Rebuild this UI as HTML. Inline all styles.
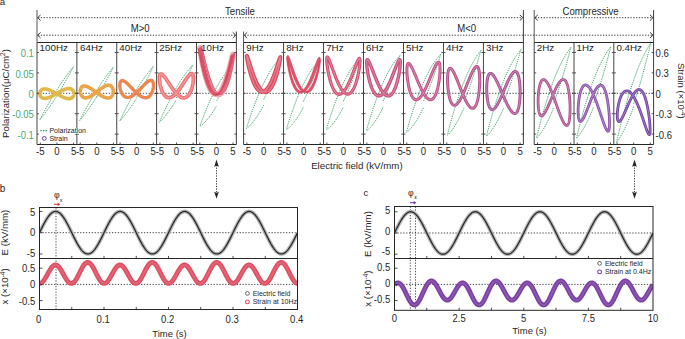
<!DOCTYPE html>
<html><head><meta charset="utf-8"><style>html,body{margin:0;padding:0;background:#fff;width:685px;height:339px;overflow:hidden}</style></head>
<body><div style="width:685px;height:339px">
<svg width="685" height="339" viewBox="0 0 685 339" style="display:block;font-family:'Liberation Sans',sans-serif">
<style>text{stroke-width:0.0px}</style>
<rect width="685" height="339" fill="#fff"/>
<g>
<defs>
<clipPath id="c0"><rect x="37" y="42.5" width="39.87" height="102"/></clipPath>
<clipPath id="c1"><rect x="76.87" y="42.5" width="39.87" height="102"/></clipPath>
<clipPath id="c2"><rect x="116.74" y="42.5" width="39.87" height="102"/></clipPath>
<clipPath id="c3"><rect x="156.61" y="42.5" width="39.87" height="102"/></clipPath>
<clipPath id="c4"><rect x="196.48" y="42.5" width="39.87" height="102"/></clipPath>
<clipPath id="c5"><rect x="243.6" y="42.5" width="39.97" height="102"/></clipPath>
<clipPath id="c6"><rect x="283.57" y="42.5" width="39.97" height="102"/></clipPath>
<clipPath id="c7"><rect x="323.54" y="42.5" width="39.97" height="102"/></clipPath>
<clipPath id="c8"><rect x="363.51" y="42.5" width="39.97" height="102"/></clipPath>
<clipPath id="c9"><rect x="403.49" y="42.5" width="39.97" height="102"/></clipPath>
<clipPath id="c10"><rect x="443.46" y="42.5" width="39.97" height="102"/></clipPath>
<clipPath id="c11"><rect x="483.43" y="42.5" width="39.97" height="102"/></clipPath>
<clipPath id="c12"><rect x="534.2" y="42.5" width="39.8" height="102"/></clipPath>
<clipPath id="c13"><rect x="574" y="42.5" width="39.8" height="102"/></clipPath>
<clipPath id="c14"><rect x="613.8" y="42.5" width="39.8" height="102"/></clipPath>
</defs>
<g clip-path="url(#c0)">
<line x1="37" y1="93.3" x2="76.87" y2="93.3" stroke="#222" stroke-width="0.85" stroke-dasharray="1.3 1.6"/>
<path d="M56.6,96.25 57.19,95.32 57.77,94.38 58.36,93.44 58.94,92.5 59.52,91.55 60.09,90.6 60.66,89.65 61.23,88.7 61.79,87.76 62.35,86.82 62.89,85.88 63.43,84.95 63.96,84.03 64.49,83.12 65,82.23 65.5,81.34 65.99,80.47 66.47,79.61 66.94,78.77 67.4,77.94 67.84,77.14 68.27,76.36 68.68,75.6 69.08,74.86 69.47,74.15 69.84,73.47 70.19,72.81 70.53,72.18 70.85,71.58 71.15,71.01 71.43,70.47 71.7,69.96 71.95,69.49 72.18,69.05 72.39,68.65 72.58,68.29 72.75,67.96 72.9,67.66 73.03,67.41 73.14,67.19 73.24,67.02 73.31,66.88 73.36,66.78 73.39,66.72 73.4,66.7 73.39,66.71 73.36,66.75 73.31,66.81 73.24,66.9 73.14,67.01 73.03,67.15 72.9,67.31 72.75,67.5 72.58,67.71 72.39,67.95 72.18,68.21 71.95,68.5 71.7,68.81 71.43,69.15 71.15,69.51 70.85,69.89 70.53,70.3 70.19,70.73 69.84,71.19 69.47,71.67 69.08,72.18 68.68,72.7 68.27,73.25 67.84,73.83 67.4,74.42 66.94,75.04 66.47,75.68 65.99,76.34 65.5,77.02 65,77.73 64.49,78.45 63.96,79.19 63.43,79.95 62.89,80.73 62.35,81.52 61.79,82.33 61.23,83.16 60.66,84 60.09,84.86 59.52,85.73 58.94,86.61 58.36,87.51 57.77,88.41 57.19,89.33 56.6,90.25 56.01,91.18 55.43,92.12 54.84,93.06 54.26,94 53.68,94.95 53.11,95.9 52.54,96.85 51.97,97.8 51.41,98.74 50.85,99.68 50.31,100.62 49.77,101.55 49.24,102.47 48.71,103.38 48.2,104.28 47.7,105.16 47.21,106.03 46.73,106.89 46.26,107.73 45.8,108.56 45.36,109.36 44.93,110.14 44.52,110.9 44.12,111.64 43.73,112.35 43.36,113.03 43.01,113.69 42.67,114.32 42.35,114.92 42.05,115.49 41.77,116.03 41.5,116.54 41.25,117.01 41.02,117.45 40.81,117.85 40.62,118.21 40.45,118.54 40.3,118.84 40.17,119.09 40.06,119.31 39.96,119.48 39.89,119.62 39.84,119.72 39.81,119.78 39.8,119.8 39.81,119.79 39.84,119.75 39.89,119.69 39.96,119.6 40.06,119.49 40.17,119.35 40.3,119.19 40.45,119 40.62,118.79 40.81,118.55 41.02,118.29 41.25,118 41.5,117.69 41.77,117.35 42.05,116.99 42.35,116.61 42.67,116.2 43.01,115.77 43.36,115.31 43.73,114.83 44.12,114.32 44.52,113.8 44.93,113.25 45.36,112.67 45.8,112.08 46.26,111.46 46.73,110.82 47.21,110.16 47.7,109.48 48.2,108.78 48.71,108.05 49.24,107.31 49.77,106.55 50.31,105.77 50.85,104.98 51.41,104.17 51.97,103.34 52.54,102.5 53.11,101.64 53.68,100.77 54.26,99.89 54.84,98.99 55.43,98.09 56.01,97.17 56.6,96.25" fill="none" stroke="#38a063" stroke-width="1.0" stroke-dasharray="1.2 1.0"/>
<path d="M56.86,93.39 57.35,93.11 57.83,92.83 58.32,92.55 58.8,92.28 59.29,92 59.77,91.74 60.25,91.48 60.72,91.22 61.19,90.97 61.66,90.74 62.13,90.51 62.59,90.28 63.04,90.08 63.5,89.88 63.94,89.69 64.38,89.52 64.81,89.35 65.24,89.21 65.66,89.07 66.08,88.95 66.48,88.85 66.88,88.76 67.27,88.69 67.65,88.63 68.02,88.59 68.39,88.56 68.74,88.55 69.08,88.56 69.42,88.59 69.74,88.62 70.06,88.68 70.36,88.75 70.65,88.84 70.93,88.94 71.2,89.06 71.46,89.19 71.7,89.34 71.94,89.5 72.16,89.67 72.36,89.86 72.56,90.05 72.74,90.26 72.91,90.48 73.07,90.71 73.21,90.95 73.35,91.2 73.46,91.46 73.57,91.72 73.66,91.99 73.73,92.26 73.79,92.54 73.84,92.82 73.88,93.1 73.9,93.39 73.91,93.68 73.9,93.96 73.88,94.25 73.84,94.53 73.79,94.81 73.73,95.08 73.66,95.35 73.57,95.62 73.46,95.88 73.35,96.13 73.21,96.37 73.07,96.61 72.91,96.83 72.74,97.05 72.56,97.25 72.36,97.44 72.16,97.62 71.94,97.79 71.7,97.94 71.46,98.08 71.2,98.21 70.93,98.32 70.65,98.42 70.36,98.5 70.06,98.56 69.74,98.61 69.42,98.65 69.08,98.67 68.74,98.67 68.39,98.65 68.02,98.62 67.65,98.58 67.27,98.52 66.88,98.44 66.48,98.35 66.08,98.25 65.66,98.13 65.24,97.99 64.81,97.84 64.38,97.68 63.94,97.51 63.5,97.32 63.04,97.13 62.59,96.92 62.13,96.7 61.66,96.47 61.19,96.24 60.72,95.99 60.25,95.74 59.77,95.49 59.29,95.22 58.8,94.96 58.32,94.69 57.83,94.41 57.35,94.14 56.86,93.86 56.37,93.59 55.89,93.31 55.4,93.04 54.92,92.76 54.44,92.49 53.95,92.23 53.48,91.97 53,91.72 52.53,91.47 52.06,91.23 51.59,91 51.13,90.78 50.68,90.57 50.23,90.37 49.78,90.18 49.34,90 48.91,89.83 48.48,89.68 48.06,89.53 47.65,89.41 47.24,89.29 46.84,89.2 46.45,89.11 46.07,89.04 45.7,88.99 45.34,88.95 44.98,88.93 44.64,88.92 44.3,88.93 43.98,88.96 43.67,89 43.36,89.05 43.07,89.12 42.79,89.21 42.52,89.31 42.27,89.42 42.02,89.55 41.79,89.69 41.57,89.85 41.36,90.02 41.16,90.2 40.98,90.39 40.81,90.59 40.65,90.8 40.51,91.02 40.38,91.25 40.26,91.49 40.16,91.74 40.07,91.99 39.99,92.25 39.93,92.51 39.88,92.78 39.84,93.05 39.82,93.32 39.82,93.59 39.82,93.86 39.84,94.13 39.88,94.4 39.93,94.67 39.99,94.94 40.07,95.2 40.16,95.45 40.26,95.7 40.38,95.94 40.51,96.18 40.65,96.41 40.81,96.62 40.98,96.83 41.16,97.03 41.36,97.21 41.57,97.39 41.79,97.55 42.02,97.69 42.27,97.83 42.52,97.95 42.79,98.06 43.07,98.15 43.36,98.22 43.67,98.28 43.98,98.33 44.3,98.36 44.64,98.37 44.98,98.37 45.34,98.35 45.7,98.31 46.07,98.26 46.45,98.2 46.84,98.12 47.24,98.02 47.65,97.91 48.06,97.78 48.48,97.64 48.91,97.49 49.34,97.32 49.78,97.14 50.23,96.95 50.68,96.74 51.13,96.53 51.59,96.3 52.06,96.07 52.53,95.83 53,95.58 53.48,95.32 53.95,95.05 54.44,94.79 54.92,94.51 55.4,94.23 55.89,93.96 56.37,93.67 56.86,93.39Z" fill="none" stroke="#dfb94a" stroke-width="3.6" stroke-linejoin="round"/>
</g>
<g clip-path="url(#c1)">
<line x1="76.87" y1="93.3" x2="116.74" y2="93.3" stroke="#222" stroke-width="0.85" stroke-dasharray="1.3 1.6"/>
<path d="M96.6,97.05 97.19,96.12 97.77,95.17 98.36,94.23 98.94,93.28 99.52,92.32 100.09,91.37 100.66,90.41 101.23,89.45 101.79,88.5 102.35,87.55 102.89,86.6 103.43,85.66 103.96,84.73 104.49,83.81 105,82.9 105.5,82 105.99,81.12 106.47,80.25 106.94,79.39 107.4,78.56 107.84,77.74 108.27,76.94 108.68,76.17 109.08,75.42 109.47,74.7 109.84,74 110.19,73.33 110.53,72.69 110.85,72.08 111.15,71.5 111.43,70.95 111.7,70.43 111.95,69.95 112.18,69.5 112.39,69.09 112.58,68.72 112.75,68.38 112.9,68.08 113.03,67.83 113.14,67.6 113.24,67.42 113.31,67.28 113.36,67.18 113.39,67.12 113.4,67.1 113.39,67.11 113.36,67.15 113.31,67.21 113.24,67.3 113.14,67.41 113.03,67.54 112.9,67.7 112.75,67.88 112.58,68.09 112.39,68.32 112.18,68.58 111.95,68.86 111.7,69.16 111.43,69.49 111.15,69.85 110.85,70.22 110.53,70.62 110.19,71.05 109.84,71.5 109.47,71.97 109.08,72.47 108.68,72.99 108.27,73.53 107.84,74.1 107.4,74.68 106.94,75.29 106.47,75.93 105.99,76.58 105.5,77.25 105,77.95 104.49,78.67 103.96,79.4 103.43,80.16 102.89,80.93 102.35,81.72 101.79,82.53 101.23,83.35 100.66,84.2 100.09,85.05 99.52,85.92 98.94,86.8 98.36,87.7 97.77,88.61 97.19,89.52 96.6,90.45 96.01,91.38 95.43,92.33 94.84,93.27 94.26,94.22 93.68,95.18 93.11,96.13 92.54,97.09 91.97,98.05 91.41,99 90.85,99.95 90.31,100.9 89.77,101.84 89.24,102.77 88.71,103.69 88.2,104.6 87.7,105.5 87.21,106.38 86.73,107.25 86.26,108.11 85.8,108.94 85.36,109.76 84.93,110.56 84.52,111.33 84.12,112.08 83.73,112.8 83.36,113.5 83.01,114.17 82.67,114.81 82.35,115.42 82.05,116 81.77,116.55 81.5,117.07 81.25,117.55 81.02,118 80.81,118.41 80.62,118.78 80.45,119.12 80.3,119.42 80.17,119.67 80.06,119.9 79.96,120.08 79.89,120.22 79.84,120.32 79.81,120.38 79.8,120.4 79.81,120.39 79.84,120.35 79.89,120.29 79.96,120.2 80.06,120.09 80.17,119.96 80.3,119.8 80.45,119.62 80.62,119.41 80.81,119.18 81.02,118.92 81.25,118.64 81.5,118.34 81.77,118.01 82.05,117.65 82.35,117.28 82.67,116.88 83.01,116.45 83.36,116 83.73,115.53 84.12,115.03 84.52,114.51 84.93,113.97 85.36,113.4 85.8,112.82 86.26,112.21 86.73,111.57 87.21,110.92 87.7,110.25 88.2,109.55 88.71,108.83 89.24,108.1 89.77,107.34 90.31,106.57 90.85,105.78 91.41,104.97 91.97,104.15 92.54,103.3 93.11,102.45 93.68,101.58 94.26,100.7 94.84,99.8 95.43,98.89 96.01,97.98 96.6,97.05" fill="none" stroke="#38a063" stroke-width="1.0" stroke-dasharray="1.2 1.0"/>
<path d="M96.75,91.93 97.22,91.56 97.69,91.19 98.16,90.82 98.63,90.46 99.1,90.1 99.56,89.74 100.02,89.39 100.48,89.05 100.94,88.71 101.39,88.39 101.84,88.07 102.29,87.77 102.73,87.48 103.16,87.21 103.59,86.95 104.02,86.7 104.44,86.47 104.85,86.26 105.26,86.07 105.66,85.9 106.05,85.74 106.43,85.61 106.81,85.49 107.18,85.4 107.54,85.33 107.89,85.28 108.23,85.25 108.56,85.24 108.88,85.25 109.2,85.28 109.5,85.34 109.79,85.41 110.07,85.51 110.34,85.62 110.6,85.76 110.85,85.91 111.09,86.09 111.32,86.28 111.53,86.49 111.73,86.71 111.92,86.95 112.1,87.21 112.26,87.48 112.41,87.77 112.55,88.06 112.68,88.37 112.79,88.69 112.89,89.02 112.98,89.35 113.05,89.7 113.11,90.05 113.16,90.4 113.19,90.76 113.21,91.12 113.22,91.48 113.21,91.84 113.19,92.2 113.16,92.56 113.11,92.91 113.05,93.26 112.98,93.61 112.89,93.94 112.79,94.28 112.68,94.6 112.55,94.91 112.41,95.21 112.26,95.5 112.1,95.78 111.92,96.05 111.73,96.3 111.53,96.54 111.32,96.76 111.09,96.96 110.85,97.15 110.6,97.33 110.34,97.48 110.07,97.62 109.79,97.74 109.5,97.84 109.2,97.92 108.88,97.98 108.56,98.02 108.23,98.05 107.89,98.05 107.54,98.04 107.18,98.01 106.81,97.95 106.43,97.88 106.05,97.79 105.66,97.69 105.26,97.56 104.85,97.42 104.44,97.26 104.02,97.08 103.59,96.89 103.16,96.69 102.73,96.47 102.29,96.23 101.84,95.99 101.39,95.73 100.94,95.46 100.48,95.18 100.02,94.89 99.56,94.59 99.1,94.28 98.63,93.97 98.16,93.65 97.69,93.32 97.22,92.99 96.75,92.66 96.28,92.33 95.81,91.99 95.35,91.66 94.88,91.33 94.41,90.99 93.95,90.67 93.48,90.34 93.02,90.02 92.57,89.71 92.12,89.41 91.67,89.11 91.22,88.82 90.78,88.54 90.35,88.28 89.91,88.02 89.49,87.78 89.07,87.55 88.66,87.33 88.25,87.13 87.85,86.94 87.46,86.77 87.08,86.61 86.7,86.48 86.33,86.36 85.97,86.25 85.62,86.17 85.28,86.1 84.95,86.06 84.62,86.03 84.31,86.02 84.01,86.03 83.72,86.06 83.43,86.1 83.16,86.17 82.9,86.26 82.66,86.36 82.42,86.48 82.19,86.62 81.98,86.78 81.78,86.95 81.59,87.14 81.41,87.35 81.25,87.57 81.1,87.81 80.96,88.06 80.83,88.32 80.72,88.6 80.62,88.89 80.53,89.18 80.46,89.49 80.4,89.81 80.35,90.13 80.32,90.46 80.3,90.79 80.29,91.13 80.3,91.47 80.32,91.82 80.35,92.16 80.4,92.5 80.46,92.85 80.53,93.19 80.62,93.52 80.72,93.85 80.83,94.18 80.96,94.5 81.1,94.8 81.25,95.1 81.41,95.39 81.59,95.67 81.78,95.93 81.98,96.19 82.19,96.42 82.42,96.64 82.66,96.85 82.9,97.04 83.16,97.21 83.43,97.36 83.72,97.49 84.01,97.61 84.31,97.7 84.62,97.77 84.95,97.83 85.28,97.86 85.62,97.87 85.97,97.86 86.33,97.83 86.7,97.78 87.08,97.71 87.46,97.61 87.85,97.5 88.25,97.37 88.66,97.21 89.07,97.04 89.49,96.85 89.91,96.64 90.35,96.41 90.78,96.17 91.22,95.91 91.67,95.64 92.12,95.35 92.57,95.05 93.02,94.73 93.48,94.41 93.95,94.08 94.41,93.73 94.88,93.38 95.35,93.03 95.81,92.66 96.28,92.3 96.75,91.93Z" fill="none" stroke="#eaa54a" stroke-width="3.6" stroke-linejoin="round"/>
</g>
<g clip-path="url(#c2)">
<line x1="116.74" y1="93.3" x2="156.61" y2="93.3" stroke="#222" stroke-width="0.85" stroke-dasharray="1.3 1.6"/>
<path d="M136.6,97.35 137.19,96.4 137.77,95.45 138.36,94.49 138.94,93.52 139.52,92.55 140.09,91.57 140.66,90.59 141.23,89.61 141.79,88.62 142.35,87.65 142.89,86.67 143.43,85.7 143.96,84.74 144.49,83.78 145,82.83 145.5,81.9 145.99,80.98 146.47,80.07 146.94,79.18 147.4,78.31 147.84,77.45 148.27,76.62 148.68,75.81 149.08,75.02 149.47,74.26 149.84,73.53 150.19,72.83 150.53,72.15 150.85,71.51 151.15,70.9 151.43,70.32 151.7,69.78 151.95,69.27 152.18,68.8 152.39,68.37 152.58,67.98 152.75,67.62 152.9,67.31 153.03,67.04 153.14,66.81 153.24,66.62 153.31,66.48 153.36,66.38 153.39,66.32 153.4,66.3 153.39,66.32 153.36,66.36 153.31,66.42 153.24,66.5 153.14,66.61 153.03,66.74 152.9,66.9 152.75,67.08 152.58,67.28 152.39,67.5 152.18,67.75 151.95,68.01 151.7,68.31 151.43,68.62 151.15,68.96 150.85,69.33 150.53,69.71 150.19,70.12 149.84,70.56 149.47,71.02 149.08,71.5 148.68,72 148.27,72.53 147.84,73.08 147.4,73.65 146.94,74.25 146.47,74.87 145.99,75.51 145.5,76.18 145,76.87 144.49,77.58 143.96,78.31 143.43,79.06 142.89,79.83 142.35,80.62 141.79,81.43 141.23,82.25 140.66,83.1 140.09,83.96 139.52,84.84 138.94,85.74 138.36,86.65 137.77,87.57 137.19,88.5 136.6,89.45 136.01,90.41 135.43,91.37 134.84,92.35 134.26,93.33 133.68,94.31 133.11,95.3 132.54,96.29 131.97,97.28 131.41,98.28 130.85,99.27 130.31,100.25 129.77,101.23 129.24,102.21 128.71,103.18 128.2,104.13 127.7,105.08 127.21,106.01 126.73,106.93 126.26,107.83 125.8,108.72 125.36,109.58 124.93,110.42 124.52,111.25 124.12,112.04 123.73,112.81 123.36,113.56 123.01,114.27 122.67,114.96 122.35,115.61 122.05,116.24 121.77,116.82 121.5,117.38 121.25,117.9 121.02,118.38 120.81,118.82 120.62,119.22 120.45,119.59 120.3,119.91 120.17,120.19 120.06,120.43 119.96,120.63 119.89,120.79 119.84,120.9 119.81,120.97 119.8,121 119.81,120.99 119.84,120.97 119.89,120.91 119.96,120.84 120.06,120.74 120.17,120.62 120.3,120.48 120.45,120.31 120.62,120.12 120.81,119.91 121.02,119.68 121.25,119.42 121.5,119.14 121.77,118.83 122.05,118.5 122.35,118.15 122.67,117.77 123.01,117.38 123.36,116.95 123.73,116.51 124.12,116.04 124.52,115.54 124.93,115.03 125.36,114.49 125.8,113.92 126.26,113.34 126.73,112.73 127.21,112.1 127.7,111.44 128.2,110.77 128.71,110.07 129.24,109.35 129.77,108.61 130.31,107.85 130.85,107.07 131.41,106.27 131.97,105.46 132.54,104.62 133.11,103.77 133.68,102.9 134.26,102.02 134.84,101.12 135.43,100.21 136.01,99.29 136.6,98.35" fill="none" stroke="#38a063" stroke-width="1.0" stroke-dasharray="1.2 1.0"/>
<path d="M136.67,92.5 137.15,92.06 137.63,91.6 138.11,91.13 138.59,90.66 139.07,90.17 139.54,89.69 140.01,89.2 140.48,88.71 140.95,88.22 141.41,87.74 141.87,87.26 142.32,86.78 142.77,86.31 143.22,85.85 143.66,85.39 144.09,84.95 144.52,84.52 144.94,84.11 145.35,83.71 145.76,83.33 146.16,82.97 146.55,82.62 146.94,82.3 147.31,82 147.68,81.72 148.04,81.46 148.39,81.23 148.73,81.02 149.05,80.84 149.37,80.69 149.68,80.56 149.98,80.46 150.27,80.38 150.55,80.34 150.81,80.32 151.06,80.33 151.31,80.37 151.54,80.44 151.75,80.53 151.96,80.65 152.15,80.8 152.33,80.97 152.5,81.18 152.66,81.4 152.8,81.65 152.93,81.93 153.04,82.22 153.14,82.54 153.23,82.88 153.31,83.24 153.37,83.62 153.42,84.02 153.45,84.43 153.47,84.86 153.48,85.3 153.47,85.75 153.45,86.21 153.42,86.68 153.37,87.16 153.31,87.65 153.23,88.14 153.14,88.63 153.04,89.12 152.93,89.62 152.8,90.11 152.66,90.6 152.5,91.08 152.33,91.56 152.15,92.03 151.96,92.48 151.75,92.93 151.54,93.37 151.31,93.79 151.06,94.19 150.81,94.58 150.55,94.95 150.27,95.31 149.98,95.64 149.68,95.95 149.37,96.24 149.05,96.5 148.73,96.75 148.39,96.96 148.04,97.16 147.68,97.32 147.31,97.46 146.94,97.57 146.55,97.66 146.16,97.71 145.76,97.74 145.35,97.75 144.94,97.72 144.52,97.67 144.09,97.58 143.66,97.47 143.22,97.34 142.77,97.18 142.32,96.99 141.87,96.78 141.41,96.54 140.95,96.28 140.48,95.99 140.01,95.68 139.54,95.35 139.07,95.01 138.59,94.64 138.11,94.26 137.63,93.85 137.15,93.44 136.67,93.01 136.19,92.57 135.71,92.11 135.24,91.65 134.76,91.18 134.28,90.7 133.81,90.22 133.34,89.73 132.87,89.25 132.4,88.76 131.94,88.27 131.48,87.79 131.03,87.31 130.58,86.84 130.13,86.38 129.69,85.92 129.26,85.47 128.83,85.04 128.41,84.62 128,84.22 127.59,83.83 127.19,83.46 126.8,83.11 126.41,82.77 126.04,82.46 125.67,82.17 125.31,81.9 124.96,81.66 124.62,81.44 124.29,81.25 123.97,81.08 123.66,80.93 123.37,80.82 123.08,80.73 122.8,80.67 122.54,80.64 122.28,80.63 122.04,80.65 121.81,80.7 121.59,80.78 121.39,80.89 121.19,81.02 121.01,81.18 120.85,81.36 120.69,81.57 120.55,81.8 120.42,82.06 120.31,82.34 120.2,82.64 120.12,82.97 120.04,83.31 119.98,83.67 119.93,84.05 119.9,84.45 119.88,84.86 119.87,85.29 119.88,85.73 119.9,86.17 119.93,86.63 119.98,87.1 120.04,87.57 120.12,88.05 120.2,88.53 120.31,89.01 120.42,89.49 120.55,89.98 120.69,90.45 120.85,90.93 121.01,91.39 121.19,91.85 121.39,92.3 121.59,92.74 121.81,93.16 122.04,93.58 122.28,93.97 122.54,94.35 122.8,94.72 123.08,95.06 123.37,95.39 123.66,95.69 123.97,95.97 124.29,96.23 124.62,96.46 124.96,96.67 125.31,96.85 125.67,97.01 126.04,97.14 126.41,97.25 126.8,97.32 127.19,97.37 127.59,97.4 128,97.39 128.41,97.35 128.83,97.29 129.26,97.2 129.69,97.08 130.13,96.94 130.58,96.77 131.03,96.57 131.48,96.35 131.94,96.11 132.4,95.84 132.87,95.54 133.34,95.23 133.81,94.89 134.28,94.54 134.76,94.16 135.24,93.77 135.71,93.36 136.19,92.94 136.67,92.5Z" fill="none" stroke="#ee874f" stroke-width="3.4" stroke-linejoin="round"/>
</g>
<g clip-path="url(#c3)">
<line x1="156.61" y1="93.3" x2="196.48" y2="93.3" stroke="#222" stroke-width="0.85" stroke-dasharray="1.3 1.6"/>
<path d="M176.15,98.05 176.73,97.07 177.31,96.07 177.89,95.07 178.47,94.06 179.04,93.03 179.61,92.01 180.18,90.97 180.74,89.93 181.3,88.9 181.84,87.86 182.39,86.82 182.92,85.78 183.45,84.75 183.97,83.73 184.47,82.72 184.97,81.71 185.46,80.72 185.94,79.74 186.4,78.78 186.85,77.84 187.29,76.92 187.72,76.02 188.13,75.14 188.52,74.29 188.9,73.46 189.27,72.66 189.62,71.9 189.95,71.16 190.27,70.46 190.57,69.79 190.85,69.16 191.11,68.57 191.36,68.02 191.59,67.51 191.8,67.04 191.99,66.61 192.16,66.22 192.31,65.88 192.44,65.59 192.55,65.34 192.64,65.14 192.71,64.98 192.76,64.87 192.79,64.81 192.8,64.8 192.79,64.82 192.76,64.86 192.71,64.93 192.64,65.01 192.55,65.12 192.44,65.25 192.31,65.4 192.16,65.57 191.99,65.76 191.8,65.97 191.59,66.21 191.36,66.47 191.11,66.75 190.85,67.05 190.57,67.38 190.27,67.73 189.95,68.1 189.62,68.5 189.27,68.92 188.9,69.36 188.52,69.83 188.13,70.32 187.72,70.84 187.29,71.38 186.85,71.94 186.4,72.53 185.94,73.15 185.46,73.78 184.97,74.45 184.47,75.13 183.97,75.84 183.45,76.58 182.92,77.34 182.39,78.12 181.84,78.92 181.3,79.75 180.74,80.59 180.18,81.46 179.61,82.35 179.04,83.25 178.47,84.18 177.89,85.12 177.31,86.08 176.73,87.06 176.15,88.05 175.57,89.05 174.99,90.07 174.41,91.1 173.83,92.13 173.26,93.18 172.69,94.23 172.12,95.28 171.56,96.34 171,97.4 170.46,98.47 169.91,99.53 169.38,100.58 168.85,101.64 168.33,102.68 167.82,103.72 167.33,104.74 166.84,105.76 166.36,106.76 165.9,107.74 165.45,108.7 165.01,109.65 164.58,110.57 164.17,111.47 163.78,112.35 163.4,113.2 163.03,114.02 162.68,114.8 162.35,115.56 162.03,116.29 161.73,116.97 161.45,117.63 161.19,118.24 160.94,118.81 160.71,119.35 160.5,119.84 160.31,120.29 160.14,120.7 159.99,121.06 159.86,121.38 159.75,121.65 159.66,121.87 159.59,122.05 159.54,122.18 159.51,122.26 159.5,122.3 159.51,122.3 159.54,122.28 159.59,122.24 159.66,122.18 159.75,122.09 159.86,121.99 159.99,121.86 160.14,121.71 160.31,121.54 160.5,121.35 160.71,121.14 160.94,120.9 161.19,120.64 161.45,120.36 161.73,120.06 162.03,119.73 162.35,119.38 162.68,119 163.03,118.61 163.4,118.19 163.78,117.74 164.17,117.27 164.58,116.78 165.01,116.26 165.45,115.71 165.9,115.15 166.36,114.55 166.84,113.94 167.33,113.3 167.82,112.63 168.33,111.94 168.85,111.23 169.38,110.5 169.91,109.74 170.46,108.96 171,108.15 171.56,107.33 172.12,106.48 172.69,105.62 173.26,104.73 173.83,103.83 174.41,102.91 174.99,101.97 175.57,101.02 176.15,100.05" fill="none" stroke="#38a063" stroke-width="1.0" stroke-dasharray="1.2 1.0"/>
<path d="M176.43,92.89 176.92,92.33 177.4,91.74 177.88,91.14 178.37,90.52 178.85,89.88 179.33,89.22 179.8,88.56 180.28,87.89 180.75,87.2 181.21,86.52 181.68,85.83 182.14,85.14 182.59,84.46 183.04,83.77 183.48,83.1 183.92,82.43 184.35,81.77 184.78,81.13 185.2,80.5 185.61,79.89 186.01,79.3 186.41,78.73 186.8,78.18 187.18,77.66 187.55,77.16 187.91,76.7 188.26,76.26 188.6,75.85 188.94,75.47 189.26,75.13 189.57,74.82 189.87,74.55 190.16,74.32 190.44,74.12 190.71,73.96 190.97,73.84 191.21,73.75 191.44,73.71 191.66,73.7 191.87,73.73 192.07,73.81 192.25,73.92 192.42,74.06 192.57,74.25 192.72,74.47 192.85,74.73 192.96,75.02 193.07,75.35 193.16,75.71 193.23,76.11 193.29,76.53 193.34,76.98 193.38,77.47 193.4,77.97 193.4,78.51 193.4,79.06 193.38,79.64 193.34,80.23 193.29,80.85 193.23,81.48 193.16,82.12 193.07,82.77 192.96,83.44 192.85,84.11 192.72,84.78 192.57,85.46 192.42,86.14 192.25,86.82 192.07,87.49 191.87,88.16 191.66,88.82 191.44,89.47 191.21,90.11 190.97,90.74 190.71,91.35 190.44,91.94 190.16,92.51 189.87,93.06 189.57,93.59 189.26,94.09 188.94,94.57 188.6,95.02 188.26,95.44 187.91,95.83 187.55,96.19 187.18,96.51 186.8,96.8 186.41,97.06 186.01,97.28 185.61,97.46 185.2,97.61 184.78,97.72 184.35,97.79 183.92,97.83 183.48,97.83 183.04,97.79 182.59,97.71 182.14,97.59 181.68,97.44 181.21,97.25 180.75,97.02 180.28,96.76 179.8,96.46 179.33,96.13 178.85,95.77 178.37,95.37 177.88,94.95 177.4,94.49 176.92,94.01 176.43,93.5 175.95,92.97 175.46,92.42 174.98,91.84 174.5,91.25 174.02,90.64 173.54,90.01 173.06,89.37 172.59,88.72 172.12,88.06 171.65,87.39 171.19,86.72 170.73,86.04 170.27,85.37 169.82,84.69 169.38,84.02 168.94,83.36 168.51,82.7 168.08,82.05 167.67,81.42 167.25,80.8 166.85,80.2 166.45,79.61 166.07,79.05 165.69,78.5 165.32,77.98 164.95,77.49 164.6,77.03 164.26,76.59 163.93,76.18 163.6,75.81 163.29,75.46 162.99,75.15 162.7,74.88 162.42,74.64 162.15,74.44 161.9,74.28 161.65,74.15 161.42,74.07 161.2,74.02 160.99,74.01 160.8,74.04 160.61,74.11 160.44,74.22 160.29,74.36 160.14,74.55 160.01,74.77 159.9,75.03 159.8,75.32 159.71,75.65 159.63,76.02 159.57,76.41 159.52,76.84 159.48,77.3 159.46,77.79 159.46,78.3 159.46,78.84 159.48,79.4 159.52,79.99 159.57,80.59 159.63,81.21 159.71,81.85 159.8,82.5 159.9,83.16 160.01,83.83 160.14,84.51 160.29,85.19 160.44,85.88 160.61,86.56 160.8,87.25 160.99,87.92 161.2,88.6 161.42,89.26 161.65,89.91 161.9,90.54 162.15,91.17 162.42,91.77 162.7,92.35 162.99,92.91 163.29,93.45 163.6,93.96 163.93,94.45 164.26,94.9 164.6,95.33 164.95,95.72 165.32,96.08 165.69,96.4 166.07,96.69 166.45,96.95 166.85,97.16 167.25,97.34 167.67,97.48 168.08,97.58 168.51,97.64 168.94,97.65 169.38,97.63 169.82,97.57 170.27,97.47 170.73,97.33 171.19,97.16 171.65,96.94 172.12,96.69 172.59,96.39 173.06,96.07 173.54,95.71 174.02,95.31 174.5,94.89 174.98,94.43 175.46,93.94 175.95,93.43 176.43,92.89Z" fill="none" stroke="#f07073" stroke-width="3.8" stroke-linejoin="round"/>
<path d="M176.43,92.89 176.92,92.33 177.4,91.74 177.88,91.14 178.37,90.52 178.85,89.88 179.33,89.22 179.8,88.56 180.28,87.89 180.75,87.2 181.21,86.52 181.68,85.83 182.14,85.14 182.59,84.46 183.04,83.77 183.48,83.1 183.92,82.43 184.35,81.77 184.78,81.13 185.2,80.5 185.61,79.89 186.01,79.3 186.41,78.73 186.8,78.18 187.18,77.66 187.55,77.16 187.91,76.7 188.26,76.26 188.6,75.85 188.94,75.47 189.26,75.13 189.57,74.82 189.87,74.55 190.16,74.32 190.44,74.12 190.71,73.96 190.97,73.84 191.21,73.75 191.44,73.71 191.66,73.7 191.87,73.73 192.07,73.81 192.25,73.92 192.42,74.06 192.57,74.25 192.72,74.47 192.85,74.73 192.96,75.02 193.07,75.35 193.16,75.71 193.23,76.11 193.29,76.53 193.34,76.98 193.38,77.47 193.4,77.97 193.4,78.51 193.4,79.06 193.38,79.64 193.34,80.23 193.29,80.85 193.23,81.48 193.16,82.12 193.07,82.77 192.96,83.44 192.85,84.11 192.72,84.78 192.57,85.46 192.42,86.14 192.25,86.82 192.07,87.49 191.87,88.16 191.66,88.82 191.44,89.47 191.21,90.11 190.97,90.74 190.71,91.35 190.44,91.94 190.16,92.51 189.87,93.06 189.57,93.59 189.26,94.09 188.94,94.57 188.6,95.02 188.26,95.44 187.91,95.83 187.55,96.19 187.18,96.51 186.8,96.8 186.41,97.06 186.01,97.28 185.61,97.46 185.2,97.61 184.78,97.72 184.35,97.79 183.92,97.83 183.48,97.83 183.04,97.79 182.59,97.71 182.14,97.59 181.68,97.44 181.21,97.25 180.75,97.02 180.28,96.76 179.8,96.46 179.33,96.13 178.85,95.77 178.37,95.37 177.88,94.95 177.4,94.49 176.92,94.01 176.43,93.5 175.95,92.97 175.46,92.42 174.98,91.84 174.5,91.25 174.02,90.64 173.54,90.01 173.06,89.37 172.59,88.72 172.12,88.06 171.65,87.39 171.19,86.72 170.73,86.04 170.27,85.37 169.82,84.69 169.38,84.02 168.94,83.36 168.51,82.7 168.08,82.05 167.67,81.42 167.25,80.8 166.85,80.2 166.45,79.61 166.07,79.05 165.69,78.5 165.32,77.98 164.95,77.49 164.6,77.03 164.26,76.59 163.93,76.18 163.6,75.81 163.29,75.46 162.99,75.15 162.7,74.88 162.42,74.64 162.15,74.44 161.9,74.28 161.65,74.15 161.42,74.07 161.2,74.02 160.99,74.01 160.8,74.04 160.61,74.11 160.44,74.22 160.29,74.36 160.14,74.55 160.01,74.77 159.9,75.03 159.8,75.32 159.71,75.65 159.63,76.02 159.57,76.41 159.52,76.84 159.48,77.3 159.46,77.79 159.46,78.3 159.46,78.84 159.48,79.4 159.52,79.99 159.57,80.59 159.63,81.21 159.71,81.85 159.8,82.5 159.9,83.16 160.01,83.83 160.14,84.51 160.29,85.19 160.44,85.88 160.61,86.56 160.8,87.25 160.99,87.92 161.2,88.6 161.42,89.26 161.65,89.91 161.9,90.54 162.15,91.17 162.42,91.77 162.7,92.35 162.99,92.91 163.29,93.45 163.6,93.96 163.93,94.45 164.26,94.9 164.6,95.33 164.95,95.72 165.32,96.08 165.69,96.4 166.07,96.69 166.45,96.95 166.85,97.16 167.25,97.34 167.67,97.48 168.08,97.58 168.51,97.64 168.94,97.65 169.38,97.63 169.82,97.57 170.27,97.47 170.73,97.33 171.19,97.16 171.65,96.94 172.12,96.69 172.59,96.39 173.06,96.07 173.54,95.71 174.02,95.31 174.5,94.89 174.98,94.43 175.46,93.94 175.95,93.43 176.43,92.89Z" fill="none" stroke="#f49b9d" stroke-width="1.3679999999999999" stroke-linejoin="round"/>
</g>
<g clip-path="url(#c4)">
<line x1="196.48" y1="93.3" x2="236.35" y2="93.3" stroke="#222" stroke-width="0.85" stroke-dasharray="1.3 1.6"/>
<path d="M216.75,100.65 217.34,99.62 217.93,98.58 218.51,97.52 219.1,96.44 219.68,95.36 220.25,94.25 220.83,93.14 221.39,92.02 221.96,90.9 222.51,89.77 223.06,88.63 223.6,87.5 224.14,86.37 224.66,85.24 225.17,84.12 225.68,83 226.17,81.9 226.65,80.81 227.12,79.74 227.58,78.68 228.02,77.64 228.45,76.63 228.87,75.64 229.27,74.68 229.66,73.75 230.03,72.84 230.38,71.97 230.72,71.14 231.04,70.35 231.34,69.59 231.63,68.87 231.89,68.2 232.14,67.58 232.37,66.99 232.58,66.46 232.78,65.98 232.95,65.54 233.1,65.16 233.23,64.83 233.34,64.56 233.44,64.33 233.51,64.17 233.56,64.06 233.59,64 233.6,64 233.59,64.04 233.56,64.09 233.51,64.16 233.44,64.25 233.34,64.35 233.23,64.47 233.1,64.61 232.95,64.77 232.78,64.95 232.58,65.15 232.37,65.36 232.14,65.59 231.89,65.85 231.63,66.13 231.34,66.42 231.04,66.74 230.72,67.08 230.38,67.45 230.03,67.83 229.66,68.25 229.27,68.68 228.87,69.14 228.45,69.63 228.02,70.14 227.58,70.68 227.12,71.25 226.65,71.84 226.17,72.46 225.68,73.11 225.17,73.78 224.66,74.49 224.14,75.22 223.6,75.98 223.06,76.77 222.51,77.58 221.96,78.42 221.39,79.29 220.83,80.19 220.25,81.11 219.68,82.06 219.1,83.03 218.51,84.03 217.93,85.05 217.34,86.09 216.75,87.15 216.16,88.23 215.57,89.33 214.99,90.45 214.4,91.58 213.82,92.72 213.25,93.88 212.67,95.05 212.11,96.22 211.54,97.4 210.99,98.59 210.44,99.78 209.9,100.97 209.36,102.16 208.84,103.34 208.32,104.52 207.82,105.69 207.33,106.84 206.85,107.99 206.38,109.12 205.92,110.23 205.48,111.32 205.05,112.39 204.63,113.44 204.23,114.45 203.84,115.44 203.47,116.4 203.12,117.33 202.78,118.21 202.46,119.07 202.16,119.88 201.87,120.65 201.61,121.38 201.36,122.06 201.13,122.69 200.92,123.28 200.72,123.82 200.55,124.31 200.4,124.75 200.27,125.13 200.16,125.47 200.06,125.74 199.99,125.97 199.94,126.13 199.91,126.24 199.9,126.3 199.91,126.32 199.94,126.32 199.99,126.31 200.06,126.28 200.16,126.23 200.27,126.16 200.4,126.07 200.55,125.97 200.72,125.85 200.92,125.71 201.13,125.55 201.36,125.37 201.61,125.17 201.87,124.95 202.16,124.71 202.46,124.45 202.78,124.16 203.12,123.85 203.47,123.52 203.84,123.17 204.23,122.79 204.63,122.38 205.05,121.95 205.48,121.49 205.92,121.01 206.38,120.5 206.85,119.96 207.33,119.4 207.82,118.8 208.32,118.18 208.84,117.54 209.36,116.86 209.9,116.15 210.44,115.42 210.99,114.66 211.54,113.88 212.11,113.06 212.67,112.22 213.25,111.35 213.82,110.46 214.4,109.55 214.99,108.6 215.57,107.64 216.16,106.66 216.75,105.65" fill="none" stroke="#38a063" stroke-width="1.0" stroke-dasharray="1.2 1.0"/>
<path d="M216.41,94.3 216.89,94.18 217.36,93.98 217.84,93.72 218.31,93.39 218.78,92.99 219.25,92.53 219.71,92.01 220.17,91.42 220.64,90.77 221.09,90.07 221.54,89.31 221.99,88.5 222.44,87.65 222.88,86.74 223.31,85.8 223.74,84.81 224.16,83.79 224.58,82.74 224.99,81.65 225.39,80.55 225.78,79.42 226.17,78.27 226.55,77.11 226.92,75.94 227.29,74.77 227.64,73.59 227.98,72.42 228.32,71.25 228.64,70.09 228.96,68.95 229.27,67.83 229.56,66.73 229.84,65.65 230.12,64.61 230.38,63.59 230.63,62.62 230.87,61.68 231.1,60.79 231.31,59.94 231.51,59.14 231.71,58.39 231.88,57.7 232.05,57.06 232.2,56.48 232.34,55.97 232.47,55.51 232.58,55.12 232.68,54.79 232.77,54.53 232.85,54.34 232.91,54.22 232.95,54.16 232.99,54.17 233.01,54.25 233.01,54.4 233.01,54.62 232.99,54.9 232.95,55.25 232.91,55.66 232.85,56.14 232.77,56.68 232.68,57.28 232.58,57.94 232.47,58.66 232.34,59.43 232.2,60.24 232.05,61.11 231.88,62.03 231.71,62.98 231.51,63.98 231.31,65.01 231.1,66.07 230.87,67.16 230.63,68.28 230.38,69.41 230.12,70.57 229.84,71.74 229.56,72.92 229.27,74.1 228.96,75.29 228.64,76.47 228.32,77.65 227.98,78.82 227.64,79.97 227.29,81.1 226.92,82.21 226.55,83.3 226.17,84.36 225.78,85.38 225.39,86.37 224.99,87.31 224.58,88.22 224.16,89.07 223.74,89.88 223.31,90.63 222.88,91.33 222.44,91.97 221.99,92.56 221.54,93.08 221.09,93.53 220.64,93.92 220.17,94.24 219.71,94.5 219.25,94.68 218.78,94.8 218.31,94.84 217.84,94.81 217.36,94.71 216.89,94.54 216.41,94.3 215.94,93.99 215.47,93.61 214.99,93.16 214.52,92.64 214.05,92.05 213.58,91.41 213.12,90.7 212.66,89.92 212.19,89.1 211.74,88.21 211.29,87.27 210.84,86.29 210.39,85.25 209.95,84.17 209.52,83.06 209.09,81.9 208.67,80.71 208.25,79.49 207.84,78.25 207.44,76.98 207.05,75.69 206.66,74.39 206.28,73.08 205.91,71.76 205.54,70.45 205.19,69.13 204.85,67.82 204.51,66.52 204.19,65.23 203.87,63.96 203.56,62.72 203.27,61.5 202.99,60.31 202.71,59.16 202.45,58.04 202.2,56.96 201.96,55.93 201.73,54.95 201.52,54.01 201.32,53.13 201.12,52.31 200.95,51.55 200.78,50.84 200.63,50.21 200.49,49.63 200.36,49.13 200.25,48.69 200.15,48.32 200.06,48.03 199.98,47.81 199.92,47.66 199.88,47.58 199.84,47.58 199.82,47.65 199.81,47.8 199.82,48.02 199.84,48.31 199.88,48.67 199.92,49.11 199.98,49.61 200.06,50.18 200.15,50.82 200.25,51.51 200.36,52.27 200.49,53.09 200.63,53.97 200.78,54.9 200.95,55.87 201.12,56.9 201.32,57.97 201.52,59.08 201.73,60.23 201.96,61.41 202.2,62.62 202.45,63.86 202.71,65.12 202.99,66.4 203.27,67.69 203.56,68.99 203.87,70.3 204.19,71.61 204.51,72.92 204.85,74.22 205.19,75.51 205.54,76.78 205.91,78.04 206.28,79.27 206.66,80.48 207.05,81.66 207.44,82.8 207.84,83.91 208.25,84.97 208.67,85.99 209.09,86.97 209.52,87.89 209.95,88.76 210.39,89.58 210.84,90.34 211.29,91.04 211.74,91.67 212.19,92.24 212.66,92.75 213.12,93.19 213.58,93.56 214.05,93.86 214.52,94.09 214.99,94.25 215.47,94.34 215.94,94.35 216.41,94.3Z" fill="none" stroke="#f0aab4" stroke-width="5.2" stroke-linejoin="round"/>
<path d="M214.81,95.1 215.29,95.06 215.76,94.95 216.24,94.78 216.71,94.53 217.18,94.22 217.65,93.84 218.11,93.39 218.57,92.88 219.04,92.31 219.49,91.68 219.94,91 220.39,90.25 220.84,89.46 221.28,88.62 221.71,87.73 222.14,86.8 222.56,85.83 222.98,84.82 223.39,83.78 223.79,82.71 224.18,81.62 224.57,80.5 224.95,79.36 225.32,78.21 225.69,77.05 226.04,75.89 226.38,74.72 226.72,73.55 227.04,72.39 227.36,71.24 227.67,70.1 227.96,68.98 228.24,67.88 228.52,66.8 228.78,65.76 229.03,64.74 229.27,63.76 229.5,62.82 229.71,61.93 229.91,61.07 230.11,60.27 230.28,59.51 230.45,58.81 230.6,58.16 230.74,57.58 230.87,57.05 230.98,56.58 231.08,56.18 231.17,55.84 231.25,55.56 231.31,55.35 231.35,55.21 231.39,55.14 231.41,55.14 231.41,55.2 231.41,55.33 231.39,55.53 231.35,55.79 231.31,56.12 231.25,56.52 231.17,56.98 231.08,57.5 230.98,58.08 230.87,58.72 230.74,59.41 230.6,60.16 230.45,60.96 230.28,61.81 230.11,62.7 229.91,63.64 229.71,64.62 229.5,65.63 229.27,66.68 229.03,67.75 228.78,68.85 228.52,69.97 228.24,71.11 227.96,72.27 227.67,73.43 227.36,74.6 227.04,75.78 226.72,76.95 226.38,78.12 226.04,79.27 225.69,80.42 225.32,81.54 224.95,82.65 224.57,83.73 224.18,84.78 223.79,85.8 223.39,86.79 222.98,87.73 222.56,88.64 222.14,89.49 221.71,90.3 221.28,91.06 220.84,91.76 220.39,92.41 219.94,92.99 219.49,93.52 219.04,93.98 218.57,94.38 218.11,94.71 217.65,94.98 217.18,95.17 216.71,95.3 216.24,95.36 215.76,95.34 215.29,95.26 214.81,95.1 214.34,94.87 213.87,94.58 213.39,94.21 212.92,93.78 212.45,93.28 211.98,92.71 211.52,92.08 211.06,91.39 210.59,90.63 210.14,89.82 209.69,88.96 209.24,88.04 208.79,87.07 208.35,86.05 207.92,84.99 207.49,83.89 207.07,82.75 206.65,81.58 206.24,80.37 205.84,79.14 205.45,77.89 205.06,76.62 204.68,75.33 204.31,74.03 203.94,72.73 203.59,71.42 203.25,70.12 202.91,68.82 202.59,67.53 202.27,66.25 201.96,64.99 201.67,63.75 201.39,62.54 201.11,61.36 200.85,60.2 200.6,59.09 200.36,58.02 200.13,56.99 199.92,56 199.72,55.07 199.52,54.19 199.35,53.36 199.18,52.59 199.03,51.89 198.89,51.24 198.76,50.66 198.65,50.15 198.55,49.71 198.46,49.33 198.38,49.03 198.32,48.8 198.28,48.64 198.24,48.55 198.22,48.54 198.22,48.6 198.22,48.73 198.24,48.94 198.28,49.22 198.32,49.57 198.38,49.99 198.46,50.48 198.55,51.03 198.65,51.65 198.76,52.34 198.89,53.08 199.03,53.89 199.18,54.75 199.35,55.66 199.52,56.63 199.72,57.64 199.92,58.69 200.13,59.79 200.36,60.93 200.6,62.1 200.85,63.3 201.11,64.52 201.39,65.77 201.67,67.04 201.96,68.32 202.27,69.61 202.59,70.91 202.91,72.22 203.25,73.52 203.59,74.81 203.94,76.1 204.31,77.37 204.68,78.62 205.06,79.85 205.45,81.06 205.84,82.24 206.24,83.38 206.65,84.49 207.07,85.56 207.49,86.58 207.92,87.56 208.35,88.49 208.79,89.37 209.24,90.19 209.69,90.95 210.14,91.66 210.59,92.31 211.06,92.89 211.52,93.4 211.98,93.85 212.45,94.23 212.92,94.55 213.39,94.79 213.87,94.96 214.34,95.07 214.81,95.1Z" fill="none" stroke="#d6435a" stroke-width="1.0" stroke-linejoin="round" opacity="0.85"/>
<path d="M215.86,94.6 216.34,94.5 216.81,94.34 217.29,94.11 217.76,93.8 218.23,93.43 218.7,93 219.16,92.5 219.62,91.94 220.09,91.32 220.54,90.64 220.99,89.91 221.44,89.12 221.89,88.29 222.33,87.4 222.76,86.48 223.19,85.51 223.61,84.5 224.03,83.46 224.44,82.4 224.84,81.3 225.23,80.18 225.62,79.05 226,77.89 226.37,76.73 226.74,75.56 227.09,74.39 227.43,73.22 227.77,72.05 228.09,70.89 228.41,69.75 228.72,68.62 229.01,67.51 229.29,66.43 229.57,65.37 229.83,64.35 230.08,63.36 230.32,62.41 230.55,61.5 230.76,60.63 230.96,59.82 231.16,59.05 231.33,58.34 231.5,57.68 231.65,57.08 231.79,56.54 231.92,56.06 232.03,55.64 232.13,55.29 232.22,55 232.3,54.78 232.36,54.63 232.4,54.54 232.44,54.53 232.46,54.58 232.46,54.7 232.46,54.89 232.44,55.14 232.4,55.46 232.36,55.85 232.3,56.3 232.22,56.82 232.13,57.39 232.03,58.02 231.92,58.71 231.79,59.45 231.65,60.25 231.5,61.1 231.33,61.99 231.16,62.92 230.96,63.9 230.76,64.91 230.55,65.96 230.32,67.03 230.08,68.13 229.83,69.26 229.57,70.4 229.29,71.56 229.01,72.73 228.72,73.91 228.41,75.09 228.09,76.27 227.77,77.45 227.43,78.62 227.09,79.77 226.74,80.91 226.37,82.02 226,83.12 225.62,84.18 225.23,85.22 224.84,86.21 224.44,87.17 224.03,88.09 223.61,88.96 223.19,89.78 222.76,90.56 222.33,91.27 221.89,91.94 221.44,92.54 220.99,93.08 220.54,93.56 220.09,93.97 219.62,94.32 219.16,94.6 218.7,94.81 218.23,94.96 217.76,95.03 217.29,95.03 216.81,94.96 216.34,94.81 215.86,94.6 215.39,94.32 214.92,93.96 214.44,93.54 213.97,93.05 213.5,92.49 213.03,91.87 212.57,91.19 212.11,90.45 211.64,89.64 211.19,88.78 210.74,87.87 210.29,86.9 209.84,85.89 209.4,84.83 208.97,83.73 208.54,82.6 208.12,81.42 207.7,80.22 207.29,78.99 206.89,77.73 206.5,76.46 206.11,75.17 205.73,73.86 205.36,72.55 204.99,71.24 204.64,69.93 204.3,68.62 203.96,67.32 203.64,66.03 203.32,64.76 203.01,63.51 202.72,62.28 202.44,61.09 202.16,59.92 201.9,58.79 201.65,57.71 201.41,56.66 201.18,55.66 200.97,54.71 200.77,53.81 200.57,52.97 200.4,52.19 200.23,51.46 200.08,50.8 199.94,50.2 199.81,49.67 199.7,49.21 199.6,48.82 199.51,48.5 199.43,48.25 199.37,48.07 199.33,47.97 199.29,47.94 199.27,47.98 199.26,48.1 199.27,48.29 199.29,48.55 199.33,48.89 199.37,49.29 199.43,49.77 199.51,50.31 199.6,50.92 199.7,51.59 199.81,52.33 199.94,53.12 200.08,53.97 200.23,54.88 200.4,55.84 200.57,56.84 200.77,57.89 200.97,58.99 201.18,60.12 201.41,61.28 201.65,62.48 201.9,63.71 202.16,64.96 202.44,66.22 202.72,67.51 203.01,68.8 203.32,70.1 203.64,71.41 203.96,72.72 204.3,74.02 204.64,75.31 204.99,76.59 205.36,77.85 205.73,79.09 206.11,80.3 206.5,81.49 206.89,82.64 207.29,83.76 207.7,84.84 208.12,85.88 208.54,86.87 208.97,87.81 209.4,88.71 209.84,89.54 210.29,90.32 210.74,91.04 211.19,91.7 211.64,92.3 212.11,92.83 212.57,93.29 213.03,93.69 213.5,94.02 213.97,94.27 214.44,94.46 214.92,94.58 215.39,94.62 215.86,94.6Z" fill="none" stroke="#d6435a" stroke-width="1.0" stroke-linejoin="round" opacity="0.85"/>
<path d="M216.97,94 217.44,93.85 217.91,93.63 218.39,93.34 218.86,92.98 219.33,92.55 219.8,92.06 220.26,91.51 220.72,90.9 221.19,90.23 221.64,89.5 222.09,88.72 222.54,87.89 222.99,87.01 223.43,86.09 223.86,85.12 224.29,84.12 224.71,83.08 225.13,82.01 225.54,80.91 225.94,79.79 226.33,78.65 226.72,77.5 227.1,76.33 227.47,75.15 227.84,73.97 228.19,72.79 228.53,71.62 228.87,70.45 229.19,69.3 229.51,68.16 229.82,67.04 230.11,65.94 230.39,64.88 230.67,63.84 230.93,62.84 231.18,61.87 231.42,60.95 231.65,60.07 231.86,59.24 232.06,58.46 232.26,57.73 232.43,57.06 232.6,56.44 232.75,55.89 232.89,55.39 233.02,54.96 233.13,54.6 233.23,54.3 233.32,54.06 233.4,53.9 233.46,53.8 233.5,53.77 233.54,53.81 233.56,53.92 233.56,54.1 233.56,54.35 233.54,54.66 233.5,55.04 233.46,55.48 233.4,55.98 233.32,56.55 233.23,57.18 233.13,57.86 233.02,58.6 232.89,59.4 232.75,60.24 232.6,61.13 232.43,62.06 232.26,63.04 232.06,64.05 231.86,65.1 231.65,66.18 231.42,67.29 231.18,68.42 230.93,69.57 230.67,70.74 230.39,71.91 230.11,73.1 229.82,74.29 229.51,75.48 229.19,76.67 228.87,77.85 228.53,79.02 228.19,80.17 227.84,81.3 227.47,82.4 227.1,83.48 226.72,84.53 226.33,85.55 225.94,86.52 225.54,87.46 225.13,88.35 224.71,89.19 224.29,89.98 223.86,90.71 223.43,91.39 222.99,92.01 222.54,92.57 222.09,93.07 221.64,93.5 221.19,93.87 220.72,94.16 220.26,94.39 219.8,94.55 219.33,94.64 218.86,94.65 218.39,94.6 217.91,94.47 217.44,94.27 216.97,94 216.49,93.66 216.02,93.25 215.54,92.77 215.07,92.22 214.6,91.61 214.13,90.94 213.67,90.2 213.21,89.4 212.74,88.55 212.29,87.64 211.84,86.68 211.39,85.67 210.94,84.61 210.5,83.52 210.07,82.38 209.64,81.2 209.22,80 208.8,78.76 208.39,77.5 207.99,76.22 207.6,74.93 207.21,73.62 206.83,72.3 206.46,70.97 206.09,69.65 205.74,68.33 205.4,67.02 205.06,65.72 204.74,64.43 204.42,63.17 204.11,61.93 203.82,60.72 203.54,59.54 203.26,58.39 203,57.29 202.75,56.22 202.51,55.2 202.28,54.24 202.07,53.32 201.87,52.46 201.67,51.65 201.5,50.91 201.33,50.23 201.18,49.61 201.04,49.06 200.91,48.58 200.8,48.17 200.7,47.83 200.61,47.56 200.53,47.37 200.47,47.24 200.43,47.2 200.39,47.22 200.37,47.33 200.37,47.5 200.37,47.75 200.39,48.07 200.43,48.46 200.47,48.92 200.53,49.45 200.61,50.05 200.7,50.71 200.8,51.43 200.91,52.22 201.04,53.06 201.18,53.96 201.33,54.91 201.5,55.91 201.67,56.96 201.87,58.05 202.07,59.18 202.28,60.34 202.51,61.54 202.75,62.77 203,64.02 203.26,65.29 203.54,66.57 203.82,67.87 204.11,69.18 204.42,70.49 204.74,71.81 205.06,73.12 205.4,74.42 205.74,75.7 206.09,76.98 206.46,78.23 206.83,79.45 207.21,80.65 207.6,81.82 207.99,82.95 208.39,84.05 208.8,85.1 209.22,86.11 209.64,87.06 210.07,87.97 210.5,88.82 210.94,89.62 211.39,90.35 211.84,91.03 212.29,91.64 212.74,92.19 213.21,92.67 213.67,93.08 214.13,93.42 214.6,93.7 215.07,93.9 215.54,94.03 216.02,94.09 216.49,94.08 216.97,94Z" fill="none" stroke="#d6435a" stroke-width="1.0" stroke-linejoin="round" opacity="0.85"/>
<path d="M218.01,93.5 218.49,93.29 218.96,93.01 219.44,92.66 219.91,92.25 220.38,91.77 220.85,91.23 221.31,90.62 221.77,89.96 222.24,89.24 222.69,88.46 223.14,87.63 223.59,86.76 224.04,85.83 224.48,84.87 224.91,83.86 225.34,82.82 225.76,81.75 226.18,80.65 226.59,79.53 226.99,78.38 227.38,77.22 227.77,76.04 228.15,74.86 228.52,73.67 228.89,72.48 229.24,71.3 229.58,70.12 229.92,68.95 230.24,67.8 230.56,66.67 230.87,65.56 231.16,64.48 231.44,63.43 231.72,62.41 231.98,61.43 232.23,60.49 232.47,59.59 232.7,58.75 232.91,57.95 233.11,57.2 233.31,56.52 233.48,55.88 233.65,55.31 233.8,54.8 233.94,54.35 234.07,53.97 234.18,53.66 234.28,53.41 234.37,53.23 234.45,53.12 234.51,53.08 234.55,53.1 234.59,53.2 234.61,53.37 234.61,53.6 234.61,53.9 234.59,54.27 234.55,54.71 234.51,55.2 234.45,55.77 234.37,56.39 234.28,57.07 234.18,57.8 234.07,58.59 233.94,59.44 233.8,60.33 233.65,61.26 233.48,62.24 233.31,63.26 233.11,64.31 232.91,65.39 232.7,66.51 232.47,67.64 232.23,68.8 231.98,69.98 231.72,71.17 231.44,72.36 231.16,73.57 230.87,74.77 230.56,75.97 230.24,77.17 229.92,78.35 229.58,79.51 229.24,80.66 228.89,81.79 228.52,82.88 228.15,83.95 227.77,84.98 227.38,85.98 226.99,86.93 226.59,87.84 226.18,88.7 225.76,89.51 225.34,90.27 224.91,90.97 224.48,91.61 224.04,92.19 223.59,92.71 223.14,93.16 222.69,93.54 222.24,93.86 221.77,94.1 221.31,94.28 220.85,94.39 220.38,94.42 219.91,94.38 219.44,94.27 218.96,94.08 218.49,93.83 218.01,93.5 217.54,93.1 217.07,92.64 216.59,92.1 216.12,91.5 215.65,90.83 215.18,90.1 214.72,89.31 214.26,88.46 213.79,87.56 213.34,86.6 212.89,85.59 212.44,84.54 211.99,83.44 211.55,82.3 211.12,81.12 210.69,79.91 210.27,78.67 209.85,77.41 209.44,76.12 209.04,74.81 208.65,73.49 208.26,72.17 207.88,70.83 207.51,69.49 207.14,68.16 206.79,66.83 206.45,65.52 206.11,64.22 205.79,62.94 205.47,61.68 205.16,60.45 204.87,59.25 204.59,58.09 204.31,56.96 204.05,55.88 203.8,54.84 203.56,53.85 203.33,52.91 203.12,52.03 202.92,51.2 202.72,50.44 202.55,49.73 202.38,49.1 202.23,48.52 202.09,48.02 201.96,47.59 201.85,47.23 201.75,46.94 201.66,46.73 201.58,46.58 201.52,46.52 201.48,46.53 201.44,46.61 201.42,46.77 201.41,47 201.42,47.3 201.44,47.68 201.48,48.13 201.52,48.65 201.58,49.23 201.66,49.88 201.75,50.6 201.85,51.38 201.96,52.21 202.09,53.1 202.23,54.05 202.38,55.05 202.55,56.09 202.72,57.18 202.92,58.31 203.12,59.47 203.33,60.67 203.56,61.9 203.8,63.15 204.05,64.43 204.31,65.72 204.59,67.03 204.87,68.34 205.16,69.66 205.47,70.98 205.79,72.3 206.11,73.61 206.45,74.92 206.79,76.2 207.14,77.47 207.51,78.71 207.88,79.92 208.26,81.11 208.65,82.25 209.04,83.36 209.44,84.43 209.85,85.46 210.27,86.43 210.69,87.36 211.12,88.23 211.55,89.04 211.99,89.79 212.44,90.49 212.89,91.12 213.34,91.68 213.79,92.18 214.26,92.61 214.72,92.97 215.18,93.26 215.65,93.48 216.12,93.63 216.59,93.7 217.07,93.71 217.54,93.64 218.01,93.5Z" fill="none" stroke="#d6435a" stroke-width="1.0" stroke-linejoin="round" opacity="0.85"/>
</g>
<g clip-path="url(#c5)">
<line x1="243.6" y1="93.3" x2="283.57" y2="93.3" stroke="#222" stroke-width="0.85" stroke-dasharray="1.3 1.6"/>
<path d="M263.75,99.35 264.35,98.17 264.95,96.96 265.55,95.74 266.15,94.5 266.75,93.24 267.34,91.97 267.92,90.68 268.5,89.38 269.08,88.08 269.65,86.77 270.21,85.46 270.77,84.14 271.31,82.83 271.85,81.52 272.38,80.22 272.89,78.93 273.4,77.65 273.89,76.38 274.37,75.14 274.84,73.91 275.29,72.7 275.73,71.52 276.16,70.37 276.57,69.25 276.96,68.17 277.34,67.12 277.71,66.11 278.05,65.14 278.38,64.21 278.69,63.33 278.98,62.5 279.25,61.71 279.51,60.98 279.74,60.3 279.96,59.68 280.16,59.12 280.33,58.61 280.49,58.16 280.62,57.78 280.74,57.46 280.83,57.2 280.91,57 280.96,56.87 280.99,56.8 281,56.8 280.99,56.84 280.96,56.9 280.91,56.98 280.83,57.07 280.74,57.19 280.62,57.32 280.49,57.48 280.33,57.66 280.16,57.85 279.96,58.07 279.74,58.31 279.51,58.57 279.25,58.86 278.98,59.16 278.69,59.5 278.38,59.85 278.05,60.23 277.71,60.64 277.34,61.08 276.96,61.54 276.57,62.03 276.16,62.55 275.73,63.1 275.29,63.68 274.84,64.29 274.37,64.93 273.89,65.6 273.4,66.3 272.89,67.04 272.38,67.8 271.85,68.6 271.31,69.44 270.77,70.3 270.21,71.2 269.65,72.13 269.08,73.09 268.5,74.09 267.92,75.11 267.34,76.17 266.75,77.26 266.15,78.37 265.55,79.51 264.95,80.68 264.35,81.88 263.75,83.1 263.15,84.34 262.55,85.61 261.95,86.89 261.35,88.2 260.75,89.52 260.16,90.85 259.58,92.2 259,93.56 258.42,94.92 257.85,96.29 257.29,97.67 256.73,99.04 256.19,100.41 255.65,101.78 255.12,103.15 254.61,104.5 254.1,105.84 253.61,107.17 253.13,108.48 252.66,109.76 252.21,111.03 251.77,112.27 251.34,113.48 250.93,114.66 250.54,115.81 250.16,116.92 249.79,117.99 249.45,119.02 249.12,120.01 248.81,120.95 248.52,121.85 248.25,122.69 247.99,123.49 247.76,124.22 247.54,124.91 247.34,125.53 247.17,126.1 247.01,126.61 246.88,127.05 246.76,127.44 246.67,127.76 246.59,128.02 246.54,128.21 246.51,128.34 246.5,128.4 246.51,128.42 246.54,128.42 246.59,128.41 246.67,128.37 246.76,128.32 246.88,128.24 247.01,128.15 247.17,128.03 247.34,127.9 247.54,127.74 247.76,127.56 247.99,127.36 248.25,127.14 248.52,126.89 248.81,126.62 249.12,126.33 249.45,126 249.79,125.66 250.16,125.28 250.54,124.88 250.93,124.45 251.34,123.99 251.77,123.51 252.21,122.99 252.66,122.44 253.13,121.86 253.61,121.25 254.1,120.61 254.61,119.94 255.12,119.23 255.65,118.49 256.19,117.72 256.73,116.91 257.29,116.08 257.85,115.21 258.42,114.31 259,113.37 259.58,112.41 260.16,111.41 260.75,110.39 261.35,109.33 261.95,108.25 262.55,107.14 263.15,106.01 263.75,104.85" fill="none" stroke="#38a063" stroke-width="1.0" stroke-dasharray="1.2 1.0"/>
<path d="M263.58,91.59 264.06,91.36 264.54,91.08 265.02,90.75 265.5,90.36 265.98,89.92 266.45,89.43 266.92,88.89 267.39,88.3 267.86,87.66 268.32,86.99 268.78,86.27 269.24,85.51 269.69,84.71 270.13,83.88 270.57,83.02 271.01,82.13 271.43,81.22 271.86,80.28 272.27,79.33 272.68,78.36 273.08,77.37 273.47,76.38 273.86,75.38 274.23,74.38 274.6,73.37 274.96,72.37 275.31,71.38 275.65,70.4 275.98,69.43 276.3,68.48 276.61,67.55 276.9,66.64 277.19,65.76 277.47,64.9 277.74,64.08 277.99,63.29 278.23,62.54 278.46,61.82 278.68,61.15 278.89,60.53 279.08,59.95 279.26,59.41 279.43,58.93 279.58,58.5 279.72,58.12 279.85,57.79 279.97,57.52 280.07,57.3 280.16,57.15 280.23,57.05 280.3,57 280.34,57.02 280.38,57.09 280.4,57.22 280.41,57.4 280.4,57.64 280.38,57.94 280.34,58.29 280.3,58.7 280.23,59.16 280.16,59.66 280.07,60.22 279.97,60.82 279.85,61.47 279.72,62.17 279.58,62.9 279.43,63.67 279.26,64.48 279.08,65.32 278.89,66.19 278.68,67.08 278.46,68.01 278.23,68.95 277.99,69.91 277.74,70.89 277.47,71.88 277.19,72.88 276.9,73.88 276.61,74.89 276.3,75.89 275.98,76.89 275.65,77.89 275.31,78.87 274.96,79.84 274.6,80.79 274.23,81.72 273.86,82.62 273.47,83.5 273.08,84.35 272.68,85.17 272.27,85.95 271.86,86.7 271.43,87.4 271.01,88.06 270.57,88.68 270.13,89.25 269.69,89.78 269.24,90.25 268.78,90.67 268.32,91.04 267.86,91.35 267.39,91.6 266.92,91.8 266.45,91.95 265.98,92.03 265.5,92.06 265.02,92.03 264.54,91.94 264.06,91.79 263.58,91.59 263.1,91.33 262.62,91.01 262.14,90.64 261.67,90.21 261.19,89.73 260.71,89.2 260.24,88.62 259.77,88 259.31,87.32 258.84,86.61 258.38,85.85 257.93,85.06 257.48,84.22 257.03,83.36 256.59,82.46 256.16,81.54 255.73,80.59 255.31,79.62 254.9,78.63 254.49,77.63 254.09,76.61 253.69,75.59 253.31,74.56 252.93,73.53 252.57,72.49 252.21,71.47 251.86,70.45 251.52,69.44 251.19,68.44 250.87,67.47 250.56,66.51 250.26,65.58 249.97,64.67 249.7,63.79 249.43,62.95 249.18,62.14 248.93,61.37 248.7,60.64 248.49,59.95 248.28,59.31 248.09,58.71 247.91,58.16 247.74,57.67 247.58,57.22 247.44,56.83 247.31,56.49 247.2,56.21 247.09,55.99 247.01,55.83 246.93,55.72 246.87,55.67 246.82,55.68 246.79,55.75 246.77,55.88 246.76,56.06 246.77,56.3 246.79,56.6 246.82,56.96 246.87,57.37 246.93,57.83 247.01,58.34 247.09,58.91 247.2,59.52 247.31,60.18 247.44,60.88 247.58,61.62 247.74,62.41 247.91,63.23 248.09,64.08 248.28,64.97 248.49,65.88 248.7,66.82 248.93,67.78 249.18,68.76 249.43,69.76 249.7,70.77 249.97,71.79 250.26,72.82 250.56,73.85 250.87,74.88 251.19,75.9 251.52,76.92 251.86,77.93 252.21,78.93 252.57,79.9 252.93,80.86 253.31,81.8 253.69,82.71 254.09,83.59 254.49,84.44 254.9,85.26 255.31,86.03 255.73,86.77 256.16,87.47 256.59,88.12 257.03,88.73 257.48,89.29 257.93,89.79 258.38,90.25 258.84,90.65 259.31,91 259.77,91.3 260.24,91.53 260.71,91.72 261.19,91.84 261.67,91.9 262.14,91.91 262.62,91.86 263.1,91.75 263.58,91.59Z" fill="none" stroke="#db4a5f" stroke-width="3.8" stroke-linejoin="round"/>
<path d="M263.58,91.59 264.06,91.36 264.54,91.08 265.02,90.75 265.5,90.36 265.98,89.92 266.45,89.43 266.92,88.89 267.39,88.3 267.86,87.66 268.32,86.99 268.78,86.27 269.24,85.51 269.69,84.71 270.13,83.88 270.57,83.02 271.01,82.13 271.43,81.22 271.86,80.28 272.27,79.33 272.68,78.36 273.08,77.37 273.47,76.38 273.86,75.38 274.23,74.38 274.6,73.37 274.96,72.37 275.31,71.38 275.65,70.4 275.98,69.43 276.3,68.48 276.61,67.55 276.9,66.64 277.19,65.76 277.47,64.9 277.74,64.08 277.99,63.29 278.23,62.54 278.46,61.82 278.68,61.15 278.89,60.53 279.08,59.95 279.26,59.41 279.43,58.93 279.58,58.5 279.72,58.12 279.85,57.79 279.97,57.52 280.07,57.3 280.16,57.15 280.23,57.05 280.3,57 280.34,57.02 280.38,57.09 280.4,57.22 280.41,57.4 280.4,57.64 280.38,57.94 280.34,58.29 280.3,58.7 280.23,59.16 280.16,59.66 280.07,60.22 279.97,60.82 279.85,61.47 279.72,62.17 279.58,62.9 279.43,63.67 279.26,64.48 279.08,65.32 278.89,66.19 278.68,67.08 278.46,68.01 278.23,68.95 277.99,69.91 277.74,70.89 277.47,71.88 277.19,72.88 276.9,73.88 276.61,74.89 276.3,75.89 275.98,76.89 275.65,77.89 275.31,78.87 274.96,79.84 274.6,80.79 274.23,81.72 273.86,82.62 273.47,83.5 273.08,84.35 272.68,85.17 272.27,85.95 271.86,86.7 271.43,87.4 271.01,88.06 270.57,88.68 270.13,89.25 269.69,89.78 269.24,90.25 268.78,90.67 268.32,91.04 267.86,91.35 267.39,91.6 266.92,91.8 266.45,91.95 265.98,92.03 265.5,92.06 265.02,92.03 264.54,91.94 264.06,91.79 263.58,91.59 263.1,91.33 262.62,91.01 262.14,90.64 261.67,90.21 261.19,89.73 260.71,89.2 260.24,88.62 259.77,88 259.31,87.32 258.84,86.61 258.38,85.85 257.93,85.06 257.48,84.22 257.03,83.36 256.59,82.46 256.16,81.54 255.73,80.59 255.31,79.62 254.9,78.63 254.49,77.63 254.09,76.61 253.69,75.59 253.31,74.56 252.93,73.53 252.57,72.49 252.21,71.47 251.86,70.45 251.52,69.44 251.19,68.44 250.87,67.47 250.56,66.51 250.26,65.58 249.97,64.67 249.7,63.79 249.43,62.95 249.18,62.14 248.93,61.37 248.7,60.64 248.49,59.95 248.28,59.31 248.09,58.71 247.91,58.16 247.74,57.67 247.58,57.22 247.44,56.83 247.31,56.49 247.2,56.21 247.09,55.99 247.01,55.83 246.93,55.72 246.87,55.67 246.82,55.68 246.79,55.75 246.77,55.88 246.76,56.06 246.77,56.3 246.79,56.6 246.82,56.96 246.87,57.37 246.93,57.83 247.01,58.34 247.09,58.91 247.2,59.52 247.31,60.18 247.44,60.88 247.58,61.62 247.74,62.41 247.91,63.23 248.09,64.08 248.28,64.97 248.49,65.88 248.7,66.82 248.93,67.78 249.18,68.76 249.43,69.76 249.7,70.77 249.97,71.79 250.26,72.82 250.56,73.85 250.87,74.88 251.19,75.9 251.52,76.92 251.86,77.93 252.21,78.93 252.57,79.9 252.93,80.86 253.31,81.8 253.69,82.71 254.09,83.59 254.49,84.44 254.9,85.26 255.31,86.03 255.73,86.77 256.16,87.47 256.59,88.12 257.03,88.73 257.48,89.29 257.93,89.79 258.38,90.25 258.84,90.65 259.31,91 259.77,91.3 260.24,91.53 260.71,91.72 261.19,91.84 261.67,91.9 262.14,91.91 262.62,91.86 263.1,91.75 263.58,91.59Z" fill="none" stroke="#e6808f" stroke-width="1.3679999999999999" stroke-linejoin="round"/>
</g>
<g clip-path="url(#c6)">
<line x1="283.57" y1="93.3" x2="323.54" y2="93.3" stroke="#222" stroke-width="0.85" stroke-dasharray="1.3 1.6"/>
<path d="M303.25,101.5 303.83,100.36 304.42,99.2 305,98.01 305.58,96.81 306.16,95.58 306.73,94.34 307.3,93.09 307.87,91.83 308.43,90.55 308.98,89.27 309.52,87.99 310.06,86.7 310.59,85.41 311.11,84.13 311.62,82.85 312.13,81.58 312.62,80.32 313.1,79.07 313.56,77.84 314.02,76.63 314.46,75.44 314.89,74.28 315.3,73.14 315.7,72.03 316.08,70.96 316.45,69.92 316.8,68.91 317.14,67.95 317.45,67.03 317.76,66.16 318.04,65.34 318.3,64.56 318.55,63.83 318.78,63.16 318.99,62.54 319.18,61.98 319.35,61.48 319.5,61.04 319.63,60.66 319.75,60.34 319.84,60.08 319.91,59.89 319.96,59.76 319.99,59.7 320,59.7 319.99,59.74 319.96,59.8 319.91,59.87 319.84,59.96 319.75,60.07 319.63,60.2 319.5,60.34 319.35,60.5 319.18,60.67 318.99,60.87 318.78,61.09 318.55,61.32 318.3,61.58 318.04,61.86 317.76,62.16 317.45,62.49 317.14,62.83 316.8,63.2 316.45,63.6 316.08,64.03 315.7,64.48 315.3,64.95 314.89,65.46 314.46,66 314.02,66.56 313.56,67.16 313.1,67.78 312.62,68.44 312.13,69.13 311.62,69.85 311.11,70.6 310.59,71.39 310.06,72.21 309.52,73.06 308.98,73.95 308.43,74.86 307.87,75.81 307.3,76.8 306.73,77.81 306.16,78.85 305.58,79.93 305,81.03 304.42,82.16 303.83,83.32 303.25,84.5 302.67,85.71 302.08,86.94 301.5,88.19 300.92,89.46 300.34,90.75 299.77,92.06 299.2,93.37 298.63,94.71 298.07,96.05 297.52,97.39 296.98,98.74 296.44,100.1 295.91,101.45 295.39,102.8 294.88,104.15 294.37,105.49 293.88,106.81 293.4,108.13 292.94,109.43 292.48,110.7 292.04,111.96 291.61,113.19 291.2,114.4 290.8,115.57 290.42,116.71 290.05,117.82 289.7,118.89 289.36,119.91 289.05,120.9 288.74,121.84 288.46,122.73 288.2,123.57 287.95,124.37 287.72,125.11 287.51,125.79 287.32,126.42 287.15,126.98 287,127.49 286.87,127.94 286.75,128.33 286.66,128.65 286.59,128.91 286.54,129.1 286.51,129.23 286.5,129.3 286.51,129.33 286.54,129.33 286.59,129.33 286.66,129.3 286.75,129.26 286.87,129.2 287,129.13 287.15,129.04 287.32,128.93 287.51,128.79 287.72,128.65 287.95,128.48 288.2,128.28 288.46,128.07 288.74,127.84 289.05,127.58 289.36,127.3 289.7,127 290.05,126.66 290.42,126.31 290.8,125.92 291.2,125.51 291.61,125.07 292.04,124.6 292.48,124.11 292.94,123.58 293.4,123.02 293.88,122.43 294.37,121.8 294.88,121.15 295.39,120.46 295.91,119.74 296.44,118.99 296.98,118.2 297.52,117.39 298.07,116.54 298.63,115.65 299.2,114.74 299.77,113.79 300.34,112.81 300.92,111.81 301.5,110.77 302.08,109.71 302.67,108.62 303.25,107.5" fill="none" stroke="#38a063" stroke-width="1.0" stroke-dasharray="1.2 1.0"/>
<path d="M303.56,91.04 304.02,90.67 304.48,90.25 304.94,89.78 305.4,89.27 305.86,88.7 306.32,88.1 306.77,87.45 307.22,86.76 307.67,86.04 308.12,85.28 308.56,84.49 308.99,83.67 309.43,82.83 309.85,81.96 310.28,81.07 310.69,80.17 311.11,79.25 311.51,78.31 311.91,77.37 312.3,76.43 312.69,75.48 313.06,74.54 313.43,73.59 313.8,72.66 314.15,71.74 314.49,70.83 314.83,69.93 315.16,69.05 315.47,68.2 315.78,67.37 316.08,66.57 316.36,65.8 316.64,65.05 316.91,64.35 317.16,63.68 317.41,63.05 317.64,62.46 317.86,61.91 318.07,61.4 318.27,60.94 318.45,60.53 318.63,60.17 318.79,59.85 318.94,59.59 319.07,59.37 319.2,59.21 319.31,59.1 319.41,59.04 319.49,59.03 319.56,59.08 319.62,59.18 319.67,59.33 319.7,59.53 319.72,59.78 319.73,60.08 319.72,60.43 319.7,60.82 319.67,61.27 319.62,61.75 319.56,62.28 319.49,62.86 319.41,63.47 319.31,64.12 319.2,64.8 319.07,65.52 318.94,66.27 318.79,67.05 318.63,67.86 318.45,68.69 318.27,69.54 318.07,70.41 317.86,71.3 317.64,72.2 317.41,73.11 317.16,74.03 316.91,74.96 316.64,75.88 316.36,76.81 316.08,77.73 315.78,78.64 315.47,79.55 315.16,80.44 314.83,81.32 314.49,82.18 314.15,83.02 313.8,83.83 313.43,84.62 313.06,85.38 312.69,86.11 312.3,86.81 311.91,87.47 311.51,88.09 311.11,88.67 310.69,89.21 310.28,89.71 309.85,90.16 309.43,90.56 308.99,90.92 308.56,91.23 308.12,91.48 307.67,91.69 307.22,91.84 306.77,91.94 306.32,91.98 305.86,91.97 305.4,91.91 304.94,91.79 304.48,91.62 304.02,91.39 303.56,91.12 303.1,90.79 302.64,90.4 302.18,89.97 301.72,89.49 301.26,88.96 300.8,88.39 300.35,87.77 299.9,87.11 299.45,86.41 299,85.66 298.56,84.89 298.13,84.08 297.69,83.23 297.27,82.36 296.84,81.47 296.43,80.55 296.01,79.61 295.61,78.65 295.21,77.68 294.82,76.7 294.43,75.71 294.06,74.72 293.69,73.72 293.32,72.73 292.97,71.74 292.63,70.76 292.29,69.79 291.96,68.84 291.65,67.91 291.34,66.99 291.04,66.11 290.76,65.25 290.48,64.41 290.21,63.62 289.96,62.85 289.71,62.13 289.48,61.45 289.26,60.81 289.05,60.22 288.85,59.67 288.67,59.17 288.49,58.73 288.33,58.33 288.18,58 288.05,57.71 287.92,57.49 287.81,57.32 287.71,57.21 287.63,57.15 287.56,57.16 287.5,57.22 287.45,57.34 287.42,57.52 287.4,57.76 287.39,58.06 287.4,58.41 287.42,58.81 287.45,59.27 287.5,59.78 287.56,60.34 287.63,60.95 287.71,61.61 287.81,62.3 287.92,63.04 288.05,63.82 288.18,64.64 288.33,65.49 288.49,66.37 288.67,67.28 288.85,68.21 289.05,69.16 289.26,70.14 289.48,71.12 289.71,72.12 289.96,73.13 290.21,74.14 290.48,75.16 290.76,76.17 291.04,77.17 291.34,78.17 291.65,79.16 291.96,80.13 292.29,81.08 292.63,82.01 292.97,82.91 293.32,83.79 293.69,84.63 294.06,85.44 294.43,86.22 294.82,86.95 295.21,87.65 295.61,88.3 296.01,88.9 296.43,89.46 296.84,89.97 297.27,90.43 297.69,90.83 298.13,91.19 298.56,91.48 299,91.72 299.45,91.91 299.9,92.04 300.35,92.11 300.8,92.13 301.26,92.08 301.72,91.99 302.18,91.83 302.64,91.62 303.1,91.36 303.56,91.04Z" fill="none" stroke="#f2b4bf" stroke-width="3.0" stroke-linejoin="round"/>
<path d="M303.56,91.54 304.02,91.3 304.48,91 304.94,90.66 305.4,90.26 305.86,89.82 306.32,89.34 306.77,88.81 307.22,88.23 307.67,87.62 308.12,86.97 308.56,86.28 308.99,85.57 309.43,84.82 309.85,84.04 310.28,83.23 310.69,82.41 311.11,81.56 311.51,80.7 311.91,79.82 312.3,78.93 312.69,78.03 313.06,77.13 313.43,76.22 313.8,75.32 314.15,74.41 314.49,73.52 314.83,72.63 315.16,71.75 315.47,70.89 315.78,70.05 316.08,69.22 316.36,68.42 316.64,67.65 316.91,66.9 317.16,66.18 317.41,65.49 317.64,64.84 317.86,64.22 318.07,63.64 318.27,63.11 318.45,62.61 318.63,62.15 318.79,61.74 318.94,61.38 319.07,61.06 319.2,60.79 319.31,60.57 319.41,60.4 319.49,60.27 319.56,60.2 319.62,60.17 319.67,60.2 319.7,60.28 319.72,60.4 319.73,60.58 319.72,60.8 319.7,61.07 319.67,61.39 319.62,61.75 319.56,62.16 319.49,62.62 319.41,63.11 319.31,63.65 319.2,64.22 319.07,64.83 318.94,65.48 318.79,66.16 318.63,66.87 318.45,67.61 318.27,68.38 318.07,69.17 317.86,69.99 317.64,70.82 317.41,71.67 317.16,72.53 316.91,73.41 316.64,74.29 316.36,75.18 316.08,76.07 315.78,76.97 315.47,77.86 315.16,78.74 314.83,79.62 314.49,80.49 314.15,81.34 313.8,82.18 313.43,82.99 313.06,83.79 312.69,84.56 312.3,85.31 311.91,86.02 311.51,86.71 311.11,87.36 310.69,87.97 310.28,88.55 309.85,89.08 309.43,89.58 308.99,90.03 308.56,90.43 308.12,90.79 307.67,91.1 307.22,91.37 306.77,91.58 306.32,91.74 305.86,91.85 305.4,91.91 304.94,91.92 304.48,91.87 304.02,91.77 303.56,91.62 303.1,91.41 302.64,91.16 302.18,90.85 301.72,90.49 301.26,90.08 300.8,89.63 300.35,89.13 299.9,88.58 299.45,87.99 299,87.35 298.56,86.68 298.13,85.97 297.69,85.22 297.27,84.44 296.84,83.63 296.43,82.79 296.01,81.93 295.61,81.04 295.21,80.13 294.82,79.2 294.43,78.26 294.06,77.31 293.69,76.35 293.32,75.38 292.97,74.42 292.63,73.45 292.29,72.49 291.96,71.54 291.65,70.6 291.34,69.67 291.04,68.76 290.76,67.87 290.48,67.01 290.21,66.17 289.96,65.36 289.71,64.58 289.48,63.83 289.26,63.13 289.05,62.46 288.85,61.83 288.67,61.25 288.49,60.72 288.33,60.23 288.18,59.79 288.05,59.4 287.92,59.07 287.81,58.79 287.71,58.56 287.63,58.39 287.56,58.28 287.5,58.22 287.45,58.22 287.42,58.28 287.4,58.39 287.39,58.56 287.4,58.78 287.42,59.06 287.45,59.4 287.5,59.78 287.56,60.22 287.63,60.71 287.71,61.25 287.81,61.83 287.92,62.46 288.05,63.13 288.18,63.85 288.33,64.6 288.49,65.38 288.67,66.2 288.85,67.05 289.05,67.92 289.26,68.82 289.48,69.74 289.71,70.68 289.96,71.63 290.21,72.59 290.48,73.56 290.76,74.54 291.04,75.52 291.34,76.49 291.65,77.46 291.96,78.43 292.29,79.38 292.63,80.31 292.97,81.23 293.32,82.13 293.69,83 294.06,83.85 294.43,84.67 294.82,85.45 295.21,86.2 295.61,86.91 296.01,87.59 296.43,88.22 296.84,88.81 297.27,89.35 297.69,89.85 298.13,90.29 298.56,90.69 299,91.04 299.45,91.33 299.9,91.57 300.35,91.75 300.8,91.89 301.26,91.96 301.72,91.99 302.18,91.96 302.64,91.87 303.1,91.73 303.56,91.54Z" fill="none" stroke="#d84a62" stroke-width="1.4" stroke-linejoin="round" opacity="0.85"/>
<path d="M303.56,91.04 304.02,90.67 304.48,90.25 304.94,89.78 305.4,89.27 305.86,88.7 306.32,88.1 306.77,87.45 307.22,86.76 307.67,86.04 308.12,85.28 308.56,84.49 308.99,83.67 309.43,82.83 309.85,81.96 310.28,81.07 310.69,80.17 311.11,79.25 311.51,78.31 311.91,77.37 312.3,76.43 312.69,75.48 313.06,74.54 313.43,73.59 313.8,72.66 314.15,71.74 314.49,70.83 314.83,69.93 315.16,69.05 315.47,68.2 315.78,67.37 316.08,66.57 316.36,65.8 316.64,65.05 316.91,64.35 317.16,63.68 317.41,63.05 317.64,62.46 317.86,61.91 318.07,61.4 318.27,60.94 318.45,60.53 318.63,60.17 318.79,59.85 318.94,59.59 319.07,59.37 319.2,59.21 319.31,59.1 319.41,59.04 319.49,59.03 319.56,59.08 319.62,59.18 319.67,59.33 319.7,59.53 319.72,59.78 319.73,60.08 319.72,60.43 319.7,60.82 319.67,61.27 319.62,61.75 319.56,62.28 319.49,62.86 319.41,63.47 319.31,64.12 319.2,64.8 319.07,65.52 318.94,66.27 318.79,67.05 318.63,67.86 318.45,68.69 318.27,69.54 318.07,70.41 317.86,71.3 317.64,72.2 317.41,73.11 317.16,74.03 316.91,74.96 316.64,75.88 316.36,76.81 316.08,77.73 315.78,78.64 315.47,79.55 315.16,80.44 314.83,81.32 314.49,82.18 314.15,83.02 313.8,83.83 313.43,84.62 313.06,85.38 312.69,86.11 312.3,86.81 311.91,87.47 311.51,88.09 311.11,88.67 310.69,89.21 310.28,89.71 309.85,90.16 309.43,90.56 308.99,90.92 308.56,91.23 308.12,91.48 307.67,91.69 307.22,91.84 306.77,91.94 306.32,91.98 305.86,91.97 305.4,91.91 304.94,91.79 304.48,91.62 304.02,91.39 303.56,91.12 303.1,90.79 302.64,90.4 302.18,89.97 301.72,89.49 301.26,88.96 300.8,88.39 300.35,87.77 299.9,87.11 299.45,86.41 299,85.66 298.56,84.89 298.13,84.08 297.69,83.23 297.27,82.36 296.84,81.47 296.43,80.55 296.01,79.61 295.61,78.65 295.21,77.68 294.82,76.7 294.43,75.71 294.06,74.72 293.69,73.72 293.32,72.73 292.97,71.74 292.63,70.76 292.29,69.79 291.96,68.84 291.65,67.91 291.34,66.99 291.04,66.11 290.76,65.25 290.48,64.41 290.21,63.62 289.96,62.85 289.71,62.13 289.48,61.45 289.26,60.81 289.05,60.22 288.85,59.67 288.67,59.17 288.49,58.73 288.33,58.33 288.18,58 288.05,57.71 287.92,57.49 287.81,57.32 287.71,57.21 287.63,57.15 287.56,57.16 287.5,57.22 287.45,57.34 287.42,57.52 287.4,57.76 287.39,58.06 287.4,58.41 287.42,58.81 287.45,59.27 287.5,59.78 287.56,60.34 287.63,60.95 287.71,61.61 287.81,62.3 287.92,63.04 288.05,63.82 288.18,64.64 288.33,65.49 288.49,66.37 288.67,67.28 288.85,68.21 289.05,69.16 289.26,70.14 289.48,71.12 289.71,72.12 289.96,73.13 290.21,74.14 290.48,75.16 290.76,76.17 291.04,77.17 291.34,78.17 291.65,79.16 291.96,80.13 292.29,81.08 292.63,82.01 292.97,82.91 293.32,83.79 293.69,84.63 294.06,85.44 294.43,86.22 294.82,86.95 295.21,87.65 295.61,88.3 296.01,88.9 296.43,89.46 296.84,89.97 297.27,90.43 297.69,90.83 298.13,91.19 298.56,91.48 299,91.72 299.45,91.91 299.9,92.04 300.35,92.11 300.8,92.13 301.26,92.08 301.72,91.99 302.18,91.83 302.64,91.62 303.1,91.36 303.56,91.04Z" fill="none" stroke="#d84a62" stroke-width="1.4" stroke-linejoin="round" opacity="0.85"/>
<path d="M303.56,90.54 304.02,90.05 304.48,89.5 304.94,88.91 305.4,88.27 305.86,87.58 306.32,86.86 306.77,86.09 307.22,85.29 307.67,84.46 308.12,83.59 308.56,82.7 308.99,81.78 309.43,80.84 309.85,79.88 310.28,78.91 310.69,77.92 311.11,76.93 311.51,75.93 311.91,74.93 312.3,73.93 312.69,72.93 313.06,71.94 313.43,70.97 313.8,70 314.15,69.06 314.49,68.13 314.83,67.23 315.16,66.36 315.47,65.51 315.78,64.69 316.08,63.91 316.36,63.17 316.64,62.46 316.91,61.8 317.16,61.18 317.41,60.6 317.64,60.07 317.86,59.59 318.07,59.16 318.27,58.78 318.45,58.45 318.63,58.18 318.79,57.96 318.94,57.79 319.07,57.68 319.2,57.63 319.31,57.63 319.41,57.68 319.49,57.79 319.56,57.96 319.62,58.18 319.67,58.45 319.7,58.77 319.72,59.15 319.73,59.58 319.72,60.05 319.7,60.57 319.67,61.14 319.62,61.75 319.56,62.4 319.49,63.1 319.41,63.82 319.31,64.59 319.2,65.39 319.07,66.21 318.94,67.07 318.79,67.95 318.63,68.85 318.45,69.77 318.27,70.71 318.07,71.66 317.86,72.62 317.64,73.59 317.41,74.56 317.16,75.53 316.91,76.51 316.64,77.48 316.36,78.44 316.08,79.39 315.78,80.32 315.47,81.24 315.16,82.14 314.83,83.02 314.49,83.87 314.15,84.69 313.8,85.49 313.43,86.25 313.06,86.97 312.69,87.66 312.3,88.31 311.91,88.91 311.51,89.47 311.11,89.99 310.69,90.45 310.28,90.87 309.85,91.24 309.43,91.55 308.99,91.81 308.56,92.02 308.12,92.17 307.67,92.27 307.22,92.31 306.77,92.29 306.32,92.22 305.86,92.09 305.4,91.91 304.94,91.67 304.48,91.37 304.02,91.02 303.56,90.62 303.1,90.16 302.64,89.65 302.18,89.1 301.72,88.49 301.26,87.84 300.8,87.15 300.35,86.41 299.9,85.64 299.45,84.82 299,83.98 298.56,83.09 298.13,82.18 297.69,81.25 297.27,80.29 296.84,79.31 296.43,78.31 296.01,77.29 295.61,76.27 295.21,75.24 294.82,74.2 294.43,73.16 294.06,72.12 293.69,71.09 293.32,70.07 292.97,69.06 292.63,68.07 292.29,67.1 291.96,66.14 291.65,65.22 291.34,64.32 291.04,63.45 290.76,62.62 290.48,61.82 290.21,61.07 289.96,60.35 289.71,59.69 289.48,59.06 289.26,58.49 289.05,57.97 288.85,57.51 288.67,57.1 288.49,56.74 288.33,56.44 288.18,56.2 288.05,56.02 287.92,55.9 287.81,55.85 287.71,55.85 287.63,55.91 287.56,56.04 287.5,56.22 287.45,56.47 287.42,56.77 287.4,57.14 287.39,57.56 287.4,58.03 287.42,58.56 287.45,59.15 287.5,59.78 287.56,60.46 287.63,61.19 287.71,61.96 287.81,62.77 287.92,63.63 288.05,64.51 288.18,65.43 288.33,66.38 288.49,67.36 288.67,68.35 288.85,69.37 289.05,70.41 289.26,71.45 289.48,72.51 289.71,73.57 289.96,74.63 290.21,75.69 290.48,76.75 290.76,77.8 291.04,78.83 291.34,79.85 291.65,80.85 291.96,81.82 292.29,82.78 292.63,83.7 292.97,84.59 293.32,85.44 293.69,86.26 294.06,87.03 294.43,87.77 294.82,88.45 295.21,89.09 295.61,89.68 296.01,90.22 296.43,90.7 296.84,91.13 297.27,91.51 297.69,91.82 298.13,92.08 298.56,92.28 299,92.41 299.45,92.49 299.9,92.51 300.35,92.47 300.8,92.37 301.26,92.2 301.72,91.98 302.18,91.71 302.64,91.37 303.1,90.98 303.56,90.54Z" fill="none" stroke="#d84a62" stroke-width="1.4" stroke-linejoin="round" opacity="0.85"/>
</g>
<g clip-path="url(#c7)">
<line x1="323.54" y1="93.3" x2="363.51" y2="93.3" stroke="#222" stroke-width="0.85" stroke-dasharray="1.3 1.6"/>
<path d="M343.25,101.3 343.83,100.13 344.42,98.94 345,97.73 345.58,96.5 346.16,95.25 346.73,93.98 347.3,92.69 347.87,91.4 348.43,90.09 348.98,88.78 349.52,87.46 350.06,86.13 350.59,84.81 351.11,83.49 351.62,82.18 352.13,80.87 352.62,79.57 353.1,78.29 353.56,77.02 354.02,75.77 354.46,74.55 354.89,73.35 355.3,72.18 355.7,71.03 356.08,69.93 356.45,68.85 356.8,67.82 357.14,66.83 357.45,65.88 357.76,64.98 358.04,64.13 358.3,63.33 358.55,62.58 358.78,61.88 358.99,61.25 359.18,60.67 359.35,60.15 359.5,59.69 359.63,59.3 359.75,58.97 359.84,58.7 359.91,58.5 359.96,58.37 359.99,58.3 360,58.3 359.99,58.34 359.96,58.4 359.91,58.47 359.84,58.56 359.75,58.67 359.63,58.79 359.5,58.93 359.35,59.09 359.18,59.26 358.99,59.46 358.78,59.67 358.55,59.9 358.3,60.16 358.04,60.43 357.76,60.73 357.45,61.05 357.14,61.4 356.8,61.77 356.45,62.16 356.08,62.58 355.7,63.03 355.3,63.51 354.89,64.02 354.46,64.55 354.02,65.12 353.56,65.71 353.1,66.34 352.62,67 352.13,67.7 351.62,68.43 351.11,69.19 350.59,69.98 350.06,70.81 349.52,71.67 348.98,72.57 348.43,73.5 347.87,74.46 347.3,75.46 346.73,76.48 346.16,77.55 345.58,78.64 345,79.76 344.42,80.91 343.83,82.09 343.25,83.3 342.67,84.53 342.08,85.79 341.5,87.07 340.92,88.37 340.34,89.69 339.77,91.02 339.2,92.37 338.63,93.74 338.07,95.11 337.52,96.49 336.98,97.88 336.44,99.27 335.91,100.66 335.39,102.04 334.88,103.43 334.37,104.8 333.88,106.16 333.4,107.51 332.94,108.85 332.48,110.16 332.04,111.45 331.61,112.72 331.2,113.96 330.8,115.17 330.42,116.34 330.05,117.48 329.7,118.58 329.36,119.64 329.05,120.65 328.74,121.62 328.46,122.54 328.2,123.41 327.95,124.22 327.72,124.98 327.51,125.69 327.32,126.33 327.15,126.92 327,127.44 326.87,127.9 326.75,128.3 326.66,128.63 326.59,128.9 326.54,129.1 326.51,129.23 326.5,129.3 326.51,129.33 326.54,129.33 326.59,129.33 326.66,129.31 326.75,129.27 326.87,129.21 327,129.14 327.15,129.05 327.32,128.94 327.51,128.81 327.72,128.66 327.95,128.5 328.2,128.31 328.46,128.1 328.74,127.87 329.05,127.62 329.36,127.34 329.7,127.03 330.05,126.71 330.42,126.35 330.8,125.97 331.2,125.56 331.61,125.12 332.04,124.65 332.48,124.15 332.94,123.62 333.4,123.06 333.88,122.46 334.37,121.84 334.88,121.18 335.39,120.48 335.91,119.75 336.44,118.99 336.98,118.2 337.52,117.37 338.07,116.5 338.63,115.61 339.2,114.68 339.77,113.72 340.34,112.72 340.92,111.7 341.5,110.64 342.08,109.55 342.67,108.44 343.25,107.3" fill="none" stroke="#38a063" stroke-width="1.0" stroke-dasharray="1.2 1.0"/>
<path d="M343.35,91.95 343.83,91.41 344.3,90.81 344.77,90.17 345.25,89.49 345.72,88.76 346.19,87.99 346.65,87.18 347.12,86.33 347.58,85.45 348.04,84.55 348.49,83.61 348.94,82.65 349.38,81.68 349.82,80.68 350.26,79.67 350.69,78.65 351.11,77.62 351.53,76.59 351.94,75.56 352.34,74.53 352.74,73.5 353.12,72.49 353.5,71.49 353.88,70.5 354.24,69.54 354.59,68.6 354.94,67.68 355.27,66.79 355.6,65.93 355.92,65.11 356.22,64.33 356.52,63.58 356.8,62.88 357.08,62.22 357.34,61.6 357.59,61.04 357.83,60.52 358.06,60.06 358.27,59.65 358.48,59.29 358.67,58.99 358.84,58.74 359.01,58.56 359.16,58.43 359.3,58.36 359.43,58.34 359.55,58.39 359.65,58.5 359.73,58.66 359.81,58.88 359.87,59.15 359.92,59.48 359.95,59.87 359.97,60.31 359.98,60.8 359.97,61.34 359.95,61.93 359.92,62.57 359.87,63.25 359.81,63.97 359.73,64.74 359.65,65.54 359.55,66.37 359.43,67.24 359.3,68.14 359.16,69.06 359.01,70 358.84,70.97 358.67,71.95 358.48,72.95 358.27,73.96 358.06,74.97 357.83,75.99 357.59,77.01 357.34,78.03 357.08,79.04 356.8,80.04 356.52,81.03 356.22,82.01 355.92,82.96 355.6,83.9 355.27,84.81 354.94,85.69 354.59,86.54 354.24,87.35 353.88,88.13 353.5,88.88 353.12,89.58 352.74,90.23 352.34,90.84 351.94,91.41 351.53,91.92 351.11,92.38 350.69,92.79 350.26,93.15 349.82,93.45 349.38,93.69 348.94,93.88 348.49,94.01 348.04,94.08 347.58,94.09 347.12,94.04 346.65,93.93 346.19,93.77 345.72,93.55 345.25,93.26 344.77,92.93 344.3,92.53 343.83,92.09 343.35,91.59 342.88,91.03 342.4,90.43 341.93,89.78 341.46,89.09 340.99,88.35 340.52,87.57 340.05,86.75 339.59,85.89 339.12,85 338.67,84.08 338.21,83.13 337.76,82.16 337.32,81.17 336.88,80.16 336.44,79.13 336.02,78.09 335.59,77.04 335.18,75.99 334.77,74.93 334.36,73.88 333.97,72.83 333.58,71.79 333.2,70.76 332.83,69.75 332.46,68.75 332.11,67.78 331.76,66.83 331.43,65.91 331.1,65.02 330.79,64.17 330.48,63.35 330.19,62.57 329.9,61.84 329.63,61.14 329.36,60.5 329.11,59.9 328.87,59.36 328.65,58.86 328.43,58.42 328.23,58.04 328.04,57.72 327.86,57.45 327.69,57.24 327.54,57.09 327.4,57 327.27,56.98 327.16,57.01 327.06,57.1 326.97,57.26 326.89,57.47 326.83,57.75 326.79,58.08 326.75,58.47 326.73,58.91 326.73,59.41 326.73,59.97 326.75,60.57 326.79,61.23 326.83,61.93 326.89,62.67 326.97,63.46 327.06,64.29 327.16,65.16 327.27,66.06 327.4,66.99 327.54,67.95 327.69,68.93 327.86,69.94 328.04,70.96 328.23,72.01 328.43,73.06 328.65,74.12 328.87,75.19 329.11,76.25 329.36,77.32 329.63,78.38 329.9,79.43 330.19,80.47 330.48,81.49 330.79,82.5 331.1,83.48 331.43,84.43 331.76,85.36 332.11,86.26 332.46,87.12 332.83,87.94 333.2,88.72 333.58,89.46 333.97,90.16 334.36,90.81 334.77,91.41 335.18,91.95 335.59,92.45 336.02,92.89 336.44,93.27 336.88,93.6 337.32,93.86 337.76,94.07 338.21,94.22 338.67,94.31 339.12,94.34 339.59,94.31 340.05,94.22 340.52,94.07 340.99,93.86 341.46,93.59 341.93,93.26 342.4,92.88 342.88,92.44 343.35,91.95Z" fill="none" stroke="#d24d70" stroke-width="3.2" stroke-linejoin="round"/>
<path d="M343.35,91.95 343.83,91.41 344.3,90.81 344.77,90.17 345.25,89.49 345.72,88.76 346.19,87.99 346.65,87.18 347.12,86.33 347.58,85.45 348.04,84.55 348.49,83.61 348.94,82.65 349.38,81.68 349.82,80.68 350.26,79.67 350.69,78.65 351.11,77.62 351.53,76.59 351.94,75.56 352.34,74.53 352.74,73.5 353.12,72.49 353.5,71.49 353.88,70.5 354.24,69.54 354.59,68.6 354.94,67.68 355.27,66.79 355.6,65.93 355.92,65.11 356.22,64.33 356.52,63.58 356.8,62.88 357.08,62.22 357.34,61.6 357.59,61.04 357.83,60.52 358.06,60.06 358.27,59.65 358.48,59.29 358.67,58.99 358.84,58.74 359.01,58.56 359.16,58.43 359.3,58.36 359.43,58.34 359.55,58.39 359.65,58.5 359.73,58.66 359.81,58.88 359.87,59.15 359.92,59.48 359.95,59.87 359.97,60.31 359.98,60.8 359.97,61.34 359.95,61.93 359.92,62.57 359.87,63.25 359.81,63.97 359.73,64.74 359.65,65.54 359.55,66.37 359.43,67.24 359.3,68.14 359.16,69.06 359.01,70 358.84,70.97 358.67,71.95 358.48,72.95 358.27,73.96 358.06,74.97 357.83,75.99 357.59,77.01 357.34,78.03 357.08,79.04 356.8,80.04 356.52,81.03 356.22,82.01 355.92,82.96 355.6,83.9 355.27,84.81 354.94,85.69 354.59,86.54 354.24,87.35 353.88,88.13 353.5,88.88 353.12,89.58 352.74,90.23 352.34,90.84 351.94,91.41 351.53,91.92 351.11,92.38 350.69,92.79 350.26,93.15 349.82,93.45 349.38,93.69 348.94,93.88 348.49,94.01 348.04,94.08 347.58,94.09 347.12,94.04 346.65,93.93 346.19,93.77 345.72,93.55 345.25,93.26 344.77,92.93 344.3,92.53 343.83,92.09 343.35,91.59 342.88,91.03 342.4,90.43 341.93,89.78 341.46,89.09 340.99,88.35 340.52,87.57 340.05,86.75 339.59,85.89 339.12,85 338.67,84.08 338.21,83.13 337.76,82.16 337.32,81.17 336.88,80.16 336.44,79.13 336.02,78.09 335.59,77.04 335.18,75.99 334.77,74.93 334.36,73.88 333.97,72.83 333.58,71.79 333.2,70.76 332.83,69.75 332.46,68.75 332.11,67.78 331.76,66.83 331.43,65.91 331.1,65.02 330.79,64.17 330.48,63.35 330.19,62.57 329.9,61.84 329.63,61.14 329.36,60.5 329.11,59.9 328.87,59.36 328.65,58.86 328.43,58.42 328.23,58.04 328.04,57.72 327.86,57.45 327.69,57.24 327.54,57.09 327.4,57 327.27,56.98 327.16,57.01 327.06,57.1 326.97,57.26 326.89,57.47 326.83,57.75 326.79,58.08 326.75,58.47 326.73,58.91 326.73,59.41 326.73,59.97 326.75,60.57 326.79,61.23 326.83,61.93 326.89,62.67 326.97,63.46 327.06,64.29 327.16,65.16 327.27,66.06 327.4,66.99 327.54,67.95 327.69,68.93 327.86,69.94 328.04,70.96 328.23,72.01 328.43,73.06 328.65,74.12 328.87,75.19 329.11,76.25 329.36,77.32 329.63,78.38 329.9,79.43 330.19,80.47 330.48,81.49 330.79,82.5 331.1,83.48 331.43,84.43 331.76,85.36 332.11,86.26 332.46,87.12 332.83,87.94 333.2,88.72 333.58,89.46 333.97,90.16 334.36,90.81 334.77,91.41 335.18,91.95 335.59,92.45 336.02,92.89 336.44,93.27 336.88,93.6 337.32,93.86 337.76,94.07 338.21,94.22 338.67,94.31 339.12,94.34 339.59,94.31 340.05,94.22 340.52,94.07 340.99,93.86 341.46,93.59 341.93,93.26 342.4,92.88 342.88,92.44 343.35,91.95Z" fill="none" stroke="#e0829b" stroke-width="1.152" stroke-linejoin="round"/>
</g>
<g clip-path="url(#c8)">
<line x1="363.51" y1="93.3" x2="403.49" y2="93.3" stroke="#222" stroke-width="0.85" stroke-dasharray="1.3 1.6"/>
<path d="M383.25,100.8 383.83,99.56 384.42,98.29 385,97 385.58,95.69 386.16,94.35 386.73,93.01 387.3,91.64 387.87,90.27 388.43,88.88 388.98,87.49 389.52,86.09 390.06,84.69 390.59,83.29 391.11,81.89 391.62,80.5 392.13,79.12 392.62,77.75 393.1,76.39 393.56,75.05 394.02,73.74 394.46,72.44 394.89,71.18 395.3,69.94 395.7,68.73 396.08,67.56 396.45,66.43 396.8,65.34 397.14,64.3 397.45,63.3 397.76,62.35 398.04,61.45 398.3,60.61 398.55,59.82 398.78,59.08 398.99,58.41 399.18,57.8 399.35,57.26 399.5,56.77 399.63,56.36 399.75,56.01 399.84,55.73 399.91,55.52 399.96,55.37 399.99,55.3 400,55.3 399.99,55.34 399.96,55.4 399.91,55.48 399.84,55.58 399.75,55.69 399.63,55.82 399.5,55.98 399.35,56.15 399.18,56.34 398.99,56.55 398.78,56.79 398.55,57.04 398.3,57.32 398.04,57.62 397.76,57.95 397.45,58.3 397.14,58.68 396.8,59.08 396.45,59.51 396.08,59.97 395.7,60.46 395.3,60.98 394.89,61.53 394.46,62.11 394.02,62.73 393.56,63.37 393.1,64.05 392.62,64.77 392.13,65.52 391.62,66.3 391.11,67.12 390.59,67.97 390.06,68.86 389.52,69.79 388.98,70.75 388.43,71.74 387.87,72.78 387.3,73.84 386.73,74.94 386.16,76.07 385.58,77.24 385,78.43 384.42,79.66 383.83,80.92 383.25,82.2 382.67,83.51 382.08,84.84 381.5,86.2 380.92,87.58 380.34,88.98 379.77,90.39 379.2,91.82 378.63,93.27 378.07,94.72 377.52,96.18 376.98,97.64 376.44,99.11 375.91,100.58 375.39,102.04 374.88,103.5 374.37,104.95 373.88,106.39 373.4,107.81 372.94,109.21 372.48,110.6 372.04,111.96 371.61,113.29 371.2,114.6 370.8,115.87 370.42,117.1 370.05,118.3 369.7,119.46 369.36,120.57 369.05,121.63 368.74,122.65 368.46,123.62 368.2,124.53 367.95,125.38 367.72,126.18 367.51,126.92 367.32,127.6 367.15,128.21 367,128.76 366.87,129.24 366.75,129.66 366.66,130.01 366.59,130.28 366.54,130.49 366.51,130.63 366.5,130.7 366.51,130.72 366.54,130.73 366.59,130.72 366.66,130.69 366.75,130.64 366.87,130.58 367,130.49 367.15,130.38 367.32,130.26 367.51,130.11 367.72,129.95 367.95,129.76 368.2,129.55 368.46,129.31 368.74,129.05 369.05,128.77 369.36,128.45 369.7,128.12 370.05,127.75 370.42,127.36 370.8,126.94 371.2,126.48 371.61,126 372.04,125.49 372.48,124.94 372.94,124.36 373.4,123.75 373.88,123.1 374.37,122.42 374.88,121.7 375.39,120.95 375.91,120.16 376.44,119.34 376.98,118.48 377.52,117.58 378.07,116.66 378.63,115.69 379.2,114.69 379.77,113.66 380.34,112.59 380.92,111.5 381.5,110.37 382.08,109.21 382.67,108.02 383.25,106.8" fill="none" stroke="#38a063" stroke-width="1.0" stroke-dasharray="1.2 1.0"/>
<path d="M383.5,93.09 383.98,92.52 384.46,91.9 384.94,91.24 385.41,90.53 385.89,89.78 386.36,88.99 386.84,88.16 387.3,87.3 387.77,86.41 388.23,85.49 388.69,84.55 389.15,83.58 389.6,82.59 390.04,81.59 390.48,80.57 390.92,79.55 391.34,78.52 391.76,77.49 392.18,76.45 392.59,75.42 392.99,74.4 393.38,73.39 393.76,72.4 394.14,71.42 394.51,70.46 394.87,69.53 395.22,68.62 395.56,67.74 395.89,66.89 396.2,66.08 396.51,65.31 396.81,64.58 397.1,63.89 397.38,63.25 397.64,62.65 397.9,62.11 398.14,61.61 398.37,61.17 398.59,60.78 398.79,60.45 398.99,60.18 399.17,59.96 399.33,59.8 399.49,59.7 399.63,59.66 399.76,59.67 399.87,59.75 399.98,59.89 400.07,60.08 400.14,60.34 400.2,60.65 400.25,61.02 400.28,61.44 400.31,61.92 400.31,62.44 400.31,63.02 400.28,63.65 400.25,64.32 400.2,65.04 400.14,65.8 400.07,66.6 399.98,67.44 399.87,68.31 399.76,69.21 399.63,70.14 399.49,71.09 399.33,72.07 399.17,73.07 398.99,74.08 398.79,75.1 398.59,76.13 398.37,77.17 398.14,78.21 397.9,79.25 397.64,80.28 397.38,81.31 397.1,82.32 396.81,83.32 396.51,84.3 396.2,85.26 395.89,86.19 395.56,87.1 395.22,87.97 394.87,88.82 394.51,89.62 394.14,90.39 393.76,91.11 393.38,91.79 392.99,92.43 392.59,93.01 392.18,93.55 391.76,94.03 391.34,94.47 390.92,94.84 390.48,95.16 390.04,95.42 389.6,95.63 389.15,95.77 388.69,95.86 388.23,95.89 387.77,95.85 387.3,95.76 386.84,95.61 386.36,95.4 385.89,95.13 385.41,94.81 384.94,94.43 384.46,93.99 383.98,93.51 383.5,92.97 383.02,92.38 382.54,91.74 382.06,91.06 381.58,90.33 381.1,89.56 380.63,88.76 380.16,87.91 379.69,87.04 379.22,86.13 378.76,85.2 378.3,84.24 377.84,83.26 377.4,82.27 376.95,81.26 376.51,80.24 376.08,79.21 375.65,78.17 375.23,77.14 374.81,76.1 374.4,75.07 374,74.06 373.61,73.05 373.23,72.06 372.85,71.08 372.48,70.13 372.13,69.21 371.78,68.31 371.44,67.44 371.11,66.61 370.79,65.81 370.48,65.05 370.18,64.34 369.89,63.66 369.61,63.04 369.35,62.46 369.1,61.93 368.85,61.45 368.62,61.02 368.41,60.65 368.2,60.34 368.01,60.08 367.83,59.88 367.66,59.73 367.5,59.65 367.36,59.62 367.23,59.65 367.12,59.74 367.01,59.89 366.93,60.1 366.85,60.36 366.79,60.68 366.74,61.06 366.71,61.49 366.69,61.97 366.68,62.5 366.69,63.08 366.71,63.71 366.74,64.39 366.79,65.1 366.85,65.86 366.93,66.66 367.01,67.49 367.12,68.36 367.23,69.25 367.36,70.17 367.5,71.12 367.66,72.09 367.83,73.08 368.01,74.08 368.2,75.09 368.41,76.12 368.62,77.14 368.85,78.17 369.1,79.2 369.35,80.22 369.61,81.24 369.89,82.24 370.18,83.23 370.48,84.2 370.79,85.15 371.11,86.08 371.44,86.98 371.78,87.85 372.13,88.69 372.48,89.49 372.85,90.25 373.23,90.98 373.61,91.66 374,92.29 374.4,92.88 374.81,93.42 375.23,93.91 375.65,94.35 376.08,94.73 376.51,95.06 376.95,95.33 377.4,95.54 377.84,95.7 378.3,95.8 378.76,95.84 379.22,95.82 379.69,95.75 380.16,95.61 380.63,95.42 381.1,95.17 381.58,94.86 382.06,94.5 382.54,94.08 383.02,93.62 383.5,93.09Z" fill="none" stroke="#c94d78" stroke-width="3.4" stroke-linejoin="round"/>
<path d="M383.5,93.09 383.98,92.52 384.46,91.9 384.94,91.24 385.41,90.53 385.89,89.78 386.36,88.99 386.84,88.16 387.3,87.3 387.77,86.41 388.23,85.49 388.69,84.55 389.15,83.58 389.6,82.59 390.04,81.59 390.48,80.57 390.92,79.55 391.34,78.52 391.76,77.49 392.18,76.45 392.59,75.42 392.99,74.4 393.38,73.39 393.76,72.4 394.14,71.42 394.51,70.46 394.87,69.53 395.22,68.62 395.56,67.74 395.89,66.89 396.2,66.08 396.51,65.31 396.81,64.58 397.1,63.89 397.38,63.25 397.64,62.65 397.9,62.11 398.14,61.61 398.37,61.17 398.59,60.78 398.79,60.45 398.99,60.18 399.17,59.96 399.33,59.8 399.49,59.7 399.63,59.66 399.76,59.67 399.87,59.75 399.98,59.89 400.07,60.08 400.14,60.34 400.2,60.65 400.25,61.02 400.28,61.44 400.31,61.92 400.31,62.44 400.31,63.02 400.28,63.65 400.25,64.32 400.2,65.04 400.14,65.8 400.07,66.6 399.98,67.44 399.87,68.31 399.76,69.21 399.63,70.14 399.49,71.09 399.33,72.07 399.17,73.07 398.99,74.08 398.79,75.1 398.59,76.13 398.37,77.17 398.14,78.21 397.9,79.25 397.64,80.28 397.38,81.31 397.1,82.32 396.81,83.32 396.51,84.3 396.2,85.26 395.89,86.19 395.56,87.1 395.22,87.97 394.87,88.82 394.51,89.62 394.14,90.39 393.76,91.11 393.38,91.79 392.99,92.43 392.59,93.01 392.18,93.55 391.76,94.03 391.34,94.47 390.92,94.84 390.48,95.16 390.04,95.42 389.6,95.63 389.15,95.77 388.69,95.86 388.23,95.89 387.77,95.85 387.3,95.76 386.84,95.61 386.36,95.4 385.89,95.13 385.41,94.81 384.94,94.43 384.46,93.99 383.98,93.51 383.5,92.97 383.02,92.38 382.54,91.74 382.06,91.06 381.58,90.33 381.1,89.56 380.63,88.76 380.16,87.91 379.69,87.04 379.22,86.13 378.76,85.2 378.3,84.24 377.84,83.26 377.4,82.27 376.95,81.26 376.51,80.24 376.08,79.21 375.65,78.17 375.23,77.14 374.81,76.1 374.4,75.07 374,74.06 373.61,73.05 373.23,72.06 372.85,71.08 372.48,70.13 372.13,69.21 371.78,68.31 371.44,67.44 371.11,66.61 370.79,65.81 370.48,65.05 370.18,64.34 369.89,63.66 369.61,63.04 369.35,62.46 369.1,61.93 368.85,61.45 368.62,61.02 368.41,60.65 368.2,60.34 368.01,60.08 367.83,59.88 367.66,59.73 367.5,59.65 367.36,59.62 367.23,59.65 367.12,59.74 367.01,59.89 366.93,60.1 366.85,60.36 366.79,60.68 366.74,61.06 366.71,61.49 366.69,61.97 366.68,62.5 366.69,63.08 366.71,63.71 366.74,64.39 366.79,65.1 366.85,65.86 366.93,66.66 367.01,67.49 367.12,68.36 367.23,69.25 367.36,70.17 367.5,71.12 367.66,72.09 367.83,73.08 368.01,74.08 368.2,75.09 368.41,76.12 368.62,77.14 368.85,78.17 369.1,79.2 369.35,80.22 369.61,81.24 369.89,82.24 370.18,83.23 370.48,84.2 370.79,85.15 371.11,86.08 371.44,86.98 371.78,87.85 372.13,88.69 372.48,89.49 372.85,90.25 373.23,90.98 373.61,91.66 374,92.29 374.4,92.88 374.81,93.42 375.23,93.91 375.65,94.35 376.08,94.73 376.51,95.06 376.95,95.33 377.4,95.54 377.84,95.7 378.3,95.8 378.76,95.84 379.22,95.82 379.69,95.75 380.16,95.61 380.63,95.42 381.1,95.17 381.58,94.86 382.06,94.5 382.54,94.08 383.02,93.62 383.5,93.09Z" fill="none" stroke="#d982a0" stroke-width="1.224" stroke-linejoin="round"/>
</g>
<g clip-path="url(#c9)">
<line x1="403.49" y1="93.3" x2="443.46" y2="93.3" stroke="#222" stroke-width="0.85" stroke-dasharray="1.3 1.6"/>
<path d="M423.7,101 424.3,99.7 424.9,98.38 425.5,97.04 426.09,95.67 426.69,94.29 427.28,92.89 427.86,91.47 428.44,90.04 429.02,88.6 429.58,87.15 430.14,85.7 430.7,84.25 431.24,82.79 431.77,81.34 432.3,79.9 432.81,78.47 433.32,77.05 433.81,75.64 434.29,74.25 434.76,72.89 435.21,71.55 435.65,70.24 436.07,68.96 436.48,67.71 436.88,66.5 437.25,65.33 437.62,64.2 437.96,63.12 438.29,62.08 438.6,61.1 438.89,60.17 439.16,59.3 439.41,58.48 439.65,57.72 439.86,57.03 440.06,56.4 440.23,55.83 440.39,55.33 440.52,54.9 440.64,54.54 440.73,54.25 440.81,54.03 440.86,53.88 440.89,53.8 440.9,53.8 440.89,53.84 440.86,53.9 440.81,53.99 440.73,54.09 440.64,54.21 440.52,54.35 440.39,54.51 440.23,54.69 440.06,54.89 439.86,55.12 439.65,55.37 439.41,55.64 439.16,55.93 438.89,56.26 438.6,56.6 438.29,56.97 437.96,57.37 437.62,57.8 437.25,58.26 436.88,58.74 436.48,59.26 436.07,59.81 435.65,60.39 435.21,61 434.76,61.65 434.29,62.33 433.81,63.04 433.32,63.79 432.81,64.58 432.3,65.4 431.77,66.26 431.24,67.15 430.7,68.09 430.14,69.05 429.58,70.06 429.02,71.1 428.44,72.18 427.86,73.29 427.28,74.44 426.69,75.62 426.09,76.83 425.5,78.08 424.9,79.36 424.3,80.66 423.7,82 423.1,83.36 422.5,84.75 421.9,86.16 421.31,87.59 420.71,89.04 420.12,90.51 419.54,92 418.96,93.49 418.38,95 417.82,96.51 417.26,98.03 416.7,99.55 416.16,101.07 415.63,102.59 415.1,104.1 414.59,105.6 414.08,107.09 413.59,108.56 413.11,110.01 412.64,111.44 412.19,112.85 411.75,114.23 411.33,115.58 410.92,116.89 410.52,118.17 410.15,119.41 409.78,120.6 409.44,121.75 409.11,122.85 408.8,123.9 408.51,124.9 408.24,125.84 407.99,126.72 407.75,127.54 407.54,128.31 407.34,129 407.17,129.64 407.01,130.2 406.88,130.7 406.76,131.13 406.67,131.49 406.59,131.77 406.54,131.99 406.51,132.13 406.5,132.2 406.51,132.22 406.54,132.23 406.59,132.21 406.67,132.18 406.76,132.13 406.88,132.05 407.01,131.96 407.17,131.84 407.34,131.71 407.54,131.55 407.75,131.37 407.99,131.16 408.24,130.93 408.51,130.68 408.8,130.4 409.11,130.09 409.44,129.76 409.78,129.4 410.15,129.01 410.52,128.59 410.92,128.14 411.33,127.66 411.75,127.15 412.19,126.6 412.64,126.02 413.11,125.41 413.59,124.76 414.08,124.08 414.59,123.36 415.1,122.6 415.63,121.81 416.16,120.98 416.7,120.11 417.26,119.21 417.82,118.27 418.38,117.3 418.96,116.29 419.54,115.24 420.12,114.16 420.71,113.05 421.31,111.9 421.9,110.72 422.5,109.51 423.1,108.27 423.7,107" fill="none" stroke="#38a063" stroke-width="1.0" stroke-dasharray="1.2 1.0"/>
<path d="M423.47,92.55 423.95,91.7 424.42,90.81 424.89,89.88 425.36,88.93 425.83,87.95 426.3,86.95 426.77,85.93 427.23,84.89 427.69,83.84 428.14,82.78 428.6,81.72 429.04,80.65 429.49,79.58 429.93,78.52 430.36,77.46 430.79,76.42 431.21,75.39 431.62,74.38 432.03,73.39 432.44,72.42 432.83,71.48 433.22,70.57 433.6,69.7 433.97,68.86 434.33,68.06 434.68,67.3 435.03,66.59 435.36,65.92 435.69,65.3 436,64.73 436.31,64.22 436.6,63.75 436.88,63.35 437.16,63 437.42,62.71 437.67,62.47 437.91,62.3 438.13,62.19 438.35,62.14 438.55,62.14 438.74,62.21 438.92,62.34 439.09,62.53 439.24,62.78 439.38,63.09 439.51,63.46 439.62,63.88 439.72,64.36 439.81,64.89 439.88,65.47 439.94,66.11 439.99,66.79 440.02,67.52 440.04,68.29 440.05,69.1 440.04,69.95 440.02,70.83 439.99,71.75 439.94,72.7 439.88,73.67 439.81,74.67 439.72,75.69 439.62,76.72 439.51,77.77 439.38,78.83 439.24,79.89 439.09,80.96 438.92,82.03 438.74,83.1 438.55,84.15 438.35,85.2 438.13,86.23 437.91,87.25 437.67,88.25 437.42,89.22 437.16,90.16 436.88,91.08 436.6,91.96 436.31,92.81 436,93.62 435.69,94.39 435.36,95.11 435.03,95.79 434.68,96.42 434.33,97 433.97,97.53 433.6,98.01 433.22,98.43 432.83,98.79 432.44,99.1 432.03,99.35 431.62,99.54 431.21,99.67 430.79,99.74 430.36,99.75 429.93,99.7 429.49,99.59 429.04,99.42 428.6,99.19 428.14,98.9 427.69,98.56 427.23,98.15 426.77,97.7 426.3,97.19 425.83,96.63 425.36,96.02 424.89,95.36 424.42,94.66 423.95,93.91 423.47,93.12 423,92.3 422.53,91.43 422.05,90.54 421.58,89.62 421.11,88.67 420.65,87.7 420.18,86.7 419.72,85.69 419.26,84.67 418.8,83.64 418.35,82.6 417.9,81.55 417.46,80.51 417.02,79.47 416.59,78.44 416.16,77.41 415.74,76.4 415.32,75.41 414.91,74.44 414.51,73.49 414.12,72.57 413.73,71.68 413.35,70.82 412.98,69.99 412.62,69.21 412.26,68.46 411.92,67.76 411.59,67.1 411.26,66.49 410.95,65.93 410.64,65.42 410.35,64.97 410.06,64.57 409.79,64.22 409.53,63.93 409.28,63.7 409.04,63.53 408.81,63.42 408.6,63.37 408.39,63.38 408.2,63.44 408.03,63.57 407.86,63.75 407.71,64 407.57,64.3 407.44,64.66 407.33,65.07 407.23,65.54 407.14,66.06 407.07,66.64 407,67.26 406.96,67.93 406.92,68.64 406.9,69.39 406.9,70.19 406.9,71.02 406.92,71.89 406.96,72.79 407,73.72 407.07,74.67 407.14,75.65 407.23,76.65 407.33,77.66 407.44,78.68 407.57,79.72 407.71,80.76 407.86,81.8 408.03,82.84 408.2,83.88 408.39,84.91 408.6,85.93 408.81,86.94 409.04,87.93 409.28,88.89 409.53,89.83 409.79,90.75 410.06,91.63 410.35,92.49 410.64,93.3 410.95,94.08 411.26,94.81 411.59,95.51 411.92,96.15 412.26,96.75 412.62,97.3 412.98,97.79 413.35,98.23 413.73,98.62 414.12,98.95 414.51,99.22 414.91,99.44 415.32,99.59 415.74,99.69 416.16,99.72 416.59,99.69 417.02,99.61 417.46,99.46 417.9,99.26 418.35,98.99 418.8,98.67 419.26,98.29 419.72,97.85 420.18,97.36 420.65,96.82 421.11,96.23 421.58,95.58 422.05,94.89 422.53,94.15 423,93.37 423.47,92.56Z" fill="none" stroke="#c24f84" stroke-width="3.0" stroke-linejoin="round"/>
<path d="M423.47,92.55 423.95,91.7 424.42,90.81 424.89,89.88 425.36,88.93 425.83,87.95 426.3,86.95 426.77,85.93 427.23,84.89 427.69,83.84 428.14,82.78 428.6,81.72 429.04,80.65 429.49,79.58 429.93,78.52 430.36,77.46 430.79,76.42 431.21,75.39 431.62,74.38 432.03,73.39 432.44,72.42 432.83,71.48 433.22,70.57 433.6,69.7 433.97,68.86 434.33,68.06 434.68,67.3 435.03,66.59 435.36,65.92 435.69,65.3 436,64.73 436.31,64.22 436.6,63.75 436.88,63.35 437.16,63 437.42,62.71 437.67,62.47 437.91,62.3 438.13,62.19 438.35,62.14 438.55,62.14 438.74,62.21 438.92,62.34 439.09,62.53 439.24,62.78 439.38,63.09 439.51,63.46 439.62,63.88 439.72,64.36 439.81,64.89 439.88,65.47 439.94,66.11 439.99,66.79 440.02,67.52 440.04,68.29 440.05,69.1 440.04,69.95 440.02,70.83 439.99,71.75 439.94,72.7 439.88,73.67 439.81,74.67 439.72,75.69 439.62,76.72 439.51,77.77 439.38,78.83 439.24,79.89 439.09,80.96 438.92,82.03 438.74,83.1 438.55,84.15 438.35,85.2 438.13,86.23 437.91,87.25 437.67,88.25 437.42,89.22 437.16,90.16 436.88,91.08 436.6,91.96 436.31,92.81 436,93.62 435.69,94.39 435.36,95.11 435.03,95.79 434.68,96.42 434.33,97 433.97,97.53 433.6,98.01 433.22,98.43 432.83,98.79 432.44,99.1 432.03,99.35 431.62,99.54 431.21,99.67 430.79,99.74 430.36,99.75 429.93,99.7 429.49,99.59 429.04,99.42 428.6,99.19 428.14,98.9 427.69,98.56 427.23,98.15 426.77,97.7 426.3,97.19 425.83,96.63 425.36,96.02 424.89,95.36 424.42,94.66 423.95,93.91 423.47,93.12 423,92.3 422.53,91.43 422.05,90.54 421.58,89.62 421.11,88.67 420.65,87.7 420.18,86.7 419.72,85.69 419.26,84.67 418.8,83.64 418.35,82.6 417.9,81.55 417.46,80.51 417.02,79.47 416.59,78.44 416.16,77.41 415.74,76.4 415.32,75.41 414.91,74.44 414.51,73.49 414.12,72.57 413.73,71.68 413.35,70.82 412.98,69.99 412.62,69.21 412.26,68.46 411.92,67.76 411.59,67.1 411.26,66.49 410.95,65.93 410.64,65.42 410.35,64.97 410.06,64.57 409.79,64.22 409.53,63.93 409.28,63.7 409.04,63.53 408.81,63.42 408.6,63.37 408.39,63.38 408.2,63.44 408.03,63.57 407.86,63.75 407.71,64 407.57,64.3 407.44,64.66 407.33,65.07 407.23,65.54 407.14,66.06 407.07,66.64 407,67.26 406.96,67.93 406.92,68.64 406.9,69.39 406.9,70.19 406.9,71.02 406.92,71.89 406.96,72.79 407,73.72 407.07,74.67 407.14,75.65 407.23,76.65 407.33,77.66 407.44,78.68 407.57,79.72 407.71,80.76 407.86,81.8 408.03,82.84 408.2,83.88 408.39,84.91 408.6,85.93 408.81,86.94 409.04,87.93 409.28,88.89 409.53,89.83 409.79,90.75 410.06,91.63 410.35,92.49 410.64,93.3 410.95,94.08 411.26,94.81 411.59,95.51 411.92,96.15 412.26,96.75 412.62,97.3 412.98,97.79 413.35,98.23 413.73,98.62 414.12,98.95 414.51,99.22 414.91,99.44 415.32,99.59 415.74,99.69 416.16,99.72 416.59,99.69 417.02,99.61 417.46,99.46 417.9,99.26 418.35,98.99 418.8,98.67 419.26,98.29 419.72,97.85 420.18,97.36 420.65,96.82 421.11,96.23 421.58,95.58 422.05,94.89 422.53,94.15 423,93.37 423.47,92.56Z" fill="none" stroke="#d484a9" stroke-width="1.08" stroke-linejoin="round"/>
</g>
<g clip-path="url(#c10)">
<line x1="443.46" y1="93.3" x2="483.43" y2="93.3" stroke="#222" stroke-width="0.85" stroke-dasharray="1.3 1.6"/>
<path d="M464.15,101.25 464.73,99.84 465.32,98.4 465.9,96.94 466.48,95.46 467.06,93.96 467.63,92.44 468.2,90.9 468.77,89.36 469.33,87.8 469.88,86.23 470.42,84.66 470.96,83.09 471.49,81.52 472.01,79.96 472.52,78.4 473.03,76.85 473.52,75.32 474,73.81 474.46,72.31 474.92,70.84 475.36,69.4 475.79,67.99 476.2,66.61 476.6,65.27 476.98,63.97 477.35,62.71 477.7,61.49 478.04,60.33 478.35,59.22 478.66,58.16 478.94,57.16 479.2,56.22 479.45,55.34 479.68,54.53 479.89,53.78 480.08,53.1 480.25,52.49 480.4,51.96 480.53,51.49 480.65,51.1 480.74,50.79 480.81,50.55 480.86,50.39 480.89,50.31 480.9,50.3 480.89,50.34 480.86,50.41 480.81,50.5 480.74,50.61 480.65,50.74 480.53,50.9 480.4,51.08 480.25,51.28 480.08,51.51 479.89,51.76 479.68,52.03 479.45,52.34 479.2,52.67 478.94,53.03 478.66,53.41 478.35,53.83 478.04,54.27 477.7,54.75 477.35,55.26 476.98,55.8 476.6,56.37 476.2,56.98 475.79,57.62 475.36,58.3 474.92,59.01 474.46,59.76 474,60.55 473.52,61.38 473.03,62.25 472.52,63.15 472.01,64.09 471.49,65.08 470.96,66.1 470.42,67.16 469.88,68.26 469.33,69.39 468.77,70.57 468.2,71.78 467.63,73.03 467.06,74.32 466.48,75.64 465.9,77 465.32,78.38 464.73,79.8 464.15,81.25 463.57,82.73 462.98,84.23 462.4,85.76 461.82,87.31 461.24,88.87 460.67,90.46 460.1,92.06 459.53,93.68 458.97,95.3 458.42,96.93 457.88,98.57 457.34,100.21 456.81,101.84 456.29,103.48 455.77,105.1 455.27,106.71 454.78,108.31 454.3,109.89 453.84,111.45 453.38,112.99 452.94,114.5 452.51,115.98 452.1,117.42 451.7,118.83 451.32,120.2 450.95,121.53 450.6,122.81 450.26,124.04 449.95,125.21 449.64,126.34 449.36,127.41 449.1,128.41 448.85,129.36 448.62,130.24 448.41,131.05 448.22,131.8 448.05,132.47 447.9,133.08 447.77,133.61 447.65,134.06 447.56,134.45 447.49,134.75 447.44,134.98 447.41,135.13 447.4,135.2 447.41,135.22 447.44,135.22 447.49,135.2 447.56,135.16 447.65,135.09 447.77,135 447.9,134.89 448.05,134.75 448.22,134.59 448.41,134.41 448.62,134.2 448.85,133.96 449.1,133.7 449.36,133.41 449.64,133.09 449.95,132.74 450.26,132.36 450.6,131.95 450.95,131.51 451.32,131.04 451.7,130.53 452.1,129.99 452.51,129.41 452.94,128.8 453.38,128.15 453.84,127.47 454.3,126.75 454.78,125.99 455.27,125.19 455.77,124.35 456.29,123.47 456.81,122.56 457.34,121.6 457.88,120.61 458.42,119.58 458.97,118.51 459.53,117.4 460.1,116.25 460.67,115.07 461.24,113.85 461.82,112.59 462.4,111.3 462.98,109.98 463.57,108.63 464.15,107.25" fill="none" stroke="#38a063" stroke-width="1.0" stroke-dasharray="1.2 1.0"/>
<path d="M463.64,92.54 464.1,91.48 464.56,90.4 465.02,89.31 465.47,88.21 465.93,87.1 466.38,85.98 466.83,84.87 467.28,83.76 467.73,82.65 468.17,81.56 468.61,80.47 469.04,79.41 469.47,78.37 469.9,77.35 470.32,76.36 470.73,75.4 471.14,74.48 471.55,73.59 471.94,72.74 472.33,71.94 472.71,71.18 473.09,70.47 473.46,69.82 473.82,69.21 474.17,68.66 474.51,68.17 474.84,67.74 475.17,67.36 475.48,67.05 475.79,66.8 476.09,66.62 476.37,66.5 476.65,66.44 476.91,66.45 477.16,66.52 477.41,66.66 477.64,66.86 477.86,67.13 478.07,67.46 478.26,67.85 478.45,68.31 478.62,68.82 478.78,69.39 478.93,70.02 479.06,70.71 479.19,71.44 479.3,72.23 479.4,73.06 479.48,73.94 479.55,74.86 479.61,75.82 479.66,76.82 479.69,77.85 479.71,78.91 479.72,79.99 479.71,81.1 479.69,82.23 479.66,83.38 479.61,84.54 479.55,85.7 479.48,86.88 479.4,88.05 479.3,89.22 479.19,90.39 479.06,91.55 478.93,92.69 478.78,93.82 478.62,94.93 478.45,96.01 478.26,97.06 478.07,98.09 477.86,99.08 477.64,100.04 477.41,100.95 477.16,101.82 476.91,102.65 476.65,103.43 476.37,104.16 476.09,104.83 475.79,105.46 475.48,106.02 475.17,106.53 474.84,106.97 474.51,107.36 474.17,107.68 473.82,107.94 473.46,108.13 473.09,108.26 472.71,108.32 472.33,108.32 471.94,108.25 471.55,108.12 471.14,107.92 470.73,107.66 470.32,107.34 469.9,106.96 469.47,106.51 469.04,106.01 468.61,105.44 468.17,104.83 467.73,104.15 467.28,103.43 466.83,102.66 466.38,101.84 465.93,100.98 465.47,100.08 465.02,99.14 464.56,98.16 464.1,97.16 463.64,96.12 463.18,95.06 462.72,93.98 462.27,92.88 461.81,91.76 461.35,90.64 460.9,89.5 460.45,88.36 460,87.23 459.56,86.09 459.11,84.97 458.67,83.85 458.24,82.75 457.81,81.67 457.38,80.61 456.96,79.57 456.55,78.56 456.14,77.58 455.74,76.64 455.34,75.74 454.95,74.87 454.57,74.05 454.19,73.28 453.83,72.55 453.47,71.87 453.12,71.25 452.77,70.68 452.44,70.17 452.11,69.71 451.8,69.32 451.49,68.98 451.2,68.71 450.91,68.5 450.64,68.35 450.37,68.26 450.12,68.24 449.88,68.29 449.65,68.39 449.43,68.56 449.22,68.79 449.02,69.08 448.84,69.43 448.66,69.85 448.5,70.31 448.35,70.84 448.22,71.42 448.1,72.05 447.99,72.73 447.89,73.46 447.8,74.23 447.73,75.05 447.67,75.9 447.63,76.79 447.59,77.72 447.57,78.68 447.57,79.66 447.57,80.67 447.59,81.7 447.63,82.74 447.67,83.8 447.73,84.87 447.8,85.95 447.89,87.02 447.99,88.1 448.1,89.17 448.22,90.24 448.35,91.29 448.5,92.33 448.66,93.35 448.84,94.34 449.02,95.31 449.22,96.26 449.43,97.16 449.65,98.04 449.88,98.88 450.12,99.67 450.37,100.42 450.64,101.13 450.91,101.78 451.2,102.39 451.49,102.94 451.8,103.44 452.11,103.88 452.44,104.26 452.77,104.58 453.12,104.85 453.47,105.05 453.83,105.19 454.19,105.26 454.57,105.27 454.95,105.22 455.34,105.11 455.74,104.93 456.14,104.69 456.55,104.39 456.96,104.03 457.38,103.61 457.81,103.13 458.24,102.59 458.67,102 459.11,101.36 459.56,100.66 460,99.92 460.45,99.13 460.9,98.3 461.35,97.42 461.81,96.51 462.27,95.56 462.72,94.58 463.18,93.57 463.64,92.54Z" fill="none" stroke="#b44f89" stroke-width="3.0" stroke-linejoin="round"/>
<path d="M463.64,92.54 464.1,91.48 464.56,90.4 465.02,89.31 465.47,88.21 465.93,87.1 466.38,85.98 466.83,84.87 467.28,83.76 467.73,82.65 468.17,81.56 468.61,80.47 469.04,79.41 469.47,78.37 469.9,77.35 470.32,76.36 470.73,75.4 471.14,74.48 471.55,73.59 471.94,72.74 472.33,71.94 472.71,71.18 473.09,70.47 473.46,69.82 473.82,69.21 474.17,68.66 474.51,68.17 474.84,67.74 475.17,67.36 475.48,67.05 475.79,66.8 476.09,66.62 476.37,66.5 476.65,66.44 476.91,66.45 477.16,66.52 477.41,66.66 477.64,66.86 477.86,67.13 478.07,67.46 478.26,67.85 478.45,68.31 478.62,68.82 478.78,69.39 478.93,70.02 479.06,70.71 479.19,71.44 479.3,72.23 479.4,73.06 479.48,73.94 479.55,74.86 479.61,75.82 479.66,76.82 479.69,77.85 479.71,78.91 479.72,79.99 479.71,81.1 479.69,82.23 479.66,83.38 479.61,84.54 479.55,85.7 479.48,86.88 479.4,88.05 479.3,89.22 479.19,90.39 479.06,91.55 478.93,92.69 478.78,93.82 478.62,94.93 478.45,96.01 478.26,97.06 478.07,98.09 477.86,99.08 477.64,100.04 477.41,100.95 477.16,101.82 476.91,102.65 476.65,103.43 476.37,104.16 476.09,104.83 475.79,105.46 475.48,106.02 475.17,106.53 474.84,106.97 474.51,107.36 474.17,107.68 473.82,107.94 473.46,108.13 473.09,108.26 472.71,108.32 472.33,108.32 471.94,108.25 471.55,108.12 471.14,107.92 470.73,107.66 470.32,107.34 469.9,106.96 469.47,106.51 469.04,106.01 468.61,105.44 468.17,104.83 467.73,104.15 467.28,103.43 466.83,102.66 466.38,101.84 465.93,100.98 465.47,100.08 465.02,99.14 464.56,98.16 464.1,97.16 463.64,96.12 463.18,95.06 462.72,93.98 462.27,92.88 461.81,91.76 461.35,90.64 460.9,89.5 460.45,88.36 460,87.23 459.56,86.09 459.11,84.97 458.67,83.85 458.24,82.75 457.81,81.67 457.38,80.61 456.96,79.57 456.55,78.56 456.14,77.58 455.74,76.64 455.34,75.74 454.95,74.87 454.57,74.05 454.19,73.28 453.83,72.55 453.47,71.87 453.12,71.25 452.77,70.68 452.44,70.17 452.11,69.71 451.8,69.32 451.49,68.98 451.2,68.71 450.91,68.5 450.64,68.35 450.37,68.26 450.12,68.24 449.88,68.29 449.65,68.39 449.43,68.56 449.22,68.79 449.02,69.08 448.84,69.43 448.66,69.85 448.5,70.31 448.35,70.84 448.22,71.42 448.1,72.05 447.99,72.73 447.89,73.46 447.8,74.23 447.73,75.05 447.67,75.9 447.63,76.79 447.59,77.72 447.57,78.68 447.57,79.66 447.57,80.67 447.59,81.7 447.63,82.74 447.67,83.8 447.73,84.87 447.8,85.95 447.89,87.02 447.99,88.1 448.1,89.17 448.22,90.24 448.35,91.29 448.5,92.33 448.66,93.35 448.84,94.34 449.02,95.31 449.22,96.26 449.43,97.16 449.65,98.04 449.88,98.88 450.12,99.67 450.37,100.42 450.64,101.13 450.91,101.78 451.2,102.39 451.49,102.94 451.8,103.44 452.11,103.88 452.44,104.26 452.77,104.58 453.12,104.85 453.47,105.05 453.83,105.19 454.19,105.26 454.57,105.27 454.95,105.22 455.34,105.11 455.74,104.93 456.14,104.69 456.55,104.39 456.96,104.03 457.38,103.61 457.81,103.13 458.24,102.59 458.67,102 459.11,101.36 459.56,100.66 460,99.92 460.45,99.13 460.9,98.3 461.35,97.42 461.81,96.51 462.27,95.56 462.72,94.58 463.18,93.57 463.64,92.54Z" fill="none" stroke="#ca84ac" stroke-width="1.08" stroke-linejoin="round"/>
</g>
<g clip-path="url(#c11)">
<line x1="483.43" y1="93.3" x2="523.4" y2="93.3" stroke="#222" stroke-width="0.85" stroke-dasharray="1.3 1.6"/>
<path d="M503.7,101.7 504.3,100.26 504.9,98.79 505.5,97.3 506.09,95.78 506.69,94.25 507.28,92.69 507.86,91.12 508.44,89.53 509.02,87.94 509.58,86.33 510.14,84.72 510.7,83.11 511.24,81.5 511.77,79.9 512.3,78.3 512.81,76.71 513.32,75.14 513.81,73.58 514.29,72.05 514.76,70.54 515.21,69.06 515.65,67.61 516.07,66.19 516.48,64.81 516.88,63.47 517.25,62.18 517.62,60.93 517.96,59.73 518.29,58.59 518.6,57.5 518.89,56.47 519.16,55.5 519.41,54.6 519.65,53.76 519.86,52.99 520.06,52.29 520.23,51.66 520.39,51.11 520.52,50.63 520.64,50.23 520.73,49.91 520.81,49.66 520.86,49.49 520.89,49.41 520.9,49.4 520.89,49.44 520.86,49.51 520.81,49.6 520.73,49.71 520.64,49.84 520.52,49.99 520.39,50.17 520.23,50.37 520.06,50.6 519.86,50.85 519.65,51.13 519.41,51.43 519.16,51.76 518.89,52.11 518.6,52.5 518.29,52.92 517.96,53.36 517.62,53.84 517.25,54.35 516.88,54.89 516.48,55.46 516.07,56.07 515.65,56.72 515.21,57.4 514.76,58.12 514.29,58.88 513.81,59.68 513.32,60.51 512.81,61.39 512.3,62.3 511.77,63.25 511.24,64.25 510.7,65.28 510.14,66.36 509.58,67.47 509.02,68.63 508.44,69.82 507.86,71.06 507.28,72.33 506.69,73.64 506.09,74.98 505.5,76.36 504.9,77.78 504.3,79.22 503.7,80.7 503.1,82.21 502.5,83.74 501.9,85.3 501.31,86.88 500.71,88.49 500.12,90.11 499.54,91.75 498.96,93.4 498.38,95.06 497.82,96.73 497.26,98.41 496.7,100.09 496.16,101.76 495.63,103.44 495.1,105.1 494.59,106.75 494.08,108.39 493.59,110.02 493.11,111.62 492.64,113.19 492.19,114.74 491.75,116.26 491.33,117.74 490.92,119.19 490.52,120.6 490.15,121.96 489.78,123.27 489.44,124.53 489.11,125.75 488.8,126.9 488.51,128 488.24,129.03 487.99,130 487.75,130.91 487.54,131.74 487.34,132.51 487.17,133.2 487.01,133.82 486.88,134.37 486.76,134.84 486.67,135.23 486.59,135.54 486.54,135.77 486.51,135.93 486.5,136 486.51,136.02 486.54,136.02 486.59,136 486.67,135.96 486.76,135.89 486.88,135.81 487.01,135.69 487.17,135.56 487.34,135.4 487.54,135.22 487.75,135.01 487.99,134.77 488.24,134.51 488.51,134.22 488.8,133.9 489.11,133.55 489.44,133.17 489.78,132.76 490.15,132.32 490.52,131.85 490.92,131.34 491.33,130.79 491.75,130.21 492.19,129.6 492.64,128.94 493.11,128.25 493.59,127.52 494.08,126.76 494.59,125.95 495.1,125.1 495.63,124.21 496.16,123.28 496.7,122.32 497.26,121.31 497.82,120.26 498.38,119.17 498.96,118.04 499.54,116.88 500.12,115.67 500.71,114.43 501.31,113.15 501.9,111.84 502.5,110.49 503.1,109.11 503.7,107.7" fill="none" stroke="#38a063" stroke-width="1.0" stroke-dasharray="1.2 1.0"/>
<path d="M503.42,91.75 503.89,90.62 504.37,89.49 504.85,88.37 505.32,87.25 505.79,86.14 506.26,85.05 506.73,83.97 507.2,82.92 507.66,81.9 508.12,80.91 508.58,79.95 509.03,79.03 509.48,78.15 509.92,77.31 510.36,76.52 510.79,75.78 511.21,75.09 511.63,74.45 512.04,73.87 512.45,73.35 512.84,72.89 513.23,72.5 513.62,72.16 513.99,71.89 514.36,71.69 514.71,71.55 515.06,71.48 515.4,71.48 515.72,71.55 516.04,71.68 516.35,71.87 516.64,72.14 516.93,72.47 517.2,72.86 517.47,73.31 517.72,73.83 517.96,74.4 518.19,75.04 518.41,75.72 518.61,76.46 518.8,77.26 518.98,78.09 519.15,78.98 519.3,79.91 519.44,80.87 519.57,81.87 519.69,82.91 519.79,83.97 519.88,85.07 519.95,86.18 520.01,87.31 520.06,88.46 520.09,89.62 520.11,90.79 520.12,91.96 520.11,93.13 520.09,94.3 520.06,95.47 520.01,96.62 519.95,97.76 519.88,98.88 519.79,99.98 519.69,101.06 519.57,102.11 519.44,103.13 519.3,104.12 519.15,105.07 518.98,105.98 518.8,106.85 518.61,107.67 518.41,108.45 518.19,109.18 517.96,109.86 517.72,110.48 517.47,111.05 517.2,111.57 516.93,112.03 516.64,112.42 516.35,112.76 516.04,113.04 515.72,113.25 515.4,113.41 515.06,113.5 514.71,113.53 514.36,113.49 513.99,113.4 513.62,113.24 513.23,113.02 512.84,112.75 512.45,112.41 512.04,112.02 511.63,111.57 511.21,111.06 510.79,110.5 510.36,109.89 509.92,109.23 509.48,108.52 509.03,107.77 508.58,106.97 508.12,106.13 507.66,105.26 507.2,104.34 506.73,103.4 506.26,102.43 505.79,101.42 505.32,100.4 504.85,99.36 504.37,98.29 503.89,97.21 503.42,96.13 502.94,95.03 502.46,93.93 501.99,92.83 501.51,91.72 501.04,90.63 500.57,89.54 500.1,88.47 499.63,87.41 499.17,86.36 498.71,85.34 498.25,84.35 497.8,83.38 497.36,82.44 496.91,81.53 496.48,80.66 496.05,79.83 495.62,79.04 495.2,78.29 494.79,77.59 494.39,76.93 493.99,76.33 493.6,75.78 493.22,75.28 492.84,74.83 492.48,74.44 492.12,74.11 491.77,73.84 491.44,73.63 491.11,73.48 490.79,73.38 490.49,73.35 490.19,73.38 489.9,73.47 489.63,73.62 489.36,73.83 489.11,74.1 488.87,74.43 488.64,74.82 488.43,75.26 488.22,75.76 488.03,76.31 487.85,76.91 487.68,77.57 487.53,78.27 487.39,79.01 487.26,79.8 487.15,80.63 487.04,81.49 486.96,82.39 486.88,83.33 486.82,84.29 486.77,85.27 486.74,86.28 486.72,87.31 486.71,88.35 486.72,89.4 486.74,90.47 486.77,91.53 486.82,92.6 486.88,93.66 486.96,94.72 487.04,95.77 487.15,96.8 487.26,97.81 487.39,98.81 487.53,99.77 487.68,100.72 487.85,101.62 488.03,102.5 488.22,103.33 488.43,104.13 488.64,104.88 488.87,105.59 489.11,106.24 489.36,106.84 489.63,107.39 489.9,107.89 490.19,108.32 490.49,108.7 490.79,109.01 491.11,109.27 491.44,109.46 491.77,109.58 492.12,109.64 492.48,109.64 492.84,109.56 493.22,109.43 493.6,109.23 493.99,108.96 494.39,108.63 494.79,108.24 495.2,107.79 495.62,107.27 496.05,106.7 496.48,106.08 496.91,105.39 497.36,104.66 497.8,103.88 498.25,103.05 498.71,102.17 499.17,101.26 499.63,100.31 500.1,99.32 500.57,98.3 501.04,97.26 501.51,96.19 501.99,95.1 502.46,93.99 502.94,92.88 503.42,91.75Z" fill="none" stroke="#a9508f" stroke-width="3.0" stroke-linejoin="round"/>
<path d="M503.42,91.75 503.89,90.62 504.37,89.49 504.85,88.37 505.32,87.25 505.79,86.14 506.26,85.05 506.73,83.97 507.2,82.92 507.66,81.9 508.12,80.91 508.58,79.95 509.03,79.03 509.48,78.15 509.92,77.31 510.36,76.52 510.79,75.78 511.21,75.09 511.63,74.45 512.04,73.87 512.45,73.35 512.84,72.89 513.23,72.5 513.62,72.16 513.99,71.89 514.36,71.69 514.71,71.55 515.06,71.48 515.4,71.48 515.72,71.55 516.04,71.68 516.35,71.87 516.64,72.14 516.93,72.47 517.2,72.86 517.47,73.31 517.72,73.83 517.96,74.4 518.19,75.04 518.41,75.72 518.61,76.46 518.8,77.26 518.98,78.09 519.15,78.98 519.3,79.91 519.44,80.87 519.57,81.87 519.69,82.91 519.79,83.97 519.88,85.07 519.95,86.18 520.01,87.31 520.06,88.46 520.09,89.62 520.11,90.79 520.12,91.96 520.11,93.13 520.09,94.3 520.06,95.47 520.01,96.62 519.95,97.76 519.88,98.88 519.79,99.98 519.69,101.06 519.57,102.11 519.44,103.13 519.3,104.12 519.15,105.07 518.98,105.98 518.8,106.85 518.61,107.67 518.41,108.45 518.19,109.18 517.96,109.86 517.72,110.48 517.47,111.05 517.2,111.57 516.93,112.03 516.64,112.42 516.35,112.76 516.04,113.04 515.72,113.25 515.4,113.41 515.06,113.5 514.71,113.53 514.36,113.49 513.99,113.4 513.62,113.24 513.23,113.02 512.84,112.75 512.45,112.41 512.04,112.02 511.63,111.57 511.21,111.06 510.79,110.5 510.36,109.89 509.92,109.23 509.48,108.52 509.03,107.77 508.58,106.97 508.12,106.13 507.66,105.26 507.2,104.34 506.73,103.4 506.26,102.43 505.79,101.42 505.32,100.4 504.85,99.36 504.37,98.29 503.89,97.21 503.42,96.13 502.94,95.03 502.46,93.93 501.99,92.83 501.51,91.72 501.04,90.63 500.57,89.54 500.1,88.47 499.63,87.41 499.17,86.36 498.71,85.34 498.25,84.35 497.8,83.38 497.36,82.44 496.91,81.53 496.48,80.66 496.05,79.83 495.62,79.04 495.2,78.29 494.79,77.59 494.39,76.93 493.99,76.33 493.6,75.78 493.22,75.28 492.84,74.83 492.48,74.44 492.12,74.11 491.77,73.84 491.44,73.63 491.11,73.48 490.79,73.38 490.49,73.35 490.19,73.38 489.9,73.47 489.63,73.62 489.36,73.83 489.11,74.1 488.87,74.43 488.64,74.82 488.43,75.26 488.22,75.76 488.03,76.31 487.85,76.91 487.68,77.57 487.53,78.27 487.39,79.01 487.26,79.8 487.15,80.63 487.04,81.49 486.96,82.39 486.88,83.33 486.82,84.29 486.77,85.27 486.74,86.28 486.72,87.31 486.71,88.35 486.72,89.4 486.74,90.47 486.77,91.53 486.82,92.6 486.88,93.66 486.96,94.72 487.04,95.77 487.15,96.8 487.26,97.81 487.39,98.81 487.53,99.77 487.68,100.72 487.85,101.62 488.03,102.5 488.22,103.33 488.43,104.13 488.64,104.88 488.87,105.59 489.11,106.24 489.36,106.84 489.63,107.39 489.9,107.89 490.19,108.32 490.49,108.7 490.79,109.01 491.11,109.27 491.44,109.46 491.77,109.58 492.12,109.64 492.48,109.64 492.84,109.56 493.22,109.43 493.6,109.23 493.99,108.96 494.39,108.63 494.79,108.24 495.2,107.79 495.62,107.27 496.05,106.7 496.48,106.08 496.91,105.39 497.36,104.66 497.8,103.88 498.25,103.05 498.71,102.17 499.17,101.26 499.63,100.31 500.1,99.32 500.57,98.3 501.04,97.26 501.51,96.19 501.99,95.1 502.46,93.99 502.94,92.88 503.42,91.75Z" fill="none" stroke="#c384b1" stroke-width="1.08" stroke-linejoin="round"/>
</g>
<g clip-path="url(#c12)">
<line x1="534.2" y1="93.3" x2="574" y2="93.3" stroke="#222" stroke-width="0.85" stroke-dasharray="1.3 1.6"/>
<path d="M553.7,102.7 554.3,101.17 554.9,99.61 555.5,98.03 556.09,96.42 556.69,94.8 557.28,93.15 557.86,91.48 558.44,89.8 559.02,88.11 559.58,86.42 560.14,84.71 560.7,83.01 561.24,81.3 561.77,79.61 562.3,77.92 562.81,76.24 563.32,74.58 563.81,72.93 564.29,71.31 564.76,69.71 565.21,68.14 565.65,66.61 566.07,65.11 566.48,63.65 566.88,62.24 567.25,60.87 567.62,59.55 567.96,58.28 568.29,57.07 568.6,55.92 568.89,54.83 569.16,53.81 569.41,52.85 569.65,51.96 569.86,51.15 570.06,50.4 570.23,49.74 570.39,49.15 570.52,48.64 570.64,48.21 570.73,47.86 570.81,47.6 570.86,47.41 570.89,47.31 570.9,47.3 570.89,47.34 570.86,47.4 570.81,47.49 570.73,47.6 570.64,47.73 570.52,47.89 570.39,48.07 570.23,48.28 570.06,48.52 569.86,48.78 569.65,49.07 569.41,49.38 569.16,49.73 568.89,50.1 568.6,50.51 568.29,50.94 567.96,51.41 567.62,51.91 567.25,52.45 566.88,53.02 566.48,53.63 566.07,54.27 565.65,54.95 565.21,55.67 564.76,56.43 564.29,57.23 563.81,58.07 563.32,58.95 562.81,59.87 562.3,60.83 561.77,61.84 561.24,62.89 560.7,63.98 560.14,65.11 559.58,66.28 559.02,67.5 558.44,68.76 557.86,70.06 557.28,71.39 556.69,72.77 556.09,74.19 555.5,75.64 554.9,77.13 554.3,78.65 553.7,80.2 553.1,81.78 552.5,83.4 551.9,85.03 551.31,86.7 550.71,88.38 550.12,90.09 549.54,91.81 548.96,93.54 548.38,95.29 547.82,97.04 547.26,98.8 546.7,100.56 546.16,102.32 545.63,104.07 545.1,105.82 544.59,107.55 544.08,109.27 543.59,110.97 543.11,112.65 542.64,114.3 542.19,115.92 541.75,117.51 541.33,119.07 540.92,120.58 540.52,122.05 540.15,123.47 539.78,124.85 539.44,126.17 539.11,127.44 538.8,128.64 538.51,129.79 538.24,130.87 537.99,131.88 537.75,132.83 537.54,133.7 537.34,134.5 537.17,135.22 537.01,135.86 536.88,136.43 536.76,136.91 536.67,137.32 536.59,137.64 536.54,137.88 536.51,138.03 536.5,138.1 536.51,138.12 536.54,138.11 536.59,138.08 536.67,138.02 536.76,137.95 536.88,137.84 537.01,137.71 537.17,137.56 537.34,137.38 537.54,137.18 537.75,136.94 537.99,136.68 538.24,136.39 538.51,136.08 538.8,135.73 539.11,135.35 539.44,134.93 539.78,134.49 540.15,134.01 540.52,133.49 540.92,132.94 541.33,132.35 541.75,131.73 542.19,131.06 542.64,130.36 543.11,129.62 543.59,128.83 544.08,128.01 544.59,127.14 545.1,126.23 545.63,125.28 546.16,124.29 546.7,123.26 547.26,122.18 547.82,121.06 548.38,119.9 548.96,118.7 549.54,117.45 550.12,116.17 550.71,114.85 551.31,113.49 551.9,112.1 552.5,110.66 553.1,109.2 553.7,107.7" fill="none" stroke="#38a063" stroke-width="1.0" stroke-dasharray="1.2 1.0"/>
<path d="M554.1,92.28 554.56,91.26 555.01,90.26 555.47,89.29 555.92,88.35 556.38,87.44 556.83,86.57 557.28,85.73 557.72,84.94 558.17,84.19 558.61,83.49 559.04,82.84 559.47,82.24 559.9,81.7 560.33,81.21 560.74,80.78 561.16,80.42 561.56,80.11 561.96,79.87 562.36,79.69 562.75,79.58 563.13,79.54 563.5,79.56 563.86,79.64 564.22,79.8 564.57,80.02 564.91,80.31 565.24,80.66 565.57,81.08 565.88,81.56 566.18,82.11 566.48,82.71 566.76,83.38 567.04,84.1 567.3,84.88 567.55,85.72 567.79,86.6 568.02,87.53 568.24,88.51 568.45,89.53 568.65,90.59 568.83,91.69 569,92.82 569.16,93.98 569.31,95.17 569.44,96.38 569.56,97.61 569.67,98.86 569.77,100.12 569.86,101.38 569.93,102.65 569.99,103.92 570.03,105.19 570.06,106.44 570.08,107.69 570.09,108.92 570.08,110.14 570.06,111.32 570.03,112.49 569.99,113.62 569.93,114.72 569.86,115.78 569.77,116.8 569.67,117.78 569.56,118.71 569.44,119.59 569.31,120.42 569.16,121.2 569,121.91 568.83,122.57 568.65,123.17 568.45,123.7 568.24,124.17 568.02,124.57 567.79,124.9 567.55,125.17 567.3,125.36 567.04,125.49 566.76,125.54 566.48,125.53 566.18,125.44 565.88,125.28 565.57,125.05 565.24,124.76 564.91,124.39 564.57,123.96 564.22,123.46 563.86,122.9 563.5,122.27 563.13,121.58 562.75,120.84 562.36,120.04 561.96,119.18 561.56,118.28 561.16,117.33 560.74,116.33 560.33,115.29 559.9,114.21 559.47,113.09 559.04,111.95 558.61,110.77 558.17,109.57 557.72,108.35 557.28,107.11 556.83,105.86 556.38,104.6 555.92,103.33 555.47,102.06 555.01,100.79 554.56,99.53 554.1,98.28 553.64,97.04 553.19,95.82 552.73,94.62 552.28,93.45 551.83,92.3 551.37,91.18 550.93,90.1 550.48,89.06 550.04,88.06 549.6,87.11 549.16,86.2 548.73,85.34 548.3,84.53 547.88,83.78 547.46,83.09 547.05,82.45 546.64,81.87 546.24,81.36 545.84,80.91 545.46,80.52 545.08,80.2 544.7,79.94 544.34,79.76 543.98,79.63 543.63,79.58 543.29,79.59 542.96,79.67 542.63,79.81 542.32,80.02 542.02,80.29 541.72,80.63 541.44,81.02 541.17,81.48 540.9,82 540.65,82.57 540.41,83.19 540.18,83.86 539.96,84.59 539.75,85.36 539.56,86.17 539.37,87.02 539.2,87.92 539.04,88.84 538.89,89.8 538.76,90.78 538.64,91.79 538.53,92.81 538.43,93.86 538.35,94.91 538.27,95.98 538.22,97.05 538.17,98.13 538.14,99.2 538.12,100.26 538.11,101.32 538.12,102.37 538.14,103.39 538.17,104.4 538.22,105.38 538.27,106.34 538.35,107.27 538.43,108.16 538.53,109.02 538.64,109.83 538.76,110.61 538.89,111.34 539.04,112.02 539.2,112.65 539.37,113.23 539.56,113.76 539.75,114.23 539.96,114.65 540.18,115 540.41,115.3 540.65,115.53 540.9,115.7 541.17,115.81 541.44,115.86 541.72,115.84 542.02,115.76 542.32,115.62 542.63,115.42 542.96,115.15 543.29,114.83 543.63,114.44 543.98,114 544.34,113.5 544.7,112.95 545.08,112.34 545.46,111.68 545.84,110.97 546.24,110.22 546.64,109.42 547.05,108.59 547.46,107.71 547.88,106.8 548.3,105.86 548.73,104.88 549.16,103.89 549.6,102.87 550.04,101.83 550.48,100.78 550.93,99.72 551.37,98.65 551.83,97.57 552.28,96.5 552.73,95.43 553.19,94.37 553.64,93.31 554.1,92.28Z" fill="none" stroke="#ab4f8e" stroke-width="2.8" stroke-linejoin="round"/>
<path d="M554.1,92.28 554.56,91.26 555.01,90.26 555.47,89.29 555.92,88.35 556.38,87.44 556.83,86.57 557.28,85.73 557.72,84.94 558.17,84.19 558.61,83.49 559.04,82.84 559.47,82.24 559.9,81.7 560.33,81.21 560.74,80.78 561.16,80.42 561.56,80.11 561.96,79.87 562.36,79.69 562.75,79.58 563.13,79.54 563.5,79.56 563.86,79.64 564.22,79.8 564.57,80.02 564.91,80.31 565.24,80.66 565.57,81.08 565.88,81.56 566.18,82.11 566.48,82.71 566.76,83.38 567.04,84.1 567.3,84.88 567.55,85.72 567.79,86.6 568.02,87.53 568.24,88.51 568.45,89.53 568.65,90.59 568.83,91.69 569,92.82 569.16,93.98 569.31,95.17 569.44,96.38 569.56,97.61 569.67,98.86 569.77,100.12 569.86,101.38 569.93,102.65 569.99,103.92 570.03,105.19 570.06,106.44 570.08,107.69 570.09,108.92 570.08,110.14 570.06,111.32 570.03,112.49 569.99,113.62 569.93,114.72 569.86,115.78 569.77,116.8 569.67,117.78 569.56,118.71 569.44,119.59 569.31,120.42 569.16,121.2 569,121.91 568.83,122.57 568.65,123.17 568.45,123.7 568.24,124.17 568.02,124.57 567.79,124.9 567.55,125.17 567.3,125.36 567.04,125.49 566.76,125.54 566.48,125.53 566.18,125.44 565.88,125.28 565.57,125.05 565.24,124.76 564.91,124.39 564.57,123.96 564.22,123.46 563.86,122.9 563.5,122.27 563.13,121.58 562.75,120.84 562.36,120.04 561.96,119.18 561.56,118.28 561.16,117.33 560.74,116.33 560.33,115.29 559.9,114.21 559.47,113.09 559.04,111.95 558.61,110.77 558.17,109.57 557.72,108.35 557.28,107.11 556.83,105.86 556.38,104.6 555.92,103.33 555.47,102.06 555.01,100.79 554.56,99.53 554.1,98.28 553.64,97.04 553.19,95.82 552.73,94.62 552.28,93.45 551.83,92.3 551.37,91.18 550.93,90.1 550.48,89.06 550.04,88.06 549.6,87.11 549.16,86.2 548.73,85.34 548.3,84.53 547.88,83.78 547.46,83.09 547.05,82.45 546.64,81.87 546.24,81.36 545.84,80.91 545.46,80.52 545.08,80.2 544.7,79.94 544.34,79.76 543.98,79.63 543.63,79.58 543.29,79.59 542.96,79.67 542.63,79.81 542.32,80.02 542.02,80.29 541.72,80.63 541.44,81.02 541.17,81.48 540.9,82 540.65,82.57 540.41,83.19 540.18,83.86 539.96,84.59 539.75,85.36 539.56,86.17 539.37,87.02 539.2,87.92 539.04,88.84 538.89,89.8 538.76,90.78 538.64,91.79 538.53,92.81 538.43,93.86 538.35,94.91 538.27,95.98 538.22,97.05 538.17,98.13 538.14,99.2 538.12,100.26 538.11,101.32 538.12,102.37 538.14,103.39 538.17,104.4 538.22,105.38 538.27,106.34 538.35,107.27 538.43,108.16 538.53,109.02 538.64,109.83 538.76,110.61 538.89,111.34 539.04,112.02 539.2,112.65 539.37,113.23 539.56,113.76 539.75,114.23 539.96,114.65 540.18,115 540.41,115.3 540.65,115.53 540.9,115.7 541.17,115.81 541.44,115.86 541.72,115.84 542.02,115.76 542.32,115.62 542.63,115.42 542.96,115.15 543.29,114.83 543.63,114.44 543.98,114 544.34,113.5 544.7,112.95 545.08,112.34 545.46,111.68 545.84,110.97 546.24,110.22 546.64,109.42 547.05,108.59 547.46,107.71 547.88,106.8 548.3,105.86 548.73,104.88 549.16,103.89 549.6,102.87 550.04,101.83 550.48,100.78 550.93,99.72 551.37,98.65 551.83,97.57 552.28,96.5 552.73,95.43 553.19,94.37 553.64,93.31 554.1,92.28Z" fill="none" stroke="#c484b0" stroke-width="1.008" stroke-linejoin="round"/>
</g>
<g clip-path="url(#c13)">
<line x1="574" y1="93.3" x2="613.8" y2="93.3" stroke="#222" stroke-width="0.85" stroke-dasharray="1.3 1.6"/>
<path d="M593.7,102.75 594.3,101.19 594.9,99.61 595.5,97.99 596.09,96.35 596.69,94.7 597.28,93.02 597.86,91.32 598.44,89.62 599.02,87.9 599.58,86.17 600.14,84.44 600.7,82.71 601.24,80.98 601.77,79.25 602.3,77.53 602.81,75.83 603.32,74.14 603.81,72.47 604.29,70.82 604.76,69.2 605.21,67.61 605.65,66.05 606.07,64.53 606.48,63.05 606.88,61.61 607.25,60.22 607.62,58.88 607.96,57.6 608.29,56.37 608.6,55.2 608.89,54.09 609.16,53.05 609.41,52.08 609.65,51.18 609.86,50.34 610.06,49.59 610.23,48.91 610.39,48.31 610.52,47.79 610.64,47.35 610.73,46.99 610.81,46.72 610.86,46.53 610.89,46.42 610.9,46.4 610.89,46.43 610.86,46.49 610.81,46.58 610.73,46.68 610.64,46.82 610.52,46.97 610.39,47.16 610.23,47.37 610.06,47.6 609.86,47.86 609.65,48.16 609.41,48.48 609.16,48.83 608.89,49.21 608.6,49.62 608.29,50.06 607.96,50.54 607.62,51.05 607.25,51.59 606.88,52.17 606.48,52.79 606.07,53.44 605.65,54.14 605.21,54.87 604.76,55.64 604.29,56.45 603.81,57.31 603.32,58.2 602.81,59.14 602.3,60.12 601.77,61.14 601.24,62.2 600.7,63.31 600.14,64.46 599.58,65.65 599.02,66.88 598.44,68.16 597.86,69.48 597.28,70.83 596.69,72.23 596.09,73.66 595.5,75.13 594.9,76.64 594.3,78.18 593.7,79.75 593.1,81.35 592.5,82.98 591.9,84.64 591.31,86.32 590.71,88.03 590.12,89.75 589.54,91.49 588.96,93.24 588.38,95 587.82,96.77 587.26,98.55 586.7,100.33 586.16,102.1 585.63,103.87 585.1,105.63 584.59,107.38 584.08,109.12 583.59,110.83 583.11,112.52 582.64,114.19 582.19,115.82 581.75,117.43 581.33,118.99 580.92,120.52 580.52,122 580.15,123.43 579.78,124.82 579.44,126.15 579.11,127.42 578.8,128.63 578.51,129.78 578.24,130.87 577.99,131.89 577.75,132.84 577.54,133.71 577.34,134.51 577.17,135.24 577.01,135.88 576.88,136.45 576.76,136.93 576.67,137.33 576.59,137.65 576.54,137.89 576.51,138.04 576.5,138.1 576.51,138.11 576.54,138.1 576.59,138.06 576.67,137.99 576.76,137.91 576.88,137.79 577.01,137.65 577.17,137.49 577.34,137.3 577.54,137.08 577.75,136.83 577.99,136.56 578.24,136.25 578.51,135.92 578.8,135.55 579.11,135.15 579.44,134.72 579.78,134.25 580.15,133.75 580.52,133.22 580.92,132.64 581.33,132.03 581.75,131.38 582.19,130.7 582.64,129.97 583.11,129.2 583.59,128.39 584.08,127.54 584.59,126.65 585.1,125.72 585.63,124.74 586.16,123.72 586.7,122.66 587.26,121.55 587.82,120.41 588.38,119.22 588.96,117.98 589.54,116.71 590.12,115.4 590.71,114.05 591.31,112.66 591.9,111.23 592.5,109.77 593.1,108.28 593.7,106.75" fill="none" stroke="#38a063" stroke-width="1.0" stroke-dasharray="1.2 1.0"/>
<path d="M593.82,93.23 594.27,92.3 594.72,91.41 595.17,90.57 595.61,89.78 596.06,89.04 596.5,88.35 596.94,87.72 597.38,87.15 597.81,86.65 598.24,86.21 598.67,85.84 599.1,85.53 599.52,85.3 599.93,85.14 600.34,85.06 600.75,85.05 601.15,85.11 601.54,85.25 601.93,85.46 602.31,85.75 602.68,86.11 603.05,86.54 603.41,87.05 603.76,87.62 604.1,88.26 604.43,88.97 604.76,89.75 605.08,90.58 605.38,91.47 605.68,92.42 605.97,93.43 606.25,94.48 606.52,95.58 606.78,96.72 607.02,97.89 607.26,99.11 607.49,100.35 607.7,101.62 607.91,102.91 608.1,104.22 608.28,105.54 608.45,106.87 608.6,108.2 608.75,109.53 608.88,110.86 609,112.18 609.11,113.48 609.2,114.77 609.29,116.03 609.36,117.26 609.41,118.47 609.46,119.64 609.49,120.77 609.51,121.86 609.52,122.9 609.51,123.89 609.49,124.83 609.46,125.72 609.41,126.55 609.36,127.31 609.29,128.02 609.2,128.66 609.11,129.23 609,129.73 608.88,130.17 608.75,130.53 608.6,130.82 608.45,131.04 608.28,131.19 608.1,131.26 607.91,131.26 607.7,131.19 607.49,131.05 607.26,130.83 607.02,130.55 606.78,130.19 606.52,129.77 606.25,129.28 605.97,128.73 605.68,128.12 605.38,127.45 605.08,126.72 604.76,125.93 604.43,125.09 604.1,124.21 603.76,123.28 603.41,122.3 603.05,121.28 602.68,120.23 602.31,119.14 601.93,118.03 601.54,116.89 601.15,115.72 600.75,114.53 600.34,113.33 599.93,112.11 599.52,110.89 599.1,109.66 598.67,108.43 598.24,107.2 597.81,105.97 597.38,104.76 596.94,103.55 596.5,102.36 596.06,101.19 595.61,100.04 595.17,98.91 594.72,97.81 594.27,96.74 593.82,95.71 593.37,94.71 592.93,93.75 592.48,92.82 592.03,91.95 591.59,91.11 591.15,90.32 590.71,89.59 590.27,88.9 589.83,88.26 589.4,87.68 588.97,87.15 588.55,86.68 588.13,86.26 587.71,85.9 587.3,85.6 586.9,85.36 586.5,85.18 586.1,85.06 585.72,84.99 585.34,84.99 584.96,85.04 584.6,85.15 584.24,85.32 583.89,85.55 583.54,85.84 583.21,86.18 582.88,86.57 582.57,87.01 582.26,87.51 581.96,88.06 581.67,88.65 581.39,89.29 581.13,89.98 580.87,90.71 580.62,91.47 580.38,92.28 580.16,93.11 579.94,93.99 579.74,94.89 579.55,95.81 579.37,96.77 579.2,97.74 579.04,98.73 578.9,99.74 578.76,100.76 578.64,101.78 578.54,102.82 578.44,103.85 578.36,104.88 578.29,105.91 578.23,106.94 578.19,107.95 578.15,108.95 578.13,109.92 578.13,110.88 578.13,111.82 578.15,112.73 578.19,113.61 578.23,114.45 578.29,115.26 578.36,116.03 578.44,116.76 578.54,117.44 578.64,118.08 578.76,118.67 578.9,119.2 579.04,119.69 579.2,120.11 579.37,120.48 579.55,120.8 579.74,121.05 579.94,121.24 580.16,121.37 580.38,121.44 580.62,121.44 580.87,121.38 581.13,121.26 581.39,121.07 581.67,120.82 581.96,120.5 582.26,120.13 582.57,119.69 582.88,119.19 583.21,118.64 583.54,118.03 583.89,117.37 584.24,116.65 584.6,115.88 584.96,115.07 585.34,114.21 585.72,113.31 586.1,112.37 586.5,111.4 586.9,110.39 587.3,109.36 587.71,108.3 588.13,107.22 588.55,106.13 588.97,105.02 589.4,103.91 589.83,102.79 590.27,101.67 590.71,100.55 591.15,99.45 591.59,98.35 592.03,97.28 592.48,96.22 592.93,95.19 593.37,94.19 593.82,93.23Z" fill="none" stroke="#8b50ab" stroke-width="2.8" stroke-linejoin="round"/>
<path d="M593.82,93.23 594.27,92.3 594.72,91.41 595.17,90.57 595.61,89.78 596.06,89.04 596.5,88.35 596.94,87.72 597.38,87.15 597.81,86.65 598.24,86.21 598.67,85.84 599.1,85.53 599.52,85.3 599.93,85.14 600.34,85.06 600.75,85.05 601.15,85.11 601.54,85.25 601.93,85.46 602.31,85.75 602.68,86.11 603.05,86.54 603.41,87.05 603.76,87.62 604.1,88.26 604.43,88.97 604.76,89.75 605.08,90.58 605.38,91.47 605.68,92.42 605.97,93.43 606.25,94.48 606.52,95.58 606.78,96.72 607.02,97.89 607.26,99.11 607.49,100.35 607.7,101.62 607.91,102.91 608.1,104.22 608.28,105.54 608.45,106.87 608.6,108.2 608.75,109.53 608.88,110.86 609,112.18 609.11,113.48 609.2,114.77 609.29,116.03 609.36,117.26 609.41,118.47 609.46,119.64 609.49,120.77 609.51,121.86 609.52,122.9 609.51,123.89 609.49,124.83 609.46,125.72 609.41,126.55 609.36,127.31 609.29,128.02 609.2,128.66 609.11,129.23 609,129.73 608.88,130.17 608.75,130.53 608.6,130.82 608.45,131.04 608.28,131.19 608.1,131.26 607.91,131.26 607.7,131.19 607.49,131.05 607.26,130.83 607.02,130.55 606.78,130.19 606.52,129.77 606.25,129.28 605.97,128.73 605.68,128.12 605.38,127.45 605.08,126.72 604.76,125.93 604.43,125.09 604.1,124.21 603.76,123.28 603.41,122.3 603.05,121.28 602.68,120.23 602.31,119.14 601.93,118.03 601.54,116.89 601.15,115.72 600.75,114.53 600.34,113.33 599.93,112.11 599.52,110.89 599.1,109.66 598.67,108.43 598.24,107.2 597.81,105.97 597.38,104.76 596.94,103.55 596.5,102.36 596.06,101.19 595.61,100.04 595.17,98.91 594.72,97.81 594.27,96.74 593.82,95.71 593.37,94.71 592.93,93.75 592.48,92.82 592.03,91.95 591.59,91.11 591.15,90.32 590.71,89.59 590.27,88.9 589.83,88.26 589.4,87.68 588.97,87.15 588.55,86.68 588.13,86.26 587.71,85.9 587.3,85.6 586.9,85.36 586.5,85.18 586.1,85.06 585.72,84.99 585.34,84.99 584.96,85.04 584.6,85.15 584.24,85.32 583.89,85.55 583.54,85.84 583.21,86.18 582.88,86.57 582.57,87.01 582.26,87.51 581.96,88.06 581.67,88.65 581.39,89.29 581.13,89.98 580.87,90.71 580.62,91.47 580.38,92.28 580.16,93.11 579.94,93.99 579.74,94.89 579.55,95.81 579.37,96.77 579.2,97.74 579.04,98.73 578.9,99.74 578.76,100.76 578.64,101.78 578.54,102.82 578.44,103.85 578.36,104.88 578.29,105.91 578.23,106.94 578.19,107.95 578.15,108.95 578.13,109.92 578.13,110.88 578.13,111.82 578.15,112.73 578.19,113.61 578.23,114.45 578.29,115.26 578.36,116.03 578.44,116.76 578.54,117.44 578.64,118.08 578.76,118.67 578.9,119.2 579.04,119.69 579.2,120.11 579.37,120.48 579.55,120.8 579.74,121.05 579.94,121.24 580.16,121.37 580.38,121.44 580.62,121.44 580.87,121.38 581.13,121.26 581.39,121.07 581.67,120.82 581.96,120.5 582.26,120.13 582.57,119.69 582.88,119.19 583.21,118.64 583.54,118.03 583.89,117.37 584.24,116.65 584.6,115.88 584.96,115.07 585.34,114.21 585.72,113.31 586.1,112.37 586.5,111.4 586.9,110.39 587.3,109.36 587.71,108.3 588.13,107.22 588.55,106.13 588.97,105.02 589.4,103.91 589.83,102.79 590.27,101.67 590.71,100.55 591.15,99.45 591.59,98.35 592.03,97.28 592.48,96.22 592.93,95.19 593.37,94.19 593.82,93.23Z" fill="none" stroke="#ae84c4" stroke-width="1.008" stroke-linejoin="round"/>
</g>
<g clip-path="url(#c14)">
<line x1="613.8" y1="93.3" x2="653.6" y2="93.3" stroke="#222" stroke-width="0.85" stroke-dasharray="1.3 1.6"/>
<path d="M633.65,103.7 634.25,102 634.84,100.26 635.43,98.51 636.02,96.73 636.61,94.92 637.19,93.1 637.77,91.27 638.35,89.42 638.92,87.56 639.48,85.7 640.04,83.83 640.58,81.96 641.12,80.1 641.65,78.24 642.18,76.4 642.69,74.57 643.18,72.76 643.67,70.97 644.15,69.2 644.61,67.47 645.06,65.77 645.49,64.1 645.91,62.48 646.32,60.89 646.71,59.36 647.09,57.88 647.44,56.45 647.79,55.08 648.11,53.77 648.42,52.52 648.7,51.34 648.97,50.23 649.23,49.19 649.46,48.23 649.67,47.34 649.87,46.53 650.04,45.81 650.19,45.17 650.33,44.61 650.44,44.14 650.53,43.75 650.61,43.45 650.66,43.25 650.69,43.13 650.7,43.1 650.69,43.13 650.66,43.19 650.61,43.28 650.53,43.4 650.44,43.55 650.33,43.73 650.19,43.94 650.04,44.18 649.87,44.45 649.67,44.75 649.46,45.09 649.23,45.46 648.97,45.86 648.7,46.3 648.42,46.77 648.11,47.28 647.79,47.83 647.44,48.41 647.09,49.03 646.71,49.7 646.32,50.4 645.91,51.15 645.49,51.93 645.06,52.76 644.61,53.63 644.15,54.55 643.67,55.51 643.18,56.51 642.69,57.56 642.18,58.65 641.65,59.79 641.12,60.97 640.58,62.2 640.04,63.47 639.48,64.79 638.92,66.15 638.35,67.55 637.77,69 637.19,70.48 636.61,72.01 636.02,73.58 635.43,75.18 634.84,76.82 634.25,78.49 633.65,80.2 633.05,81.94 632.46,83.7 631.87,85.49 631.28,87.31 630.69,89.14 630.11,91 629.53,92.87 628.95,94.75 628.38,96.64 627.82,98.54 627.26,100.44 626.72,102.34 626.18,104.23 625.65,106.12 625.13,108 624.61,109.86 624.12,111.71 623.63,113.53 623.15,115.33 622.69,117.1 622.24,118.83 621.81,120.53 621.39,122.19 620.98,123.81 620.59,125.37 620.21,126.89 619.86,128.35 619.51,129.76 619.19,131.1 618.88,132.38 618.6,133.59 618.33,134.74 618.07,135.81 617.84,136.81 617.63,137.73 617.43,138.57 617.26,139.32 617.11,140 616.97,140.59 616.86,141.1 616.77,141.52 616.69,141.85 616.64,142.09 616.61,142.24 616.6,142.3 616.61,142.3 616.64,142.28 616.69,142.22 616.77,142.13 616.86,142.02 616.97,141.87 617.11,141.7 617.26,141.49 617.43,141.25 617.63,140.98 617.84,140.68 618.07,140.34 618.33,139.97 618.6,139.57 618.88,139.13 619.19,138.65 619.51,138.14 619.86,137.59 620.21,137 620.59,136.37 620.98,135.7 621.39,134.99 621.81,134.24 622.24,133.44 622.69,132.6 623.15,131.72 623.63,130.79 624.12,129.82 624.61,128.81 625.13,127.75 625.65,126.65 626.18,125.5 626.72,124.3 627.26,123.06 627.82,121.78 628.38,120.45 628.95,119.08 629.53,117.67 630.11,116.22 630.69,114.72 631.28,113.19 631.87,111.62 632.46,110.01 633.05,108.37 633.65,106.7" fill="none" stroke="#38a063" stroke-width="1.0" stroke-dasharray="1.2 1.0"/>
<path d="M633.7,93.95 634.17,93.27 634.64,92.64 635.11,92.06 635.58,91.54 636.04,91.07 636.5,90.66 636.97,90.32 637.42,90.04 637.88,89.83 638.33,89.68 638.78,89.6 639.22,89.6 639.66,89.66 640.1,89.79 640.53,90 640.95,90.28 641.37,90.62 641.78,91.04 642.19,91.53 642.59,92.09 642.98,92.71 643.36,93.4 643.74,94.15 644.1,94.96 644.46,95.83 644.81,96.75 645.15,97.73 645.48,98.75 645.81,99.82 646.12,100.94 646.42,102.09 646.71,103.28 646.99,104.5 647.26,105.74 647.52,107.01 647.77,108.29 648.01,109.59 648.23,110.9 648.45,112.21 648.65,113.52 648.84,114.83 649.01,116.12 649.18,117.41 649.33,118.67 649.47,119.91 649.59,121.13 649.71,122.31 649.8,123.46 649.89,124.57 649.96,125.64 650.02,126.66 650.07,127.64 650.11,128.55 650.13,129.42 650.13,130.22 650.13,130.97 650.11,131.65 650.07,132.26 650.02,132.81 649.96,133.29 649.89,133.7 649.8,134.03 649.71,134.3 649.59,134.49 649.47,134.61 649.33,134.66 649.18,134.64 649.01,134.54 648.84,134.37 648.65,134.13 648.45,133.82 648.23,133.45 648.01,133.01 647.77,132.5 647.52,131.93 647.26,131.31 646.99,130.62 646.71,129.88 646.42,129.09 646.12,128.25 645.81,127.36 645.48,126.44 645.15,125.47 644.81,124.46 644.46,123.43 644.1,122.36 643.74,121.27 643.36,120.15 642.98,119.02 642.59,117.87 642.19,116.71 641.78,115.54 641.37,114.37 640.95,113.2 640.53,112.03 640.1,110.86 639.66,109.7 639.22,108.56 638.78,107.43 638.33,106.32 637.88,105.23 637.42,104.17 636.97,103.13 636.5,102.12 636.04,101.14 635.58,100.2 635.11,99.29 634.64,98.43 634.17,97.6 633.7,96.81 633.23,96.07 632.77,95.38 632.3,94.73 631.83,94.12 631.36,93.57 630.9,93.06 630.44,92.61 629.98,92.21 629.53,91.85 629.07,91.55 628.63,91.31 628.18,91.11 627.74,90.96 627.31,90.87 626.88,90.83 626.45,90.84 626.04,90.9 625.62,91 625.22,91.16 624.82,91.37 624.43,91.62 624.05,91.92 623.67,92.26 623.3,92.64 622.94,93.07 622.59,93.54 622.25,94.05 621.92,94.59 621.6,95.17 621.29,95.78 620.98,96.42 620.69,97.1 620.41,97.8 620.14,98.53 619.88,99.28 619.63,100.05 619.4,100.84 619.17,101.64 618.96,102.47 618.76,103.3 618.57,104.14 618.39,104.99 618.23,105.84 618.08,106.7 617.94,107.56 617.81,108.41 617.7,109.25 617.6,110.09 617.51,110.92 617.44,111.73 617.38,112.53 617.33,113.3 617.3,114.06 617.28,114.79 617.27,115.5 617.28,116.18 617.3,116.83 617.33,117.44 617.38,118.02 617.44,118.56 617.51,119.06 617.6,119.53 617.7,119.94 617.81,120.32 617.94,120.64 618.08,120.92 618.23,121.15 618.39,121.33 618.57,121.46 618.76,121.53 618.96,121.55 619.17,121.52 619.4,121.44 619.63,121.3 619.88,121.1 620.14,120.86 620.41,120.56 620.69,120.2 620.98,119.8 621.29,119.34 621.6,118.83 621.92,118.28 622.25,117.68 622.59,117.03 622.94,116.34 623.3,115.61 623.67,114.84 624.05,114.04 624.43,113.2 624.82,112.33 625.22,111.44 625.62,110.52 626.04,109.58 626.45,108.62 626.88,107.64 627.31,106.66 627.74,105.67 628.18,104.68 628.63,103.69 629.07,102.7 629.53,101.72 629.98,100.76 630.44,99.81 630.9,98.88 631.36,97.97 631.83,97.1 632.3,96.25 632.77,95.45 633.23,94.68 633.7,93.95Z" fill="none" stroke="#7140a6" stroke-width="2.8" stroke-linejoin="round"/>
<path d="M633.7,93.95 634.17,93.27 634.64,92.64 635.11,92.06 635.58,91.54 636.04,91.07 636.5,90.66 636.97,90.32 637.42,90.04 637.88,89.83 638.33,89.68 638.78,89.6 639.22,89.6 639.66,89.66 640.1,89.79 640.53,90 640.95,90.28 641.37,90.62 641.78,91.04 642.19,91.53 642.59,92.09 642.98,92.71 643.36,93.4 643.74,94.15 644.1,94.96 644.46,95.83 644.81,96.75 645.15,97.73 645.48,98.75 645.81,99.82 646.12,100.94 646.42,102.09 646.71,103.28 646.99,104.5 647.26,105.74 647.52,107.01 647.77,108.29 648.01,109.59 648.23,110.9 648.45,112.21 648.65,113.52 648.84,114.83 649.01,116.12 649.18,117.41 649.33,118.67 649.47,119.91 649.59,121.13 649.71,122.31 649.8,123.46 649.89,124.57 649.96,125.64 650.02,126.66 650.07,127.64 650.11,128.55 650.13,129.42 650.13,130.22 650.13,130.97 650.11,131.65 650.07,132.26 650.02,132.81 649.96,133.29 649.89,133.7 649.8,134.03 649.71,134.3 649.59,134.49 649.47,134.61 649.33,134.66 649.18,134.64 649.01,134.54 648.84,134.37 648.65,134.13 648.45,133.82 648.23,133.45 648.01,133.01 647.77,132.5 647.52,131.93 647.26,131.31 646.99,130.62 646.71,129.88 646.42,129.09 646.12,128.25 645.81,127.36 645.48,126.44 645.15,125.47 644.81,124.46 644.46,123.43 644.1,122.36 643.74,121.27 643.36,120.15 642.98,119.02 642.59,117.87 642.19,116.71 641.78,115.54 641.37,114.37 640.95,113.2 640.53,112.03 640.1,110.86 639.66,109.7 639.22,108.56 638.78,107.43 638.33,106.32 637.88,105.23 637.42,104.17 636.97,103.13 636.5,102.12 636.04,101.14 635.58,100.2 635.11,99.29 634.64,98.43 634.17,97.6 633.7,96.81 633.23,96.07 632.77,95.38 632.3,94.73 631.83,94.12 631.36,93.57 630.9,93.06 630.44,92.61 629.98,92.21 629.53,91.85 629.07,91.55 628.63,91.31 628.18,91.11 627.74,90.96 627.31,90.87 626.88,90.83 626.45,90.84 626.04,90.9 625.62,91 625.22,91.16 624.82,91.37 624.43,91.62 624.05,91.92 623.67,92.26 623.3,92.64 622.94,93.07 622.59,93.54 622.25,94.05 621.92,94.59 621.6,95.17 621.29,95.78 620.98,96.42 620.69,97.1 620.41,97.8 620.14,98.53 619.88,99.28 619.63,100.05 619.4,100.84 619.17,101.64 618.96,102.47 618.76,103.3 618.57,104.14 618.39,104.99 618.23,105.84 618.08,106.7 617.94,107.56 617.81,108.41 617.7,109.25 617.6,110.09 617.51,110.92 617.44,111.73 617.38,112.53 617.33,113.3 617.3,114.06 617.28,114.79 617.27,115.5 617.28,116.18 617.3,116.83 617.33,117.44 617.38,118.02 617.44,118.56 617.51,119.06 617.6,119.53 617.7,119.94 617.81,120.32 617.94,120.64 618.08,120.92 618.23,121.15 618.39,121.33 618.57,121.46 618.76,121.53 618.96,121.55 619.17,121.52 619.4,121.44 619.63,121.3 619.88,121.1 620.14,120.86 620.41,120.56 620.69,120.2 620.98,119.8 621.29,119.34 621.6,118.83 621.92,118.28 622.25,117.68 622.59,117.03 622.94,116.34 623.3,115.61 623.67,114.84 624.05,114.04 624.43,113.2 624.82,112.33 625.22,111.44 625.62,110.52 626.04,109.58 626.45,108.62 626.88,107.64 627.31,106.66 627.74,105.67 628.18,104.68 628.63,103.69 629.07,102.7 629.53,101.72 629.98,100.76 630.44,99.81 630.9,98.88 631.36,97.97 631.83,97.1 632.3,96.25 632.77,95.45 633.23,94.68 633.7,93.95Z" fill="none" stroke="#9c79c1" stroke-width="1.008" stroke-linejoin="round"/>
</g>
<line x1="40.32" y1="144.5" x2="40.32" y2="142.5" stroke="#262626" stroke-width="0.8" />
<line x1="56.94" y1="144.5" x2="56.94" y2="142.5" stroke="#262626" stroke-width="0.8" />
<line x1="73.55" y1="144.5" x2="73.55" y2="142.5" stroke="#262626" stroke-width="0.8" />
<line x1="37" y1="52.5" x2="39" y2="52.5" stroke="#262626" stroke-width="0.8" />
<line x1="74.87" y1="52.5" x2="76.87" y2="52.5" stroke="#262626" stroke-width="0.8" />
<line x1="37" y1="72.9" x2="39" y2="72.9" stroke="#262626" stroke-width="0.8" />
<line x1="74.87" y1="72.9" x2="76.87" y2="72.9" stroke="#262626" stroke-width="0.8" />
<line x1="37" y1="93.3" x2="39" y2="93.3" stroke="#262626" stroke-width="0.8" />
<line x1="74.87" y1="93.3" x2="76.87" y2="93.3" stroke="#262626" stroke-width="0.8" />
<line x1="37" y1="113.7" x2="39" y2="113.7" stroke="#262626" stroke-width="0.8" />
<line x1="74.87" y1="113.7" x2="76.87" y2="113.7" stroke="#262626" stroke-width="0.8" />
<line x1="37" y1="134.1" x2="39" y2="134.1" stroke="#262626" stroke-width="0.8" />
<line x1="74.87" y1="134.1" x2="76.87" y2="134.1" stroke="#262626" stroke-width="0.8" />
<text x="39.6" y="51" font-size="9.8" text-anchor="start" fill="#262626" >100Hz</text>
<line x1="80.19" y1="144.5" x2="80.19" y2="142.5" stroke="#262626" stroke-width="0.8" />
<line x1="96.81" y1="144.5" x2="96.81" y2="142.5" stroke="#262626" stroke-width="0.8" />
<line x1="113.42" y1="144.5" x2="113.42" y2="142.5" stroke="#262626" stroke-width="0.8" />
<line x1="76.87" y1="52.5" x2="78.87" y2="52.5" stroke="#262626" stroke-width="0.8" />
<line x1="114.74" y1="52.5" x2="116.74" y2="52.5" stroke="#262626" stroke-width="0.8" />
<line x1="76.87" y1="72.9" x2="78.87" y2="72.9" stroke="#262626" stroke-width="0.8" />
<line x1="114.74" y1="72.9" x2="116.74" y2="72.9" stroke="#262626" stroke-width="0.8" />
<line x1="76.87" y1="93.3" x2="78.87" y2="93.3" stroke="#262626" stroke-width="0.8" />
<line x1="114.74" y1="93.3" x2="116.74" y2="93.3" stroke="#262626" stroke-width="0.8" />
<line x1="76.87" y1="113.7" x2="78.87" y2="113.7" stroke="#262626" stroke-width="0.8" />
<line x1="114.74" y1="113.7" x2="116.74" y2="113.7" stroke="#262626" stroke-width="0.8" />
<line x1="76.87" y1="134.1" x2="78.87" y2="134.1" stroke="#262626" stroke-width="0.8" />
<line x1="114.74" y1="134.1" x2="116.74" y2="134.1" stroke="#262626" stroke-width="0.8" />
<text x="80.07" y="51" font-size="9.8" text-anchor="start" fill="#262626" >64Hz</text>
<line x1="120.06" y1="144.5" x2="120.06" y2="142.5" stroke="#262626" stroke-width="0.8" />
<line x1="136.67" y1="144.5" x2="136.67" y2="142.5" stroke="#262626" stroke-width="0.8" />
<line x1="153.29" y1="144.5" x2="153.29" y2="142.5" stroke="#262626" stroke-width="0.8" />
<line x1="116.74" y1="52.5" x2="118.74" y2="52.5" stroke="#262626" stroke-width="0.8" />
<line x1="154.61" y1="52.5" x2="156.61" y2="52.5" stroke="#262626" stroke-width="0.8" />
<line x1="116.74" y1="72.9" x2="118.74" y2="72.9" stroke="#262626" stroke-width="0.8" />
<line x1="154.61" y1="72.9" x2="156.61" y2="72.9" stroke="#262626" stroke-width="0.8" />
<line x1="116.74" y1="93.3" x2="118.74" y2="93.3" stroke="#262626" stroke-width="0.8" />
<line x1="154.61" y1="93.3" x2="156.61" y2="93.3" stroke="#262626" stroke-width="0.8" />
<line x1="116.74" y1="113.7" x2="118.74" y2="113.7" stroke="#262626" stroke-width="0.8" />
<line x1="154.61" y1="113.7" x2="156.61" y2="113.7" stroke="#262626" stroke-width="0.8" />
<line x1="116.74" y1="134.1" x2="118.74" y2="134.1" stroke="#262626" stroke-width="0.8" />
<line x1="154.61" y1="134.1" x2="156.61" y2="134.1" stroke="#262626" stroke-width="0.8" />
<text x="119.34" y="51" font-size="9.8" text-anchor="start" fill="#262626" >40Hz</text>
<line x1="159.93" y1="144.5" x2="159.93" y2="142.5" stroke="#262626" stroke-width="0.8" />
<line x1="176.54" y1="144.5" x2="176.54" y2="142.5" stroke="#262626" stroke-width="0.8" />
<line x1="193.16" y1="144.5" x2="193.16" y2="142.5" stroke="#262626" stroke-width="0.8" />
<line x1="156.61" y1="52.5" x2="158.61" y2="52.5" stroke="#262626" stroke-width="0.8" />
<line x1="194.48" y1="52.5" x2="196.48" y2="52.5" stroke="#262626" stroke-width="0.8" />
<line x1="156.61" y1="72.9" x2="158.61" y2="72.9" stroke="#262626" stroke-width="0.8" />
<line x1="194.48" y1="72.9" x2="196.48" y2="72.9" stroke="#262626" stroke-width="0.8" />
<line x1="156.61" y1="93.3" x2="158.61" y2="93.3" stroke="#262626" stroke-width="0.8" />
<line x1="194.48" y1="93.3" x2="196.48" y2="93.3" stroke="#262626" stroke-width="0.8" />
<line x1="156.61" y1="113.7" x2="158.61" y2="113.7" stroke="#262626" stroke-width="0.8" />
<line x1="194.48" y1="113.7" x2="196.48" y2="113.7" stroke="#262626" stroke-width="0.8" />
<line x1="156.61" y1="134.1" x2="158.61" y2="134.1" stroke="#262626" stroke-width="0.8" />
<line x1="194.48" y1="134.1" x2="196.48" y2="134.1" stroke="#262626" stroke-width="0.8" />
<text x="159.21" y="51" font-size="9.8" text-anchor="start" fill="#262626" >25Hz</text>
<line x1="199.8" y1="144.5" x2="199.8" y2="142.5" stroke="#262626" stroke-width="0.8" />
<line x1="216.41" y1="144.5" x2="216.41" y2="142.5" stroke="#262626" stroke-width="0.8" />
<line x1="233.03" y1="144.5" x2="233.03" y2="142.5" stroke="#262626" stroke-width="0.8" />
<line x1="196.48" y1="52.5" x2="198.48" y2="52.5" stroke="#262626" stroke-width="0.8" />
<line x1="234.35" y1="52.5" x2="236.35" y2="52.5" stroke="#262626" stroke-width="0.8" />
<line x1="196.48" y1="72.9" x2="198.48" y2="72.9" stroke="#262626" stroke-width="0.8" />
<line x1="234.35" y1="72.9" x2="236.35" y2="72.9" stroke="#262626" stroke-width="0.8" />
<line x1="196.48" y1="93.3" x2="198.48" y2="93.3" stroke="#262626" stroke-width="0.8" />
<line x1="234.35" y1="93.3" x2="236.35" y2="93.3" stroke="#262626" stroke-width="0.8" />
<line x1="196.48" y1="113.7" x2="198.48" y2="113.7" stroke="#262626" stroke-width="0.8" />
<line x1="234.35" y1="113.7" x2="236.35" y2="113.7" stroke="#262626" stroke-width="0.8" />
<line x1="196.48" y1="134.1" x2="198.48" y2="134.1" stroke="#262626" stroke-width="0.8" />
<line x1="234.35" y1="134.1" x2="236.35" y2="134.1" stroke="#262626" stroke-width="0.8" />
<text x="201.08" y="51" font-size="9.8" text-anchor="start" fill="#262626" >10Hz</text>
<line x1="246.93" y1="144.5" x2="246.93" y2="142.5" stroke="#262626" stroke-width="0.8" />
<line x1="263.59" y1="144.5" x2="263.59" y2="142.5" stroke="#262626" stroke-width="0.8" />
<line x1="280.24" y1="144.5" x2="280.24" y2="142.5" stroke="#262626" stroke-width="0.8" />
<line x1="243.6" y1="52.5" x2="245.6" y2="52.5" stroke="#262626" stroke-width="0.8" />
<line x1="281.57" y1="52.5" x2="283.57" y2="52.5" stroke="#262626" stroke-width="0.8" />
<line x1="243.6" y1="72.9" x2="245.6" y2="72.9" stroke="#262626" stroke-width="0.8" />
<line x1="281.57" y1="72.9" x2="283.57" y2="72.9" stroke="#262626" stroke-width="0.8" />
<line x1="243.6" y1="93.3" x2="245.6" y2="93.3" stroke="#262626" stroke-width="0.8" />
<line x1="281.57" y1="93.3" x2="283.57" y2="93.3" stroke="#262626" stroke-width="0.8" />
<line x1="243.6" y1="113.7" x2="245.6" y2="113.7" stroke="#262626" stroke-width="0.8" />
<line x1="281.57" y1="113.7" x2="283.57" y2="113.7" stroke="#262626" stroke-width="0.8" />
<line x1="243.6" y1="134.1" x2="245.6" y2="134.1" stroke="#262626" stroke-width="0.8" />
<line x1="281.57" y1="134.1" x2="283.57" y2="134.1" stroke="#262626" stroke-width="0.8" />
<text x="246.2" y="51" font-size="9.8" text-anchor="start" fill="#262626" >9Hz</text>
<line x1="286.9" y1="144.5" x2="286.9" y2="142.5" stroke="#262626" stroke-width="0.8" />
<line x1="303.56" y1="144.5" x2="303.56" y2="142.5" stroke="#262626" stroke-width="0.8" />
<line x1="320.21" y1="144.5" x2="320.21" y2="142.5" stroke="#262626" stroke-width="0.8" />
<line x1="283.57" y1="52.5" x2="285.57" y2="52.5" stroke="#262626" stroke-width="0.8" />
<line x1="321.54" y1="52.5" x2="323.54" y2="52.5" stroke="#262626" stroke-width="0.8" />
<line x1="283.57" y1="72.9" x2="285.57" y2="72.9" stroke="#262626" stroke-width="0.8" />
<line x1="321.54" y1="72.9" x2="323.54" y2="72.9" stroke="#262626" stroke-width="0.8" />
<line x1="283.57" y1="93.3" x2="285.57" y2="93.3" stroke="#262626" stroke-width="0.8" />
<line x1="321.54" y1="93.3" x2="323.54" y2="93.3" stroke="#262626" stroke-width="0.8" />
<line x1="283.57" y1="113.7" x2="285.57" y2="113.7" stroke="#262626" stroke-width="0.8" />
<line x1="321.54" y1="113.7" x2="323.54" y2="113.7" stroke="#262626" stroke-width="0.8" />
<line x1="283.57" y1="134.1" x2="285.57" y2="134.1" stroke="#262626" stroke-width="0.8" />
<line x1="321.54" y1="134.1" x2="323.54" y2="134.1" stroke="#262626" stroke-width="0.8" />
<text x="286.17" y="51" font-size="9.8" text-anchor="start" fill="#262626" >8Hz</text>
<line x1="326.87" y1="144.5" x2="326.87" y2="142.5" stroke="#262626" stroke-width="0.8" />
<line x1="343.53" y1="144.5" x2="343.53" y2="142.5" stroke="#262626" stroke-width="0.8" />
<line x1="360.18" y1="144.5" x2="360.18" y2="142.5" stroke="#262626" stroke-width="0.8" />
<line x1="323.54" y1="52.5" x2="325.54" y2="52.5" stroke="#262626" stroke-width="0.8" />
<line x1="361.51" y1="52.5" x2="363.51" y2="52.5" stroke="#262626" stroke-width="0.8" />
<line x1="323.54" y1="72.9" x2="325.54" y2="72.9" stroke="#262626" stroke-width="0.8" />
<line x1="361.51" y1="72.9" x2="363.51" y2="72.9" stroke="#262626" stroke-width="0.8" />
<line x1="323.54" y1="93.3" x2="325.54" y2="93.3" stroke="#262626" stroke-width="0.8" />
<line x1="361.51" y1="93.3" x2="363.51" y2="93.3" stroke="#262626" stroke-width="0.8" />
<line x1="323.54" y1="113.7" x2="325.54" y2="113.7" stroke="#262626" stroke-width="0.8" />
<line x1="361.51" y1="113.7" x2="363.51" y2="113.7" stroke="#262626" stroke-width="0.8" />
<line x1="323.54" y1="134.1" x2="325.54" y2="134.1" stroke="#262626" stroke-width="0.8" />
<line x1="361.51" y1="134.1" x2="363.51" y2="134.1" stroke="#262626" stroke-width="0.8" />
<text x="326.14" y="51" font-size="9.8" text-anchor="start" fill="#262626" >7Hz</text>
<line x1="366.85" y1="144.5" x2="366.85" y2="142.5" stroke="#262626" stroke-width="0.8" />
<line x1="383.5" y1="144.5" x2="383.5" y2="142.5" stroke="#262626" stroke-width="0.8" />
<line x1="400.15" y1="144.5" x2="400.15" y2="142.5" stroke="#262626" stroke-width="0.8" />
<line x1="363.51" y1="52.5" x2="365.51" y2="52.5" stroke="#262626" stroke-width="0.8" />
<line x1="401.49" y1="52.5" x2="403.49" y2="52.5" stroke="#262626" stroke-width="0.8" />
<line x1="363.51" y1="72.9" x2="365.51" y2="72.9" stroke="#262626" stroke-width="0.8" />
<line x1="401.49" y1="72.9" x2="403.49" y2="72.9" stroke="#262626" stroke-width="0.8" />
<line x1="363.51" y1="93.3" x2="365.51" y2="93.3" stroke="#262626" stroke-width="0.8" />
<line x1="401.49" y1="93.3" x2="403.49" y2="93.3" stroke="#262626" stroke-width="0.8" />
<line x1="363.51" y1="113.7" x2="365.51" y2="113.7" stroke="#262626" stroke-width="0.8" />
<line x1="401.49" y1="113.7" x2="403.49" y2="113.7" stroke="#262626" stroke-width="0.8" />
<line x1="363.51" y1="134.1" x2="365.51" y2="134.1" stroke="#262626" stroke-width="0.8" />
<line x1="401.49" y1="134.1" x2="403.49" y2="134.1" stroke="#262626" stroke-width="0.8" />
<text x="366.11" y="51" font-size="9.8" text-anchor="start" fill="#262626" >6Hz</text>
<line x1="406.82" y1="144.5" x2="406.82" y2="142.5" stroke="#262626" stroke-width="0.8" />
<line x1="423.47" y1="144.5" x2="423.47" y2="142.5" stroke="#262626" stroke-width="0.8" />
<line x1="440.13" y1="144.5" x2="440.13" y2="142.5" stroke="#262626" stroke-width="0.8" />
<line x1="403.49" y1="52.5" x2="405.49" y2="52.5" stroke="#262626" stroke-width="0.8" />
<line x1="441.46" y1="52.5" x2="443.46" y2="52.5" stroke="#262626" stroke-width="0.8" />
<line x1="403.49" y1="72.9" x2="405.49" y2="72.9" stroke="#262626" stroke-width="0.8" />
<line x1="441.46" y1="72.9" x2="443.46" y2="72.9" stroke="#262626" stroke-width="0.8" />
<line x1="403.49" y1="93.3" x2="405.49" y2="93.3" stroke="#262626" stroke-width="0.8" />
<line x1="441.46" y1="93.3" x2="443.46" y2="93.3" stroke="#262626" stroke-width="0.8" />
<line x1="403.49" y1="113.7" x2="405.49" y2="113.7" stroke="#262626" stroke-width="0.8" />
<line x1="441.46" y1="113.7" x2="443.46" y2="113.7" stroke="#262626" stroke-width="0.8" />
<line x1="403.49" y1="134.1" x2="405.49" y2="134.1" stroke="#262626" stroke-width="0.8" />
<line x1="441.46" y1="134.1" x2="443.46" y2="134.1" stroke="#262626" stroke-width="0.8" />
<text x="406.09" y="51" font-size="9.8" text-anchor="start" fill="#262626" >5Hz</text>
<line x1="446.79" y1="144.5" x2="446.79" y2="142.5" stroke="#262626" stroke-width="0.8" />
<line x1="463.44" y1="144.5" x2="463.44" y2="142.5" stroke="#262626" stroke-width="0.8" />
<line x1="480.1" y1="144.5" x2="480.1" y2="142.5" stroke="#262626" stroke-width="0.8" />
<line x1="443.46" y1="52.5" x2="445.46" y2="52.5" stroke="#262626" stroke-width="0.8" />
<line x1="481.43" y1="52.5" x2="483.43" y2="52.5" stroke="#262626" stroke-width="0.8" />
<line x1="443.46" y1="72.9" x2="445.46" y2="72.9" stroke="#262626" stroke-width="0.8" />
<line x1="481.43" y1="72.9" x2="483.43" y2="72.9" stroke="#262626" stroke-width="0.8" />
<line x1="443.46" y1="93.3" x2="445.46" y2="93.3" stroke="#262626" stroke-width="0.8" />
<line x1="481.43" y1="93.3" x2="483.43" y2="93.3" stroke="#262626" stroke-width="0.8" />
<line x1="443.46" y1="113.7" x2="445.46" y2="113.7" stroke="#262626" stroke-width="0.8" />
<line x1="481.43" y1="113.7" x2="483.43" y2="113.7" stroke="#262626" stroke-width="0.8" />
<line x1="443.46" y1="134.1" x2="445.46" y2="134.1" stroke="#262626" stroke-width="0.8" />
<line x1="481.43" y1="134.1" x2="483.43" y2="134.1" stroke="#262626" stroke-width="0.8" />
<text x="446.06" y="51" font-size="9.8" text-anchor="start" fill="#262626" >4Hz</text>
<line x1="486.76" y1="144.5" x2="486.76" y2="142.5" stroke="#262626" stroke-width="0.8" />
<line x1="503.41" y1="144.5" x2="503.41" y2="142.5" stroke="#262626" stroke-width="0.8" />
<line x1="520.07" y1="144.5" x2="520.07" y2="142.5" stroke="#262626" stroke-width="0.8" />
<line x1="483.43" y1="52.5" x2="485.43" y2="52.5" stroke="#262626" stroke-width="0.8" />
<line x1="521.4" y1="52.5" x2="523.4" y2="52.5" stroke="#262626" stroke-width="0.8" />
<line x1="483.43" y1="72.9" x2="485.43" y2="72.9" stroke="#262626" stroke-width="0.8" />
<line x1="521.4" y1="72.9" x2="523.4" y2="72.9" stroke="#262626" stroke-width="0.8" />
<line x1="483.43" y1="93.3" x2="485.43" y2="93.3" stroke="#262626" stroke-width="0.8" />
<line x1="521.4" y1="93.3" x2="523.4" y2="93.3" stroke="#262626" stroke-width="0.8" />
<line x1="483.43" y1="113.7" x2="485.43" y2="113.7" stroke="#262626" stroke-width="0.8" />
<line x1="521.4" y1="113.7" x2="523.4" y2="113.7" stroke="#262626" stroke-width="0.8" />
<line x1="483.43" y1="134.1" x2="485.43" y2="134.1" stroke="#262626" stroke-width="0.8" />
<line x1="521.4" y1="134.1" x2="523.4" y2="134.1" stroke="#262626" stroke-width="0.8" />
<text x="486.03" y="51" font-size="9.8" text-anchor="start" fill="#262626" >3Hz</text>
<line x1="537.52" y1="144.5" x2="537.52" y2="142.5" stroke="#262626" stroke-width="0.8" />
<line x1="554.1" y1="144.5" x2="554.1" y2="142.5" stroke="#262626" stroke-width="0.8" />
<line x1="570.68" y1="144.5" x2="570.68" y2="142.5" stroke="#262626" stroke-width="0.8" />
<line x1="534.2" y1="52.5" x2="536.2" y2="52.5" stroke="#262626" stroke-width="0.8" />
<line x1="572" y1="52.5" x2="574" y2="52.5" stroke="#262626" stroke-width="0.8" />
<line x1="534.2" y1="72.9" x2="536.2" y2="72.9" stroke="#262626" stroke-width="0.8" />
<line x1="572" y1="72.9" x2="574" y2="72.9" stroke="#262626" stroke-width="0.8" />
<line x1="534.2" y1="93.3" x2="536.2" y2="93.3" stroke="#262626" stroke-width="0.8" />
<line x1="572" y1="93.3" x2="574" y2="93.3" stroke="#262626" stroke-width="0.8" />
<line x1="534.2" y1="113.7" x2="536.2" y2="113.7" stroke="#262626" stroke-width="0.8" />
<line x1="572" y1="113.7" x2="574" y2="113.7" stroke="#262626" stroke-width="0.8" />
<line x1="534.2" y1="134.1" x2="536.2" y2="134.1" stroke="#262626" stroke-width="0.8" />
<line x1="572" y1="134.1" x2="574" y2="134.1" stroke="#262626" stroke-width="0.8" />
<text x="536.8" y="51" font-size="9.8" text-anchor="start" fill="#262626" >2Hz</text>
<line x1="577.32" y1="144.5" x2="577.32" y2="142.5" stroke="#262626" stroke-width="0.8" />
<line x1="593.9" y1="144.5" x2="593.9" y2="142.5" stroke="#262626" stroke-width="0.8" />
<line x1="610.48" y1="144.5" x2="610.48" y2="142.5" stroke="#262626" stroke-width="0.8" />
<line x1="574" y1="52.5" x2="576" y2="52.5" stroke="#262626" stroke-width="0.8" />
<line x1="611.8" y1="52.5" x2="613.8" y2="52.5" stroke="#262626" stroke-width="0.8" />
<line x1="574" y1="72.9" x2="576" y2="72.9" stroke="#262626" stroke-width="0.8" />
<line x1="611.8" y1="72.9" x2="613.8" y2="72.9" stroke="#262626" stroke-width="0.8" />
<line x1="574" y1="93.3" x2="576" y2="93.3" stroke="#262626" stroke-width="0.8" />
<line x1="611.8" y1="93.3" x2="613.8" y2="93.3" stroke="#262626" stroke-width="0.8" />
<line x1="574" y1="113.7" x2="576" y2="113.7" stroke="#262626" stroke-width="0.8" />
<line x1="611.8" y1="113.7" x2="613.8" y2="113.7" stroke="#262626" stroke-width="0.8" />
<line x1="574" y1="134.1" x2="576" y2="134.1" stroke="#262626" stroke-width="0.8" />
<line x1="611.8" y1="134.1" x2="613.8" y2="134.1" stroke="#262626" stroke-width="0.8" />
<text x="576.6" y="51" font-size="9.8" text-anchor="start" fill="#262626" >1Hz</text>
<line x1="617.12" y1="144.5" x2="617.12" y2="142.5" stroke="#262626" stroke-width="0.8" />
<line x1="633.7" y1="144.5" x2="633.7" y2="142.5" stroke="#262626" stroke-width="0.8" />
<line x1="650.28" y1="144.5" x2="650.28" y2="142.5" stroke="#262626" stroke-width="0.8" />
<line x1="613.8" y1="52.5" x2="615.8" y2="52.5" stroke="#262626" stroke-width="0.8" />
<line x1="651.6" y1="52.5" x2="653.6" y2="52.5" stroke="#262626" stroke-width="0.8" />
<line x1="613.8" y1="72.9" x2="615.8" y2="72.9" stroke="#262626" stroke-width="0.8" />
<line x1="651.6" y1="72.9" x2="653.6" y2="72.9" stroke="#262626" stroke-width="0.8" />
<line x1="613.8" y1="93.3" x2="615.8" y2="93.3" stroke="#262626" stroke-width="0.8" />
<line x1="651.6" y1="93.3" x2="653.6" y2="93.3" stroke="#262626" stroke-width="0.8" />
<line x1="613.8" y1="113.7" x2="615.8" y2="113.7" stroke="#262626" stroke-width="0.8" />
<line x1="651.6" y1="113.7" x2="653.6" y2="113.7" stroke="#262626" stroke-width="0.8" />
<line x1="613.8" y1="134.1" x2="615.8" y2="134.1" stroke="#262626" stroke-width="0.8" />
<line x1="651.6" y1="134.1" x2="653.6" y2="134.1" stroke="#262626" stroke-width="0.8" />
<text x="616.4" y="51" font-size="9.8" text-anchor="start" fill="#262626" >0.4Hz</text>
<line x1="37" y1="42.5" x2="37" y2="144.5" stroke="#444" stroke-width="1.0" />
<line x1="76.87" y1="42.5" x2="76.87" y2="144.5" stroke="#444" stroke-width="1.0" />
<line x1="116.74" y1="42.5" x2="116.74" y2="144.5" stroke="#444" stroke-width="1.0" />
<line x1="156.61" y1="42.5" x2="156.61" y2="144.5" stroke="#444" stroke-width="1.0" />
<line x1="196.48" y1="42.5" x2="196.48" y2="144.5" stroke="#444" stroke-width="1.0" />
<line x1="236.35" y1="42.5" x2="236.35" y2="144.5" stroke="#262626" stroke-width="0.9" />
<line x1="37" y1="42.5" x2="236.35" y2="42.5" stroke="#262626" stroke-width="1" />
<line x1="37" y1="144.5" x2="236.35" y2="144.5" stroke="#262626" stroke-width="1" />
<line x1="243.6" y1="42.5" x2="243.6" y2="144.5" stroke="#444" stroke-width="1.0" />
<line x1="283.57" y1="42.5" x2="283.57" y2="144.5" stroke="#444" stroke-width="1.0" />
<line x1="323.54" y1="42.5" x2="323.54" y2="144.5" stroke="#444" stroke-width="1.0" />
<line x1="363.51" y1="42.5" x2="363.51" y2="144.5" stroke="#444" stroke-width="1.0" />
<line x1="403.49" y1="42.5" x2="403.49" y2="144.5" stroke="#444" stroke-width="1.0" />
<line x1="443.46" y1="42.5" x2="443.46" y2="144.5" stroke="#444" stroke-width="1.0" />
<line x1="483.43" y1="42.5" x2="483.43" y2="144.5" stroke="#444" stroke-width="1.0" />
<line x1="523.4" y1="42.5" x2="523.4" y2="144.5" stroke="#262626" stroke-width="0.9" />
<line x1="243.6" y1="42.5" x2="523.4" y2="42.5" stroke="#262626" stroke-width="1" />
<line x1="243.6" y1="144.5" x2="523.4" y2="144.5" stroke="#262626" stroke-width="1" />
<line x1="534.2" y1="42.5" x2="534.2" y2="144.5" stroke="#444" stroke-width="1.0" />
<line x1="574" y1="42.5" x2="574" y2="144.5" stroke="#444" stroke-width="1.0" />
<line x1="613.8" y1="42.5" x2="613.8" y2="144.5" stroke="#444" stroke-width="1.0" />
<line x1="653.6" y1="42.5" x2="653.6" y2="144.5" stroke="#262626" stroke-width="0.9" />
<line x1="534.2" y1="42.5" x2="653.6" y2="42.5" stroke="#262626" stroke-width="1" />
<line x1="534.2" y1="144.5" x2="653.6" y2="144.5" stroke="#262626" stroke-width="1" />
<line x1="37" y1="10" x2="37" y2="42.5" stroke="#555" stroke-width="1" />
<line x1="523.4" y1="10" x2="523.4" y2="42.5" stroke="#262626" stroke-width="0.9" />
<line x1="534.2" y1="10" x2="534.2" y2="42.5" stroke="#555" stroke-width="1" />
<line x1="653.6" y1="10" x2="653.6" y2="42.5" stroke="#262626" stroke-width="0.9" />
<line x1="236.35" y1="31.5" x2="236.35" y2="42.5" stroke="#262626" stroke-width="0.9" />
<line x1="243.6" y1="31.5" x2="243.6" y2="42.5" stroke="#555" stroke-width="1" />
<line x1="38" y1="17.7" x2="522.4" y2="17.7" stroke="#262626" stroke-width="0.9" stroke-dasharray="1.3 1.5"/>
<path d="M40.6,14.9 L37.6,17.7 L40.6,20.5" fill="none" stroke="#262626" stroke-width="0.9"/>
<path d="M519.8,14.9 L522.8,17.7 L519.8,20.5" fill="none" stroke="#262626" stroke-width="0.9"/>
<line x1="535.2" y1="17.7" x2="652.6" y2="17.7" stroke="#262626" stroke-width="0.9" stroke-dasharray="1.3 1.5"/>
<path d="M537.8,14.9 L534.8,17.7 L537.8,20.5" fill="none" stroke="#262626" stroke-width="0.9"/>
<path d="M650,14.9 L653,17.7 L650,20.5" fill="none" stroke="#262626" stroke-width="0.9"/>
<line x1="38" y1="35.2" x2="235.35" y2="35.2" stroke="#262626" stroke-width="0.9" stroke-dasharray="1.3 1.5"/>
<path d="M40.6,32.4 L37.6,35.2 L40.6,38" fill="none" stroke="#262626" stroke-width="0.9"/>
<path d="M232.75,32.4 L235.75,35.2 L232.75,38" fill="none" stroke="#262626" stroke-width="0.9"/>
<line x1="244.6" y1="35.2" x2="652.6" y2="35.2" stroke="#262626" stroke-width="0.9" stroke-dasharray="1.3 1.5"/>
<path d="M247.2,32.4 L244.2,35.2 L247.2,38" fill="none" stroke="#262626" stroke-width="0.9"/>
<path d="M650,32.4 L653,35.2 L650,38" fill="none" stroke="#262626" stroke-width="0.9"/>
<text transform="translate(240,14.5) scale(1,1.07)" font-size="9.6" text-anchor="middle" fill="#262626" >Tensile</text>
<text transform="translate(590.6,14.6) scale(1,1.07)" font-size="9.6" text-anchor="middle" fill="#262626" >Compressive</text>
<text transform="translate(140.1,32.1) scale(1,1.07)" font-size="9.6" text-anchor="middle" fill="#262626" >M&gt;0</text>
<text transform="translate(466.7,32) scale(1,1.07)" font-size="9.6" text-anchor="middle" fill="#262626" >M&lt;0</text>
<text transform="translate(33.9,57.2) scale(1,1.08)" font-size="9.5" text-anchor="end" fill="#4aa872" >0.1</text>
<text transform="translate(33.9,77.6) scale(1,1.08)" font-size="9.5" text-anchor="end" fill="#4aa872" >0.05</text>
<text transform="translate(33.9,98) scale(1,1.08)" font-size="9.5" text-anchor="end" fill="#4aa872" >0</text>
<text transform="translate(33.9,118.4) scale(1,1.08)" font-size="9.5" text-anchor="end" fill="#4aa872" >-0.05</text>
<text transform="translate(33.9,138.8) scale(1,1.08)" font-size="9.5" text-anchor="end" fill="#4aa872" >-0.1</text>
<text transform="translate(655.6,56.9) scale(1,1.08)" font-size="9.5" text-anchor="start" fill="#262626" >0.6</text>
<text transform="translate(655.6,77.3) scale(1,1.08)" font-size="9.5" text-anchor="start" fill="#262626" >0.3</text>
<text transform="translate(655.6,97.7) scale(1,1.08)" font-size="9.5" text-anchor="start" fill="#262626" >0</text>
<text transform="translate(655.6,118.1) scale(1,1.08)" font-size="9.5" text-anchor="start" fill="#262626" >-0.3</text>
<text transform="translate(655.6,138.5) scale(1,1.08)" font-size="9.5" text-anchor="start" fill="#262626" >-0.6</text>
<text transform="translate(40.32,155) scale(1,1.08)" font-size="9.6" text-anchor="middle" fill="#262626" >-5</text>
<text transform="translate(56.94,155) scale(1,1.08)" font-size="9.6" text-anchor="middle" fill="#262626" >0</text>
<text transform="translate(73.55,155) scale(1,1.08)" font-size="9.6" text-anchor="middle" fill="#262626" >5</text>
<text transform="translate(80.19,155) scale(1,1.08)" font-size="9.6" text-anchor="middle" fill="#262626" >-5</text>
<text transform="translate(96.81,155) scale(1,1.08)" font-size="9.6" text-anchor="middle" fill="#262626" >0</text>
<text transform="translate(113.42,155) scale(1,1.08)" font-size="9.6" text-anchor="middle" fill="#262626" >5</text>
<text transform="translate(120.06,155) scale(1,1.08)" font-size="9.6" text-anchor="middle" fill="#262626" >-5</text>
<text transform="translate(136.67,155) scale(1,1.08)" font-size="9.6" text-anchor="middle" fill="#262626" >0</text>
<text transform="translate(153.29,155) scale(1,1.08)" font-size="9.6" text-anchor="middle" fill="#262626" >5</text>
<text transform="translate(159.93,155) scale(1,1.08)" font-size="9.6" text-anchor="middle" fill="#262626" >-5</text>
<text transform="translate(176.54,155) scale(1,1.08)" font-size="9.6" text-anchor="middle" fill="#262626" >0</text>
<text transform="translate(193.16,155) scale(1,1.08)" font-size="9.6" text-anchor="middle" fill="#262626" >5</text>
<text transform="translate(199.8,155) scale(1,1.08)" font-size="9.6" text-anchor="middle" fill="#262626" >-5</text>
<text transform="translate(216.41,155) scale(1,1.08)" font-size="9.6" text-anchor="middle" fill="#262626" >0</text>
<text transform="translate(233.03,155) scale(1,1.08)" font-size="9.6" text-anchor="middle" fill="#262626" >5</text>
<text transform="translate(246.93,155) scale(1,1.08)" font-size="9.6" text-anchor="middle" fill="#262626" >-5</text>
<text transform="translate(263.59,155) scale(1,1.08)" font-size="9.6" text-anchor="middle" fill="#262626" >0</text>
<text transform="translate(280.24,155) scale(1,1.08)" font-size="9.6" text-anchor="middle" fill="#262626" >5</text>
<text transform="translate(286.9,155) scale(1,1.08)" font-size="9.6" text-anchor="middle" fill="#262626" >-5</text>
<text transform="translate(303.56,155) scale(1,1.08)" font-size="9.6" text-anchor="middle" fill="#262626" >0</text>
<text transform="translate(320.21,155) scale(1,1.08)" font-size="9.6" text-anchor="middle" fill="#262626" >5</text>
<text transform="translate(326.87,155) scale(1,1.08)" font-size="9.6" text-anchor="middle" fill="#262626" >-5</text>
<text transform="translate(343.53,155) scale(1,1.08)" font-size="9.6" text-anchor="middle" fill="#262626" >0</text>
<text transform="translate(360.18,155) scale(1,1.08)" font-size="9.6" text-anchor="middle" fill="#262626" >5</text>
<text transform="translate(366.85,155) scale(1,1.08)" font-size="9.6" text-anchor="middle" fill="#262626" >-5</text>
<text transform="translate(383.5,155) scale(1,1.08)" font-size="9.6" text-anchor="middle" fill="#262626" >0</text>
<text transform="translate(400.15,155) scale(1,1.08)" font-size="9.6" text-anchor="middle" fill="#262626" >5</text>
<text transform="translate(406.82,155) scale(1,1.08)" font-size="9.6" text-anchor="middle" fill="#262626" >-5</text>
<text transform="translate(423.47,155) scale(1,1.08)" font-size="9.6" text-anchor="middle" fill="#262626" >0</text>
<text transform="translate(440.13,155) scale(1,1.08)" font-size="9.6" text-anchor="middle" fill="#262626" >5</text>
<text transform="translate(446.79,155) scale(1,1.08)" font-size="9.6" text-anchor="middle" fill="#262626" >-5</text>
<text transform="translate(463.44,155) scale(1,1.08)" font-size="9.6" text-anchor="middle" fill="#262626" >0</text>
<text transform="translate(480.1,155) scale(1,1.08)" font-size="9.6" text-anchor="middle" fill="#262626" >5</text>
<text transform="translate(486.76,155) scale(1,1.08)" font-size="9.6" text-anchor="middle" fill="#262626" >-5</text>
<text transform="translate(503.41,155) scale(1,1.08)" font-size="9.6" text-anchor="middle" fill="#262626" >0</text>
<text transform="translate(520.07,155) scale(1,1.08)" font-size="9.6" text-anchor="middle" fill="#262626" >5</text>
<text transform="translate(537.52,155) scale(1,1.08)" font-size="9.6" text-anchor="middle" fill="#262626" >-5</text>
<text transform="translate(554.1,155) scale(1,1.08)" font-size="9.6" text-anchor="middle" fill="#262626" >0</text>
<text transform="translate(570.68,155) scale(1,1.08)" font-size="9.6" text-anchor="middle" fill="#262626" >5</text>
<text transform="translate(577.32,155) scale(1,1.08)" font-size="9.6" text-anchor="middle" fill="#262626" >-5</text>
<text transform="translate(593.9,155) scale(1,1.08)" font-size="9.6" text-anchor="middle" fill="#262626" >0</text>
<text transform="translate(610.48,155) scale(1,1.08)" font-size="9.6" text-anchor="middle" fill="#262626" >5</text>
<text transform="translate(617.12,155) scale(1,1.08)" font-size="9.6" text-anchor="middle" fill="#262626" >-5</text>
<text transform="translate(633.7,155) scale(1,1.08)" font-size="9.6" text-anchor="middle" fill="#262626" >0</text>
<text transform="translate(650.28,155) scale(1,1.08)" font-size="9.6" text-anchor="middle" fill="#262626" >5</text>
<text x="356.9" y="169" font-size="9.7" text-anchor="middle" fill="#262626" >Electric field (kV/mm)</text>
<text transform="translate(8.5,93.5) rotate(-90) scale(1,1.0)" font-size="9.7" text-anchor="middle" fill="#262626" stroke="#262626">Polarization(μC/cm<tspan dy="-3.4" font-size="6.5">2</tspan><tspan dy="3.4">)</tspan></text>
<text transform="translate(677.5,63) rotate(90) scale(1,1.0)" font-size="9.5" text-anchor="start" fill="#262626" stroke="#262626">Strain (×10<tspan dy="-3.4" font-size="6.5">-4</tspan><tspan dy="3.4">)</tspan></text>
<line x1="40.3" y1="130.7" x2="48" y2="130.7" stroke="#38a063" stroke-width="1.2" stroke-dasharray="1.5 1.1"/>
<rect x="72" y="128.3" width="10" height="5.3" fill="#fff"/>
<text x="49.4" y="132.6" font-size="7" text-anchor="start" fill="#262626" >Polarization</text>
<circle cx="44.3" cy="138.4" r="1.9" fill="none" stroke="#6a3d9a" stroke-width="1"/>
<text x="49.4" y="141" font-size="7" text-anchor="start" fill="#262626" >Strain</text>
<text x="-0.3" y="4.9" font-size="9.6" text-anchor="start" fill="#262626" >a</text>
<defs><clipPath id="pb1"><rect x="39.5" y="207.5" width="258" height="51"/></clipPath><clipPath id="pb2"><rect x="39.5" y="258.5" width="258" height="51"/></clipPath></defs>
<line x1="39.5" y1="232.7" x2="297.5" y2="232.7" stroke="#222" stroke-width="0.85" stroke-dasharray="1.3 1.6"/>
<line x1="39.5" y1="284.4" x2="297.5" y2="284.4" stroke="#222" stroke-width="0.85" stroke-dasharray="1.3 1.6"/>
<line x1="56" y1="207.5" x2="56" y2="309.5" stroke="#222" stroke-width="0.8" stroke-dasharray="1.3 1.5"/>
<g clip-path="url(#pb1)">
<path d="M39.5,232.7 39.93,231.81 40.36,230.92 40.79,230.04 41.22,229.16 41.65,228.28 42.08,227.42 42.51,226.56 42.94,225.71 43.37,224.88 43.8,224.06 44.23,223.25 44.66,222.46 45.09,221.69 45.52,220.94 45.95,220.21 46.38,219.5 46.81,218.81 47.24,218.15 47.67,217.52 48.1,216.91 48.53,216.33 48.96,215.77 49.39,215.25 49.82,214.76 50.25,214.3 50.68,213.87 51.11,213.47 51.54,213.11 51.97,212.78 52.4,212.49 52.83,212.23 53.26,212.01 53.69,211.83 54.12,211.68 54.55,211.57 54.98,211.49 55.41,211.45 55.84,211.45 56.27,211.49 56.7,211.57 57.13,211.68 57.56,211.83 57.99,212.01 58.42,212.23 58.85,212.49 59.28,212.78 59.71,213.11 60.14,213.47 60.57,213.87 61,214.3 61.43,214.76 61.86,215.25 62.29,215.77 62.72,216.33 63.15,216.91 63.58,217.52 64.01,218.15 64.44,218.81 64.87,219.5 65.3,220.21 65.73,220.94 66.16,221.69 66.59,222.46 67.02,223.25 67.45,224.06 67.88,224.88 68.31,225.71 68.74,226.56 69.17,227.42 69.6,228.28 70.03,229.16 70.46,230.04 70.89,230.92 71.32,231.81 71.75,232.7 72.18,233.59 72.61,234.48 73.04,235.36 73.47,236.24 73.9,237.12 74.33,237.98 74.76,238.84 75.19,239.69 75.62,240.52 76.05,241.34 76.48,242.15 76.91,242.94 77.34,243.71 77.77,244.46 78.2,245.19 78.63,245.9 79.06,246.59 79.49,247.25 79.92,247.88 80.35,248.49 80.78,249.07 81.21,249.63 81.64,250.15 82.07,250.64 82.5,251.1 82.93,251.53 83.36,251.93 83.79,252.29 84.22,252.62 84.65,252.91 85.08,253.17 85.51,253.39 85.94,253.57 86.37,253.72 86.8,253.83 87.23,253.91 87.66,253.95 88.09,253.95 88.52,253.91 88.95,253.83 89.38,253.72 89.81,253.57 90.24,253.39 90.67,253.17 91.1,252.91 91.53,252.62 91.96,252.29 92.39,251.93 92.82,251.53 93.25,251.1 93.68,250.64 94.11,250.15 94.54,249.63 94.97,249.07 95.4,248.49 95.83,247.88 96.26,247.25 96.69,246.59 97.12,245.9 97.55,245.19 97.98,244.46 98.41,243.71 98.84,242.94 99.27,242.15 99.7,241.34 100.13,240.52 100.56,239.69 100.99,238.84 101.42,237.98 101.85,237.12 102.28,236.24 102.71,235.36 103.14,234.48 103.57,233.59 104,232.7 104.43,231.81 104.86,230.92 105.29,230.04 105.72,229.16 106.15,228.28 106.58,227.42 107.01,226.56 107.44,225.71 107.87,224.88 108.3,224.06 108.73,223.25 109.16,222.46 109.59,221.69 110.02,220.94 110.45,220.21 110.88,219.5 111.31,218.81 111.74,218.15 112.17,217.52 112.6,216.91 113.03,216.33 113.46,215.77 113.89,215.25 114.32,214.76 114.75,214.3 115.18,213.87 115.61,213.47 116.04,213.11 116.47,212.78 116.9,212.49 117.33,212.23 117.76,212.01 118.19,211.83 118.62,211.68 119.05,211.57 119.48,211.49 119.91,211.45 120.34,211.45 120.77,211.49 121.2,211.57 121.63,211.68 122.06,211.83 122.49,212.01 122.92,212.23 123.35,212.49 123.78,212.78 124.21,213.11 124.64,213.47 125.07,213.87 125.5,214.3 125.93,214.76 126.36,215.25 126.79,215.77 127.22,216.33 127.65,216.91 128.08,217.52 128.51,218.15 128.94,218.81 129.37,219.5 129.8,220.21 130.23,220.94 130.66,221.69 131.09,222.46 131.52,223.25 131.95,224.06 132.38,224.88 132.81,225.71 133.24,226.56 133.67,227.42 134.1,228.28 134.53,229.16 134.96,230.04 135.39,230.92 135.82,231.81 136.25,232.7 136.68,233.59 137.11,234.48 137.54,235.36 137.97,236.24 138.4,237.12 138.83,237.98 139.26,238.84 139.69,239.69 140.12,240.52 140.55,241.34 140.98,242.15 141.41,242.94 141.84,243.71 142.27,244.46 142.7,245.19 143.13,245.9 143.56,246.59 143.99,247.25 144.42,247.88 144.85,248.49 145.28,249.07 145.71,249.63 146.14,250.15 146.57,250.64 147,251.1 147.43,251.53 147.86,251.93 148.29,252.29 148.72,252.62 149.15,252.91 149.58,253.17 150.01,253.39 150.44,253.57 150.87,253.72 151.3,253.83 151.73,253.91 152.16,253.95 152.59,253.95 153.02,253.91 153.45,253.83 153.88,253.72 154.31,253.57 154.74,253.39 155.17,253.17 155.6,252.91 156.03,252.62 156.46,252.29 156.89,251.93 157.32,251.53 157.75,251.1 158.18,250.64 158.61,250.15 159.04,249.63 159.47,249.07 159.9,248.49 160.33,247.88 160.76,247.25 161.19,246.59 161.62,245.9 162.05,245.19 162.48,244.46 162.91,243.71 163.34,242.94 163.77,242.15 164.2,241.34 164.63,240.52 165.06,239.69 165.49,238.84 165.92,237.98 166.35,237.12 166.78,236.24 167.21,235.36 167.64,234.48 168.07,233.59 168.5,232.7 168.93,231.81 169.36,230.92 169.79,230.04 170.22,229.16 170.65,228.28 171.08,227.42 171.51,226.56 171.94,225.71 172.37,224.88 172.8,224.06 173.23,223.25 173.66,222.46 174.09,221.69 174.52,220.94 174.95,220.21 175.38,219.5 175.81,218.81 176.24,218.15 176.67,217.52 177.1,216.91 177.53,216.33 177.96,215.77 178.39,215.25 178.82,214.76 179.25,214.3 179.68,213.87 180.11,213.47 180.54,213.11 180.97,212.78 181.4,212.49 181.83,212.23 182.26,212.01 182.69,211.83 183.12,211.68 183.55,211.57 183.98,211.49 184.41,211.45 184.84,211.45 185.27,211.49 185.7,211.57 186.13,211.68 186.56,211.83 186.99,212.01 187.42,212.23 187.85,212.49 188.28,212.78 188.71,213.11 189.14,213.47 189.57,213.87 190,214.3 190.43,214.76 190.86,215.25 191.29,215.77 191.72,216.33 192.15,216.91 192.58,217.52 193.01,218.15 193.44,218.81 193.87,219.5 194.3,220.21 194.73,220.94 195.16,221.69 195.59,222.46 196.02,223.25 196.45,224.06 196.88,224.88 197.31,225.71 197.74,226.56 198.17,227.42 198.6,228.28 199.03,229.16 199.46,230.04 199.89,230.92 200.32,231.81 200.75,232.7 201.18,233.59 201.61,234.48 202.04,235.36 202.47,236.24 202.9,237.12 203.33,237.98 203.76,238.84 204.19,239.69 204.62,240.52 205.05,241.34 205.48,242.15 205.91,242.94 206.34,243.71 206.77,244.46 207.2,245.19 207.63,245.9 208.06,246.59 208.49,247.25 208.92,247.88 209.35,248.49 209.78,249.07 210.21,249.63 210.64,250.15 211.07,250.64 211.5,251.1 211.93,251.53 212.36,251.93 212.79,252.29 213.22,252.62 213.65,252.91 214.08,253.17 214.51,253.39 214.94,253.57 215.37,253.72 215.8,253.83 216.23,253.91 216.66,253.95 217.09,253.95 217.52,253.91 217.95,253.83 218.38,253.72 218.81,253.57 219.24,253.39 219.67,253.17 220.1,252.91 220.53,252.62 220.96,252.29 221.39,251.93 221.82,251.53 222.25,251.1 222.68,250.64 223.11,250.15 223.54,249.63 223.97,249.07 224.4,248.49 224.83,247.88 225.26,247.25 225.69,246.59 226.12,245.9 226.55,245.19 226.98,244.46 227.41,243.71 227.84,242.94 228.27,242.15 228.7,241.34 229.13,240.52 229.56,239.69 229.99,238.84 230.42,237.98 230.85,237.12 231.28,236.24 231.71,235.36 232.14,234.48 232.57,233.59 233,232.7 233.43,231.81 233.86,230.92 234.29,230.04 234.72,229.16 235.15,228.28 235.58,227.42 236.01,226.56 236.44,225.71 236.87,224.88 237.3,224.06 237.73,223.25 238.16,222.46 238.59,221.69 239.02,220.94 239.45,220.21 239.88,219.5 240.31,218.81 240.74,218.15 241.17,217.52 241.6,216.91 242.03,216.33 242.46,215.77 242.89,215.25 243.32,214.76 243.75,214.3 244.18,213.87 244.61,213.47 245.04,213.11 245.47,212.78 245.9,212.49 246.33,212.23 246.76,212.01 247.19,211.83 247.62,211.68 248.05,211.57 248.48,211.49 248.91,211.45 249.34,211.45 249.77,211.49 250.2,211.57 250.63,211.68 251.06,211.83 251.49,212.01 251.92,212.23 252.35,212.49 252.78,212.78 253.21,213.11 253.64,213.47 254.07,213.87 254.5,214.3 254.93,214.76 255.36,215.25 255.79,215.77 256.22,216.33 256.65,216.91 257.08,217.52 257.51,218.15 257.94,218.81 258.37,219.5 258.8,220.21 259.23,220.94 259.66,221.69 260.09,222.46 260.52,223.25 260.95,224.06 261.38,224.88 261.81,225.71 262.24,226.56 262.67,227.42 263.1,228.28 263.53,229.16 263.96,230.04 264.39,230.92 264.82,231.81 265.25,232.7 265.68,233.59 266.11,234.48 266.54,235.36 266.97,236.24 267.4,237.12 267.83,237.98 268.26,238.84 268.69,239.69 269.12,240.52 269.55,241.34 269.98,242.15 270.41,242.94 270.84,243.71 271.27,244.46 271.7,245.19 272.13,245.9 272.56,246.59 272.99,247.25 273.42,247.88 273.85,248.49 274.28,249.07 274.71,249.63 275.14,250.15 275.57,250.64 276,251.1 276.43,251.53 276.86,251.93 277.29,252.29 277.72,252.62 278.15,252.91 278.58,253.17 279.01,253.39 279.44,253.57 279.87,253.72 280.3,253.83 280.73,253.91 281.16,253.95 281.59,253.95 282.02,253.91 282.45,253.83 282.88,253.72 283.31,253.57 283.74,253.39 284.17,253.17 284.6,252.91 285.03,252.62 285.46,252.29 285.89,251.93 286.32,251.53 286.75,251.1 287.18,250.64 287.61,250.15 288.04,249.63 288.47,249.07 288.9,248.49 289.33,247.88 289.76,247.25 290.19,246.59 290.62,245.9 291.05,245.19 291.48,244.46 291.91,243.71 292.34,242.94 292.77,242.15 293.2,241.34 293.63,240.52 294.06,239.69 294.49,238.84 294.92,237.98 295.35,237.12 295.78,236.24 296.21,235.36 296.64,234.48 297.07,233.59 297.5,232.7" fill="none" stroke="#b8b8b8" stroke-width="3.8" stroke-linejoin="round"/>
<path d="M39.5,232.7 39.93,231.81 40.36,230.92 40.79,230.04 41.22,229.16 41.65,228.28 42.08,227.42 42.51,226.56 42.94,225.71 43.37,224.88 43.8,224.06 44.23,223.25 44.66,222.46 45.09,221.69 45.52,220.94 45.95,220.21 46.38,219.5 46.81,218.81 47.24,218.15 47.67,217.52 48.1,216.91 48.53,216.33 48.96,215.77 49.39,215.25 49.82,214.76 50.25,214.3 50.68,213.87 51.11,213.47 51.54,213.11 51.97,212.78 52.4,212.49 52.83,212.23 53.26,212.01 53.69,211.83 54.12,211.68 54.55,211.57 54.98,211.49 55.41,211.45 55.84,211.45 56.27,211.49 56.7,211.57 57.13,211.68 57.56,211.83 57.99,212.01 58.42,212.23 58.85,212.49 59.28,212.78 59.71,213.11 60.14,213.47 60.57,213.87 61,214.3 61.43,214.76 61.86,215.25 62.29,215.77 62.72,216.33 63.15,216.91 63.58,217.52 64.01,218.15 64.44,218.81 64.87,219.5 65.3,220.21 65.73,220.94 66.16,221.69 66.59,222.46 67.02,223.25 67.45,224.06 67.88,224.88 68.31,225.71 68.74,226.56 69.17,227.42 69.6,228.28 70.03,229.16 70.46,230.04 70.89,230.92 71.32,231.81 71.75,232.7 72.18,233.59 72.61,234.48 73.04,235.36 73.47,236.24 73.9,237.12 74.33,237.98 74.76,238.84 75.19,239.69 75.62,240.52 76.05,241.34 76.48,242.15 76.91,242.94 77.34,243.71 77.77,244.46 78.2,245.19 78.63,245.9 79.06,246.59 79.49,247.25 79.92,247.88 80.35,248.49 80.78,249.07 81.21,249.63 81.64,250.15 82.07,250.64 82.5,251.1 82.93,251.53 83.36,251.93 83.79,252.29 84.22,252.62 84.65,252.91 85.08,253.17 85.51,253.39 85.94,253.57 86.37,253.72 86.8,253.83 87.23,253.91 87.66,253.95 88.09,253.95 88.52,253.91 88.95,253.83 89.38,253.72 89.81,253.57 90.24,253.39 90.67,253.17 91.1,252.91 91.53,252.62 91.96,252.29 92.39,251.93 92.82,251.53 93.25,251.1 93.68,250.64 94.11,250.15 94.54,249.63 94.97,249.07 95.4,248.49 95.83,247.88 96.26,247.25 96.69,246.59 97.12,245.9 97.55,245.19 97.98,244.46 98.41,243.71 98.84,242.94 99.27,242.15 99.7,241.34 100.13,240.52 100.56,239.69 100.99,238.84 101.42,237.98 101.85,237.12 102.28,236.24 102.71,235.36 103.14,234.48 103.57,233.59 104,232.7 104.43,231.81 104.86,230.92 105.29,230.04 105.72,229.16 106.15,228.28 106.58,227.42 107.01,226.56 107.44,225.71 107.87,224.88 108.3,224.06 108.73,223.25 109.16,222.46 109.59,221.69 110.02,220.94 110.45,220.21 110.88,219.5 111.31,218.81 111.74,218.15 112.17,217.52 112.6,216.91 113.03,216.33 113.46,215.77 113.89,215.25 114.32,214.76 114.75,214.3 115.18,213.87 115.61,213.47 116.04,213.11 116.47,212.78 116.9,212.49 117.33,212.23 117.76,212.01 118.19,211.83 118.62,211.68 119.05,211.57 119.48,211.49 119.91,211.45 120.34,211.45 120.77,211.49 121.2,211.57 121.63,211.68 122.06,211.83 122.49,212.01 122.92,212.23 123.35,212.49 123.78,212.78 124.21,213.11 124.64,213.47 125.07,213.87 125.5,214.3 125.93,214.76 126.36,215.25 126.79,215.77 127.22,216.33 127.65,216.91 128.08,217.52 128.51,218.15 128.94,218.81 129.37,219.5 129.8,220.21 130.23,220.94 130.66,221.69 131.09,222.46 131.52,223.25 131.95,224.06 132.38,224.88 132.81,225.71 133.24,226.56 133.67,227.42 134.1,228.28 134.53,229.16 134.96,230.04 135.39,230.92 135.82,231.81 136.25,232.7 136.68,233.59 137.11,234.48 137.54,235.36 137.97,236.24 138.4,237.12 138.83,237.98 139.26,238.84 139.69,239.69 140.12,240.52 140.55,241.34 140.98,242.15 141.41,242.94 141.84,243.71 142.27,244.46 142.7,245.19 143.13,245.9 143.56,246.59 143.99,247.25 144.42,247.88 144.85,248.49 145.28,249.07 145.71,249.63 146.14,250.15 146.57,250.64 147,251.1 147.43,251.53 147.86,251.93 148.29,252.29 148.72,252.62 149.15,252.91 149.58,253.17 150.01,253.39 150.44,253.57 150.87,253.72 151.3,253.83 151.73,253.91 152.16,253.95 152.59,253.95 153.02,253.91 153.45,253.83 153.88,253.72 154.31,253.57 154.74,253.39 155.17,253.17 155.6,252.91 156.03,252.62 156.46,252.29 156.89,251.93 157.32,251.53 157.75,251.1 158.18,250.64 158.61,250.15 159.04,249.63 159.47,249.07 159.9,248.49 160.33,247.88 160.76,247.25 161.19,246.59 161.62,245.9 162.05,245.19 162.48,244.46 162.91,243.71 163.34,242.94 163.77,242.15 164.2,241.34 164.63,240.52 165.06,239.69 165.49,238.84 165.92,237.98 166.35,237.12 166.78,236.24 167.21,235.36 167.64,234.48 168.07,233.59 168.5,232.7 168.93,231.81 169.36,230.92 169.79,230.04 170.22,229.16 170.65,228.28 171.08,227.42 171.51,226.56 171.94,225.71 172.37,224.88 172.8,224.06 173.23,223.25 173.66,222.46 174.09,221.69 174.52,220.94 174.95,220.21 175.38,219.5 175.81,218.81 176.24,218.15 176.67,217.52 177.1,216.91 177.53,216.33 177.96,215.77 178.39,215.25 178.82,214.76 179.25,214.3 179.68,213.87 180.11,213.47 180.54,213.11 180.97,212.78 181.4,212.49 181.83,212.23 182.26,212.01 182.69,211.83 183.12,211.68 183.55,211.57 183.98,211.49 184.41,211.45 184.84,211.45 185.27,211.49 185.7,211.57 186.13,211.68 186.56,211.83 186.99,212.01 187.42,212.23 187.85,212.49 188.28,212.78 188.71,213.11 189.14,213.47 189.57,213.87 190,214.3 190.43,214.76 190.86,215.25 191.29,215.77 191.72,216.33 192.15,216.91 192.58,217.52 193.01,218.15 193.44,218.81 193.87,219.5 194.3,220.21 194.73,220.94 195.16,221.69 195.59,222.46 196.02,223.25 196.45,224.06 196.88,224.88 197.31,225.71 197.74,226.56 198.17,227.42 198.6,228.28 199.03,229.16 199.46,230.04 199.89,230.92 200.32,231.81 200.75,232.7 201.18,233.59 201.61,234.48 202.04,235.36 202.47,236.24 202.9,237.12 203.33,237.98 203.76,238.84 204.19,239.69 204.62,240.52 205.05,241.34 205.48,242.15 205.91,242.94 206.34,243.71 206.77,244.46 207.2,245.19 207.63,245.9 208.06,246.59 208.49,247.25 208.92,247.88 209.35,248.49 209.78,249.07 210.21,249.63 210.64,250.15 211.07,250.64 211.5,251.1 211.93,251.53 212.36,251.93 212.79,252.29 213.22,252.62 213.65,252.91 214.08,253.17 214.51,253.39 214.94,253.57 215.37,253.72 215.8,253.83 216.23,253.91 216.66,253.95 217.09,253.95 217.52,253.91 217.95,253.83 218.38,253.72 218.81,253.57 219.24,253.39 219.67,253.17 220.1,252.91 220.53,252.62 220.96,252.29 221.39,251.93 221.82,251.53 222.25,251.1 222.68,250.64 223.11,250.15 223.54,249.63 223.97,249.07 224.4,248.49 224.83,247.88 225.26,247.25 225.69,246.59 226.12,245.9 226.55,245.19 226.98,244.46 227.41,243.71 227.84,242.94 228.27,242.15 228.7,241.34 229.13,240.52 229.56,239.69 229.99,238.84 230.42,237.98 230.85,237.12 231.28,236.24 231.71,235.36 232.14,234.48 232.57,233.59 233,232.7 233.43,231.81 233.86,230.92 234.29,230.04 234.72,229.16 235.15,228.28 235.58,227.42 236.01,226.56 236.44,225.71 236.87,224.88 237.3,224.06 237.73,223.25 238.16,222.46 238.59,221.69 239.02,220.94 239.45,220.21 239.88,219.5 240.31,218.81 240.74,218.15 241.17,217.52 241.6,216.91 242.03,216.33 242.46,215.77 242.89,215.25 243.32,214.76 243.75,214.3 244.18,213.87 244.61,213.47 245.04,213.11 245.47,212.78 245.9,212.49 246.33,212.23 246.76,212.01 247.19,211.83 247.62,211.68 248.05,211.57 248.48,211.49 248.91,211.45 249.34,211.45 249.77,211.49 250.2,211.57 250.63,211.68 251.06,211.83 251.49,212.01 251.92,212.23 252.35,212.49 252.78,212.78 253.21,213.11 253.64,213.47 254.07,213.87 254.5,214.3 254.93,214.76 255.36,215.25 255.79,215.77 256.22,216.33 256.65,216.91 257.08,217.52 257.51,218.15 257.94,218.81 258.37,219.5 258.8,220.21 259.23,220.94 259.66,221.69 260.09,222.46 260.52,223.25 260.95,224.06 261.38,224.88 261.81,225.71 262.24,226.56 262.67,227.42 263.1,228.28 263.53,229.16 263.96,230.04 264.39,230.92 264.82,231.81 265.25,232.7 265.68,233.59 266.11,234.48 266.54,235.36 266.97,236.24 267.4,237.12 267.83,237.98 268.26,238.84 268.69,239.69 269.12,240.52 269.55,241.34 269.98,242.15 270.41,242.94 270.84,243.71 271.27,244.46 271.7,245.19 272.13,245.9 272.56,246.59 272.99,247.25 273.42,247.88 273.85,248.49 274.28,249.07 274.71,249.63 275.14,250.15 275.57,250.64 276,251.1 276.43,251.53 276.86,251.93 277.29,252.29 277.72,252.62 278.15,252.91 278.58,253.17 279.01,253.39 279.44,253.57 279.87,253.72 280.3,253.83 280.73,253.91 281.16,253.95 281.59,253.95 282.02,253.91 282.45,253.83 282.88,253.72 283.31,253.57 283.74,253.39 284.17,253.17 284.6,252.91 285.03,252.62 285.46,252.29 285.89,251.93 286.32,251.53 286.75,251.1 287.18,250.64 287.61,250.15 288.04,249.63 288.47,249.07 288.9,248.49 289.33,247.88 289.76,247.25 290.19,246.59 290.62,245.9 291.05,245.19 291.48,244.46 291.91,243.71 292.34,242.94 292.77,242.15 293.2,241.34 293.63,240.52 294.06,239.69 294.49,238.84 294.92,237.98 295.35,237.12 295.78,236.24 296.21,235.36 296.64,234.48 297.07,233.59 297.5,232.7" fill="none" stroke="#2a2a2a" stroke-width="1.3" stroke-linejoin="round"/>
</g>
<g clip-path="url(#pb2)">
<path d="M39.5,283.42 39.93,283.42 40.36,283.34 40.79,283.2 41.22,282.99 41.65,282.72 42.08,282.38 42.51,281.98 42.94,281.53 43.37,281.02 43.8,280.46 44.23,279.86 44.66,279.21 45.09,278.53 45.52,277.82 45.95,277.08 46.38,276.32 46.81,275.54 47.24,274.76 47.67,273.97 48.1,273.18 48.53,272.4 48.96,271.64 49.39,270.89 49.82,270.17 50.25,269.47 50.68,268.81 51.11,268.19 51.54,267.62 51.97,267.09 52.4,266.61 52.83,266.19 53.26,265.83 53.69,265.53 54.12,265.29 54.55,265.11 54.98,265 55.41,264.96 55.84,264.99 56.27,265.08 56.7,265.23 57.13,265.46 57.56,265.74 57.99,266.09 58.42,266.5 58.85,266.96 59.28,267.48 59.71,268.04 60.14,268.65 60.57,269.3 61,269.99 61.43,270.7 61.86,271.44 62.29,272.21 62.72,272.98 63.15,273.77 63.58,274.56 64.01,275.35 64.44,276.13 64.87,276.9 65.3,277.64 65.73,278.36 66.16,279.06 66.59,279.71 67.02,280.33 67.45,280.9 67.88,281.43 68.31,281.9 68.74,282.31 69.17,282.67 69.6,282.96 70.03,283.19 70.46,283.35 70.89,283.44 71.32,283.47 71.75,283.42 72.18,283.31 72.61,283.13 73.04,282.88 73.47,282.56 73.9,282.18 74.33,281.74 74.76,281.23 75.19,280.68 75.62,280.07 76.05,279.41 76.48,278.71 76.91,277.96 77.34,277.19 77.77,276.38 78.2,275.55 78.63,274.71 79.06,273.85 79.49,272.98 79.92,272.12 80.35,271.26 80.78,270.41 81.21,269.57 81.64,268.76 82.07,267.98 82.5,267.23 82.93,266.52 83.36,265.85 83.79,265.23 84.22,264.66 84.65,264.15 85.08,263.7 85.51,263.31 85.94,262.98 86.37,262.72 86.8,262.53 87.23,262.42 87.66,262.37 88.09,262.39 88.52,262.49 88.95,262.66 89.38,262.89 89.81,263.2 90.24,263.57 90.67,264 91.1,264.5 91.53,265.05 91.96,265.65 92.39,266.31 92.82,267 93.25,267.74 93.68,268.51 94.11,269.32 94.54,270.14 94.97,270.99 95.4,271.85 95.83,272.71 96.26,273.57 96.69,274.44 97.12,275.29 97.55,276.12 97.98,276.93 98.41,277.71 98.84,278.46 99.27,279.18 99.7,279.85 100.13,280.47 100.56,281.04 100.99,281.56 101.42,282.02 101.85,282.42 102.28,282.76 102.71,283.02 103.14,283.23 103.57,283.36 104,283.42 104.43,283.42 104.86,283.34 105.29,283.2 105.72,282.99 106.15,282.72 106.58,282.38 107.01,281.98 107.44,281.53 107.87,281.02 108.3,280.46 108.73,279.86 109.16,279.21 109.59,278.53 110.02,277.82 110.45,277.08 110.88,276.32 111.31,275.54 111.74,274.76 112.17,273.97 112.6,273.18 113.03,272.4 113.46,271.64 113.89,270.89 114.32,270.17 114.75,269.47 115.18,268.81 115.61,268.19 116.04,267.62 116.47,267.09 116.9,266.61 117.33,266.19 117.76,265.83 118.19,265.53 118.62,265.29 119.05,265.11 119.48,265 119.91,264.96 120.34,264.99 120.77,265.08 121.2,265.23 121.63,265.46 122.06,265.74 122.49,266.09 122.92,266.5 123.35,266.96 123.78,267.48 124.21,268.04 124.64,268.65 125.07,269.3 125.5,269.99 125.93,270.7 126.36,271.44 126.79,272.21 127.22,272.98 127.65,273.77 128.08,274.56 128.51,275.35 128.94,276.13 129.37,276.9 129.8,277.64 130.23,278.36 130.66,279.06 131.09,279.71 131.52,280.33 131.95,280.9 132.38,281.43 132.81,281.9 133.24,282.31 133.67,282.67 134.1,282.96 134.53,283.19 134.96,283.35 135.39,283.44 135.82,283.47 136.25,283.42 136.68,283.31 137.11,283.13 137.54,282.88 137.97,282.56 138.4,282.18 138.83,281.74 139.26,281.23 139.69,280.68 140.12,280.07 140.55,279.41 140.98,278.71 141.41,277.96 141.84,277.19 142.27,276.38 142.7,275.55 143.13,274.71 143.56,273.85 143.99,272.98 144.42,272.12 144.85,271.26 145.28,270.41 145.71,269.57 146.14,268.76 146.57,267.98 147,267.23 147.43,266.52 147.86,265.85 148.29,265.23 148.72,264.66 149.15,264.15 149.58,263.7 150.01,263.31 150.44,262.98 150.87,262.72 151.3,262.53 151.73,262.42 152.16,262.37 152.59,262.39 153.02,262.49 153.45,262.66 153.88,262.89 154.31,263.2 154.74,263.57 155.17,264 155.6,264.5 156.03,265.05 156.46,265.65 156.89,266.31 157.32,267 157.75,267.74 158.18,268.51 158.61,269.32 159.04,270.14 159.47,270.99 159.9,271.85 160.33,272.71 160.76,273.57 161.19,274.44 161.62,275.29 162.05,276.12 162.48,276.93 162.91,277.71 163.34,278.46 163.77,279.18 164.2,279.85 164.63,280.47 165.06,281.04 165.49,281.56 165.92,282.02 166.35,282.42 166.78,282.76 167.21,283.02 167.64,283.23 168.07,283.36 168.5,283.42 168.93,283.42 169.36,283.34 169.79,283.2 170.22,282.99 170.65,282.72 171.08,282.38 171.51,281.98 171.94,281.53 172.37,281.02 172.8,280.46 173.23,279.86 173.66,279.21 174.09,278.53 174.52,277.82 174.95,277.08 175.38,276.32 175.81,275.54 176.24,274.76 176.67,273.97 177.1,273.18 177.53,272.4 177.96,271.64 178.39,270.89 178.82,270.17 179.25,269.47 179.68,268.81 180.11,268.19 180.54,267.62 180.97,267.09 181.4,266.61 181.83,266.19 182.26,265.83 182.69,265.53 183.12,265.29 183.55,265.11 183.98,265 184.41,264.96 184.84,264.99 185.27,265.08 185.7,265.23 186.13,265.46 186.56,265.74 186.99,266.09 187.42,266.5 187.85,266.96 188.28,267.48 188.71,268.04 189.14,268.65 189.57,269.3 190,269.99 190.43,270.7 190.86,271.44 191.29,272.21 191.72,272.98 192.15,273.77 192.58,274.56 193.01,275.35 193.44,276.13 193.87,276.9 194.3,277.64 194.73,278.36 195.16,279.06 195.59,279.71 196.02,280.33 196.45,280.9 196.88,281.43 197.31,281.9 197.74,282.31 198.17,282.67 198.6,282.96 199.03,283.19 199.46,283.35 199.89,283.44 200.32,283.47 200.75,283.42 201.18,283.31 201.61,283.13 202.04,282.88 202.47,282.56 202.9,282.18 203.33,281.74 203.76,281.23 204.19,280.68 204.62,280.07 205.05,279.41 205.48,278.71 205.91,277.96 206.34,277.19 206.77,276.38 207.2,275.55 207.63,274.71 208.06,273.85 208.49,272.98 208.92,272.12 209.35,271.26 209.78,270.41 210.21,269.57 210.64,268.76 211.07,267.98 211.5,267.23 211.93,266.52 212.36,265.85 212.79,265.23 213.22,264.66 213.65,264.15 214.08,263.7 214.51,263.31 214.94,262.98 215.37,262.72 215.8,262.53 216.23,262.42 216.66,262.37 217.09,262.39 217.52,262.49 217.95,262.66 218.38,262.89 218.81,263.2 219.24,263.57 219.67,264 220.1,264.5 220.53,265.05 220.96,265.65 221.39,266.31 221.82,267 222.25,267.74 222.68,268.51 223.11,269.32 223.54,270.14 223.97,270.99 224.4,271.85 224.83,272.71 225.26,273.57 225.69,274.44 226.12,275.29 226.55,276.12 226.98,276.93 227.41,277.71 227.84,278.46 228.27,279.18 228.7,279.85 229.13,280.47 229.56,281.04 229.99,281.56 230.42,282.02 230.85,282.42 231.28,282.76 231.71,283.02 232.14,283.23 232.57,283.36 233,283.42 233.43,283.42 233.86,283.34 234.29,283.2 234.72,282.99 235.15,282.72 235.58,282.38 236.01,281.98 236.44,281.53 236.87,281.02 237.3,280.46 237.73,279.86 238.16,279.21 238.59,278.53 239.02,277.82 239.45,277.08 239.88,276.32 240.31,275.54 240.74,274.76 241.17,273.97 241.6,273.18 242.03,272.4 242.46,271.64 242.89,270.89 243.32,270.17 243.75,269.47 244.18,268.81 244.61,268.19 245.04,267.62 245.47,267.09 245.9,266.61 246.33,266.19 246.76,265.83 247.19,265.53 247.62,265.29 248.05,265.11 248.48,265 248.91,264.96 249.34,264.99 249.77,265.08 250.2,265.23 250.63,265.46 251.06,265.74 251.49,266.09 251.92,266.5 252.35,266.96 252.78,267.48 253.21,268.04 253.64,268.65 254.07,269.3 254.5,269.99 254.93,270.7 255.36,271.44 255.79,272.21 256.22,272.98 256.65,273.77 257.08,274.56 257.51,275.35 257.94,276.13 258.37,276.9 258.8,277.64 259.23,278.36 259.66,279.06 260.09,279.71 260.52,280.33 260.95,280.9 261.38,281.43 261.81,281.9 262.24,282.31 262.67,282.67 263.1,282.96 263.53,283.19 263.96,283.35 264.39,283.44 264.82,283.47 265.25,283.42 265.68,283.31 266.11,283.13 266.54,282.88 266.97,282.56 267.4,282.18 267.83,281.74 268.26,281.23 268.69,280.68 269.12,280.07 269.55,279.41 269.98,278.71 270.41,277.96 270.84,277.19 271.27,276.38 271.7,275.55 272.13,274.71 272.56,273.85 272.99,272.98 273.42,272.12 273.85,271.26 274.28,270.41 274.71,269.57 275.14,268.76 275.57,267.98 276,267.23 276.43,266.52 276.86,265.85 277.29,265.23 277.72,264.66 278.15,264.15 278.58,263.7 279.01,263.31 279.44,262.98 279.87,262.72 280.3,262.53 280.73,262.42 281.16,262.37 281.59,262.39 282.02,262.49 282.45,262.66 282.88,262.89 283.31,263.2 283.74,263.57 284.17,264 284.6,264.5 285.03,265.05 285.46,265.65 285.89,266.31 286.32,267 286.75,267.74 287.18,268.51 287.61,269.32 288.04,270.14 288.47,270.99 288.9,271.85 289.33,272.71 289.76,273.57 290.19,274.44 290.62,275.29 291.05,276.12 291.48,276.93 291.91,277.71 292.34,278.46 292.77,279.18 293.2,279.85 293.63,280.47 294.06,281.04 294.49,281.56 294.92,282.02 295.35,282.42 295.78,282.76 296.21,283.02 296.64,283.23 297.07,283.36 297.5,283.42" fill="none" stroke="#de4e60" stroke-width="4.8" stroke-linejoin="round"/>
<path d="M39.5,283.42 39.93,283.42 40.36,283.34 40.79,283.2 41.22,282.99 41.65,282.72 42.08,282.38 42.51,281.98 42.94,281.53 43.37,281.02 43.8,280.46 44.23,279.86 44.66,279.21 45.09,278.53 45.52,277.82 45.95,277.08 46.38,276.32 46.81,275.54 47.24,274.76 47.67,273.97 48.1,273.18 48.53,272.4 48.96,271.64 49.39,270.89 49.82,270.17 50.25,269.47 50.68,268.81 51.11,268.19 51.54,267.62 51.97,267.09 52.4,266.61 52.83,266.19 53.26,265.83 53.69,265.53 54.12,265.29 54.55,265.11 54.98,265 55.41,264.96 55.84,264.99 56.27,265.08 56.7,265.23 57.13,265.46 57.56,265.74 57.99,266.09 58.42,266.5 58.85,266.96 59.28,267.48 59.71,268.04 60.14,268.65 60.57,269.3 61,269.99 61.43,270.7 61.86,271.44 62.29,272.21 62.72,272.98 63.15,273.77 63.58,274.56 64.01,275.35 64.44,276.13 64.87,276.9 65.3,277.64 65.73,278.36 66.16,279.06 66.59,279.71 67.02,280.33 67.45,280.9 67.88,281.43 68.31,281.9 68.74,282.31 69.17,282.67 69.6,282.96 70.03,283.19 70.46,283.35 70.89,283.44 71.32,283.47 71.75,283.42 72.18,283.31 72.61,283.13 73.04,282.88 73.47,282.56 73.9,282.18 74.33,281.74 74.76,281.23 75.19,280.68 75.62,280.07 76.05,279.41 76.48,278.71 76.91,277.96 77.34,277.19 77.77,276.38 78.2,275.55 78.63,274.71 79.06,273.85 79.49,272.98 79.92,272.12 80.35,271.26 80.78,270.41 81.21,269.57 81.64,268.76 82.07,267.98 82.5,267.23 82.93,266.52 83.36,265.85 83.79,265.23 84.22,264.66 84.65,264.15 85.08,263.7 85.51,263.31 85.94,262.98 86.37,262.72 86.8,262.53 87.23,262.42 87.66,262.37 88.09,262.39 88.52,262.49 88.95,262.66 89.38,262.89 89.81,263.2 90.24,263.57 90.67,264 91.1,264.5 91.53,265.05 91.96,265.65 92.39,266.31 92.82,267 93.25,267.74 93.68,268.51 94.11,269.32 94.54,270.14 94.97,270.99 95.4,271.85 95.83,272.71 96.26,273.57 96.69,274.44 97.12,275.29 97.55,276.12 97.98,276.93 98.41,277.71 98.84,278.46 99.27,279.18 99.7,279.85 100.13,280.47 100.56,281.04 100.99,281.56 101.42,282.02 101.85,282.42 102.28,282.76 102.71,283.02 103.14,283.23 103.57,283.36 104,283.42 104.43,283.42 104.86,283.34 105.29,283.2 105.72,282.99 106.15,282.72 106.58,282.38 107.01,281.98 107.44,281.53 107.87,281.02 108.3,280.46 108.73,279.86 109.16,279.21 109.59,278.53 110.02,277.82 110.45,277.08 110.88,276.32 111.31,275.54 111.74,274.76 112.17,273.97 112.6,273.18 113.03,272.4 113.46,271.64 113.89,270.89 114.32,270.17 114.75,269.47 115.18,268.81 115.61,268.19 116.04,267.62 116.47,267.09 116.9,266.61 117.33,266.19 117.76,265.83 118.19,265.53 118.62,265.29 119.05,265.11 119.48,265 119.91,264.96 120.34,264.99 120.77,265.08 121.2,265.23 121.63,265.46 122.06,265.74 122.49,266.09 122.92,266.5 123.35,266.96 123.78,267.48 124.21,268.04 124.64,268.65 125.07,269.3 125.5,269.99 125.93,270.7 126.36,271.44 126.79,272.21 127.22,272.98 127.65,273.77 128.08,274.56 128.51,275.35 128.94,276.13 129.37,276.9 129.8,277.64 130.23,278.36 130.66,279.06 131.09,279.71 131.52,280.33 131.95,280.9 132.38,281.43 132.81,281.9 133.24,282.31 133.67,282.67 134.1,282.96 134.53,283.19 134.96,283.35 135.39,283.44 135.82,283.47 136.25,283.42 136.68,283.31 137.11,283.13 137.54,282.88 137.97,282.56 138.4,282.18 138.83,281.74 139.26,281.23 139.69,280.68 140.12,280.07 140.55,279.41 140.98,278.71 141.41,277.96 141.84,277.19 142.27,276.38 142.7,275.55 143.13,274.71 143.56,273.85 143.99,272.98 144.42,272.12 144.85,271.26 145.28,270.41 145.71,269.57 146.14,268.76 146.57,267.98 147,267.23 147.43,266.52 147.86,265.85 148.29,265.23 148.72,264.66 149.15,264.15 149.58,263.7 150.01,263.31 150.44,262.98 150.87,262.72 151.3,262.53 151.73,262.42 152.16,262.37 152.59,262.39 153.02,262.49 153.45,262.66 153.88,262.89 154.31,263.2 154.74,263.57 155.17,264 155.6,264.5 156.03,265.05 156.46,265.65 156.89,266.31 157.32,267 157.75,267.74 158.18,268.51 158.61,269.32 159.04,270.14 159.47,270.99 159.9,271.85 160.33,272.71 160.76,273.57 161.19,274.44 161.62,275.29 162.05,276.12 162.48,276.93 162.91,277.71 163.34,278.46 163.77,279.18 164.2,279.85 164.63,280.47 165.06,281.04 165.49,281.56 165.92,282.02 166.35,282.42 166.78,282.76 167.21,283.02 167.64,283.23 168.07,283.36 168.5,283.42 168.93,283.42 169.36,283.34 169.79,283.2 170.22,282.99 170.65,282.72 171.08,282.38 171.51,281.98 171.94,281.53 172.37,281.02 172.8,280.46 173.23,279.86 173.66,279.21 174.09,278.53 174.52,277.82 174.95,277.08 175.38,276.32 175.81,275.54 176.24,274.76 176.67,273.97 177.1,273.18 177.53,272.4 177.96,271.64 178.39,270.89 178.82,270.17 179.25,269.47 179.68,268.81 180.11,268.19 180.54,267.62 180.97,267.09 181.4,266.61 181.83,266.19 182.26,265.83 182.69,265.53 183.12,265.29 183.55,265.11 183.98,265 184.41,264.96 184.84,264.99 185.27,265.08 185.7,265.23 186.13,265.46 186.56,265.74 186.99,266.09 187.42,266.5 187.85,266.96 188.28,267.48 188.71,268.04 189.14,268.65 189.57,269.3 190,269.99 190.43,270.7 190.86,271.44 191.29,272.21 191.72,272.98 192.15,273.77 192.58,274.56 193.01,275.35 193.44,276.13 193.87,276.9 194.3,277.64 194.73,278.36 195.16,279.06 195.59,279.71 196.02,280.33 196.45,280.9 196.88,281.43 197.31,281.9 197.74,282.31 198.17,282.67 198.6,282.96 199.03,283.19 199.46,283.35 199.89,283.44 200.32,283.47 200.75,283.42 201.18,283.31 201.61,283.13 202.04,282.88 202.47,282.56 202.9,282.18 203.33,281.74 203.76,281.23 204.19,280.68 204.62,280.07 205.05,279.41 205.48,278.71 205.91,277.96 206.34,277.19 206.77,276.38 207.2,275.55 207.63,274.71 208.06,273.85 208.49,272.98 208.92,272.12 209.35,271.26 209.78,270.41 210.21,269.57 210.64,268.76 211.07,267.98 211.5,267.23 211.93,266.52 212.36,265.85 212.79,265.23 213.22,264.66 213.65,264.15 214.08,263.7 214.51,263.31 214.94,262.98 215.37,262.72 215.8,262.53 216.23,262.42 216.66,262.37 217.09,262.39 217.52,262.49 217.95,262.66 218.38,262.89 218.81,263.2 219.24,263.57 219.67,264 220.1,264.5 220.53,265.05 220.96,265.65 221.39,266.31 221.82,267 222.25,267.74 222.68,268.51 223.11,269.32 223.54,270.14 223.97,270.99 224.4,271.85 224.83,272.71 225.26,273.57 225.69,274.44 226.12,275.29 226.55,276.12 226.98,276.93 227.41,277.71 227.84,278.46 228.27,279.18 228.7,279.85 229.13,280.47 229.56,281.04 229.99,281.56 230.42,282.02 230.85,282.42 231.28,282.76 231.71,283.02 232.14,283.23 232.57,283.36 233,283.42 233.43,283.42 233.86,283.34 234.29,283.2 234.72,282.99 235.15,282.72 235.58,282.38 236.01,281.98 236.44,281.53 236.87,281.02 237.3,280.46 237.73,279.86 238.16,279.21 238.59,278.53 239.02,277.82 239.45,277.08 239.88,276.32 240.31,275.54 240.74,274.76 241.17,273.97 241.6,273.18 242.03,272.4 242.46,271.64 242.89,270.89 243.32,270.17 243.75,269.47 244.18,268.81 244.61,268.19 245.04,267.62 245.47,267.09 245.9,266.61 246.33,266.19 246.76,265.83 247.19,265.53 247.62,265.29 248.05,265.11 248.48,265 248.91,264.96 249.34,264.99 249.77,265.08 250.2,265.23 250.63,265.46 251.06,265.74 251.49,266.09 251.92,266.5 252.35,266.96 252.78,267.48 253.21,268.04 253.64,268.65 254.07,269.3 254.5,269.99 254.93,270.7 255.36,271.44 255.79,272.21 256.22,272.98 256.65,273.77 257.08,274.56 257.51,275.35 257.94,276.13 258.37,276.9 258.8,277.64 259.23,278.36 259.66,279.06 260.09,279.71 260.52,280.33 260.95,280.9 261.38,281.43 261.81,281.9 262.24,282.31 262.67,282.67 263.1,282.96 263.53,283.19 263.96,283.35 264.39,283.44 264.82,283.47 265.25,283.42 265.68,283.31 266.11,283.13 266.54,282.88 266.97,282.56 267.4,282.18 267.83,281.74 268.26,281.23 268.69,280.68 269.12,280.07 269.55,279.41 269.98,278.71 270.41,277.96 270.84,277.19 271.27,276.38 271.7,275.55 272.13,274.71 272.56,273.85 272.99,272.98 273.42,272.12 273.85,271.26 274.28,270.41 274.71,269.57 275.14,268.76 275.57,267.98 276,267.23 276.43,266.52 276.86,265.85 277.29,265.23 277.72,264.66 278.15,264.15 278.58,263.7 279.01,263.31 279.44,262.98 279.87,262.72 280.3,262.53 280.73,262.42 281.16,262.37 281.59,262.39 282.02,262.49 282.45,262.66 282.88,262.89 283.31,263.2 283.74,263.57 284.17,264 284.6,264.5 285.03,265.05 285.46,265.65 285.89,266.31 286.32,267 286.75,267.74 287.18,268.51 287.61,269.32 288.04,270.14 288.47,270.99 288.9,271.85 289.33,272.71 289.76,273.57 290.19,274.44 290.62,275.29 291.05,276.12 291.48,276.93 291.91,277.71 292.34,278.46 292.77,279.18 293.2,279.85 293.63,280.47 294.06,281.04 294.49,281.56 294.92,282.02 295.35,282.42 295.78,282.76 296.21,283.02 296.64,283.23 297.07,283.36 297.5,283.42" fill="none" stroke="#e36776" stroke-width="1.6" stroke-linejoin="round"/>
</g>
<rect x="39.5" y="207.5" width="258" height="102" fill="none" stroke="#262626" stroke-width="1"/>
<line x1="39.5" y1="258.5" x2="297.5" y2="258.5" stroke="#262626" stroke-width="1" />
<line x1="71.75" y1="258.5" x2="71.75" y2="255.9" stroke="#262626" stroke-width="0.8" />
<line x1="71.75" y1="309.5" x2="71.75" y2="306.9" stroke="#262626" stroke-width="0.8" />
<line x1="104" y1="258.5" x2="104" y2="255.9" stroke="#262626" stroke-width="0.8" />
<line x1="104" y1="309.5" x2="104" y2="306.9" stroke="#262626" stroke-width="0.8" />
<line x1="136.25" y1="258.5" x2="136.25" y2="255.9" stroke="#262626" stroke-width="0.8" />
<line x1="136.25" y1="309.5" x2="136.25" y2="306.9" stroke="#262626" stroke-width="0.8" />
<line x1="168.5" y1="258.5" x2="168.5" y2="255.9" stroke="#262626" stroke-width="0.8" />
<line x1="168.5" y1="309.5" x2="168.5" y2="306.9" stroke="#262626" stroke-width="0.8" />
<line x1="200.75" y1="258.5" x2="200.75" y2="255.9" stroke="#262626" stroke-width="0.8" />
<line x1="200.75" y1="309.5" x2="200.75" y2="306.9" stroke="#262626" stroke-width="0.8" />
<line x1="233" y1="258.5" x2="233" y2="255.9" stroke="#262626" stroke-width="0.8" />
<line x1="233" y1="309.5" x2="233" y2="306.9" stroke="#262626" stroke-width="0.8" />
<line x1="265.25" y1="258.5" x2="265.25" y2="255.9" stroke="#262626" stroke-width="0.8" />
<line x1="265.25" y1="309.5" x2="265.25" y2="306.9" stroke="#262626" stroke-width="0.8" />
<line x1="39.5" y1="253.95" x2="42.5" y2="253.95" stroke="#262626" stroke-width="0.8" />
<line x1="39.5" y1="232.7" x2="42.5" y2="232.7" stroke="#262626" stroke-width="0.8" />
<line x1="39.5" y1="211.45" x2="42.5" y2="211.45" stroke="#262626" stroke-width="0.8" />
<line x1="39.5" y1="300.6" x2="42.5" y2="300.6" stroke="#262626" stroke-width="0.8" />
<line x1="39.5" y1="284.4" x2="42.5" y2="284.4" stroke="#262626" stroke-width="0.8" />
<line x1="39.5" y1="268.2" x2="42.5" y2="268.2" stroke="#262626" stroke-width="0.8" />
<text transform="translate(35.2,216) scale(1,1.08)" font-size="9.5" text-anchor="end" fill="#262626" >5</text>
<text transform="translate(35.2,236.2) scale(1,1.08)" font-size="9.5" text-anchor="end" fill="#262626" >0</text>
<text transform="translate(35.2,256.6) scale(1,1.08)" font-size="9.5" text-anchor="end" fill="#262626" >-5</text>
<text transform="translate(35.2,271.9) scale(1,1.08)" font-size="9.5" text-anchor="end" fill="#262626" >0.5</text>
<text transform="translate(35.2,288.4) scale(1,1.08)" font-size="9.5" text-anchor="end" fill="#262626" >0</text>
<text transform="translate(35.2,304.8) scale(1,1.08)" font-size="9.5" text-anchor="end" fill="#262626" >-0.5</text>
<text transform="translate(38.7,323.3) scale(1,1.08)" font-size="9.5" text-anchor="middle" fill="#262626" >0</text>
<text transform="translate(103.2,323.3) scale(1,1.08)" font-size="9.5" text-anchor="middle" fill="#262626" >0.1</text>
<text transform="translate(167.7,323.3) scale(1,1.08)" font-size="9.5" text-anchor="middle" fill="#262626" >0.2</text>
<text transform="translate(232.2,323.3) scale(1,1.08)" font-size="9.5" text-anchor="middle" fill="#262626" >0.3</text>
<text transform="translate(296.7,323.3) scale(1,1.08)" font-size="9.5" text-anchor="middle" fill="#262626" >0.4</text>
<text x="169.5" y="336.6" font-size="9.5" text-anchor="middle" fill="#262626" >Time (s)</text>
<text transform="translate(8.1,232.6) rotate(-90) scale(1,1.0)" font-size="9.7" text-anchor="middle" fill="#262626" stroke="#262626">E (kV/mm)</text>
<text transform="translate(8.2,286.4) rotate(-90) scale(1,1.0)" font-size="9.7" text-anchor="middle" fill="#262626" stroke="#262626">x (×10<tspan dy="-3.4" font-size="6.5">-4</tspan><tspan dy="3.4">)</tspan></text>
<circle cx="247.4" cy="293.4" r="1.9" fill="none" stroke="#666" stroke-width="1.0"/>
<text x="252.7" y="295.9" font-size="7" text-anchor="start" fill="#262626" >Electric field</text>
<circle cx="247.4" cy="301.9" r="1.9" fill="none" stroke="#de4e60" stroke-width="1.1"/>
<text x="252.7" y="304.4" font-size="7" text-anchor="start" fill="#262626" >Strain at 10Hz</text>
<line x1="216.5" y1="165" x2="216.5" y2="193" stroke="#262626" stroke-width="0.9" stroke-dasharray="1.3 1.3"/>
<path d="M216.5,159.6 L218.9,167 L216.5,165.4 L214.1,167Z" fill="#262626"/>
<path d="M216.5,198.8 L218.9,191.4 L216.5,193 L214.1,191.4Z" fill="#262626"/>
<text x="54.1" y="198.1" font-size="8.8" text-anchor="start" fill="#262626" >φ</text>
<text x="59.7" y="201.6" font-size="5.6" text-anchor="start" fill="#262626" >x</text>
<line x1="53.9" y1="204.3" x2="58.1" y2="204.3" stroke="#e0303e" stroke-width="1.0" />
<path d="M60.4,204.3 L57.6,202.7 L57.6,205.9Z" fill="#e0303e"/>
<defs><clipPath id="pc1"><rect x="394.5" y="206.5" width="258.5" height="52"/></clipPath><clipPath id="pc2"><rect x="394.5" y="258.5" width="258.5" height="51.8"/></clipPath></defs>
<line x1="394.5" y1="233" x2="653" y2="233" stroke="#222" stroke-width="0.85" stroke-dasharray="1.3 1.6"/>
<line x1="394.5" y1="284.4" x2="653" y2="284.4" stroke="#222" stroke-width="0.85" stroke-dasharray="1.3 1.6"/>
<line x1="410.3" y1="206.5" x2="410.3" y2="310.3" stroke="#222" stroke-width="0.8" stroke-dasharray="1.3 1.5"/>
<line x1="415.5" y1="206.5" x2="415.5" y2="310.3" stroke="#222" stroke-width="0.8" stroke-dasharray="1.3 1.5"/>
<g clip-path="url(#pc1)">
<path d="M394.5,233 394.93,232.11 395.36,231.22 395.79,230.34 396.22,229.46 396.65,228.58 397.08,227.72 397.52,226.86 397.95,226.01 398.38,225.18 398.81,224.36 399.24,223.55 399.67,222.76 400.1,221.99 400.53,221.24 400.96,220.51 401.39,219.8 401.82,219.11 402.25,218.45 402.69,217.82 403.12,217.21 403.55,216.63 403.98,216.07 404.41,215.55 404.84,215.06 405.27,214.6 405.7,214.17 406.13,213.77 406.56,213.41 406.99,213.08 407.43,212.79 407.86,212.53 408.29,212.31 408.72,212.13 409.15,211.98 409.58,211.87 410.01,211.79 410.44,211.75 410.87,211.75 411.3,211.79 411.73,211.87 412.16,211.98 412.6,212.13 413.03,212.31 413.46,212.53 413.89,212.79 414.32,213.08 414.75,213.41 415.18,213.77 415.61,214.17 416.04,214.6 416.47,215.06 416.9,215.55 417.33,216.07 417.76,216.63 418.2,217.21 418.63,217.82 419.06,218.45 419.49,219.11 419.92,219.8 420.35,220.51 420.78,221.24 421.21,221.99 421.64,222.76 422.07,223.55 422.5,224.36 422.94,225.18 423.37,226.01 423.8,226.86 424.23,227.72 424.66,228.58 425.09,229.46 425.52,230.34 425.95,231.22 426.38,232.11 426.81,233 427.24,233.89 427.67,234.78 428.11,235.66 428.54,236.54 428.97,237.42 429.4,238.28 429.83,239.14 430.26,239.99 430.69,240.82 431.12,241.64 431.55,242.45 431.98,243.24 432.41,244.01 432.84,244.76 433.27,245.49 433.71,246.2 434.14,246.89 434.57,247.55 435,248.18 435.43,248.79 435.86,249.37 436.29,249.93 436.72,250.45 437.15,250.94 437.58,251.4 438.01,251.83 438.44,252.23 438.88,252.59 439.31,252.92 439.74,253.21 440.17,253.47 440.6,253.69 441.03,253.87 441.46,254.02 441.89,254.13 442.32,254.21 442.75,254.25 443.18,254.25 443.62,254.21 444.05,254.13 444.48,254.02 444.91,253.87 445.34,253.69 445.77,253.47 446.2,253.21 446.63,252.92 447.06,252.59 447.49,252.23 447.92,251.83 448.35,251.4 448.79,250.94 449.22,250.45 449.65,249.93 450.08,249.37 450.51,248.79 450.94,248.18 451.37,247.55 451.8,246.89 452.23,246.2 452.66,245.49 453.09,244.76 453.52,244.01 453.95,243.24 454.39,242.45 454.82,241.64 455.25,240.82 455.68,239.99 456.11,239.14 456.54,238.28 456.97,237.42 457.4,236.54 457.83,235.66 458.26,234.78 458.69,233.89 459.12,233 459.56,232.11 459.99,231.22 460.42,230.34 460.85,229.46 461.28,228.58 461.71,227.72 462.14,226.86 462.57,226.01 463,225.18 463.43,224.36 463.86,223.55 464.3,222.76 464.73,221.99 465.16,221.24 465.59,220.51 466.02,219.8 466.45,219.11 466.88,218.45 467.31,217.82 467.74,217.21 468.17,216.63 468.6,216.07 469.03,215.55 469.47,215.06 469.9,214.6 470.33,214.17 470.76,213.77 471.19,213.41 471.62,213.08 472.05,212.79 472.48,212.53 472.91,212.31 473.34,212.13 473.77,211.98 474.2,211.87 474.63,211.79 475.07,211.75 475.5,211.75 475.93,211.79 476.36,211.87 476.79,211.98 477.22,212.13 477.65,212.31 478.08,212.53 478.51,212.79 478.94,213.08 479.37,213.41 479.81,213.77 480.24,214.17 480.67,214.6 481.1,215.06 481.53,215.55 481.96,216.07 482.39,216.63 482.82,217.21 483.25,217.82 483.68,218.45 484.11,219.11 484.54,219.8 484.98,220.51 485.41,221.24 485.84,221.99 486.27,222.76 486.7,223.55 487.13,224.36 487.56,225.18 487.99,226.01 488.42,226.86 488.85,227.72 489.28,228.58 489.71,229.46 490.14,230.34 490.58,231.22 491.01,232.11 491.44,233 491.87,233.89 492.3,234.78 492.73,235.66 493.16,236.54 493.59,237.42 494.02,238.28 494.45,239.14 494.88,239.99 495.31,240.82 495.75,241.64 496.18,242.45 496.61,243.24 497.04,244.01 497.47,244.76 497.9,245.49 498.33,246.2 498.76,246.89 499.19,247.55 499.62,248.18 500.05,248.79 500.49,249.37 500.92,249.93 501.35,250.45 501.78,250.94 502.21,251.4 502.64,251.83 503.07,252.23 503.5,252.59 503.93,252.92 504.36,253.21 504.79,253.47 505.22,253.69 505.65,253.87 506.09,254.02 506.52,254.13 506.95,254.21 507.38,254.25 507.81,254.25 508.24,254.21 508.67,254.13 509.1,254.02 509.53,253.87 509.96,253.69 510.39,253.47 510.82,253.21 511.26,252.92 511.69,252.59 512.12,252.23 512.55,251.83 512.98,251.4 513.41,250.94 513.84,250.45 514.27,249.93 514.7,249.37 515.13,248.79 515.56,248.18 516,247.55 516.43,246.89 516.86,246.2 517.29,245.49 517.72,244.76 518.15,244.01 518.58,243.24 519.01,242.45 519.44,241.64 519.87,240.82 520.3,239.99 520.73,239.14 521.16,238.28 521.6,237.42 522.03,236.54 522.46,235.66 522.89,234.78 523.32,233.89 523.75,233 524.18,232.11 524.61,231.22 525.04,230.34 525.47,229.46 525.9,228.58 526.34,227.72 526.77,226.86 527.2,226.01 527.63,225.18 528.06,224.36 528.49,223.55 528.92,222.76 529.35,221.99 529.78,221.24 530.21,220.51 530.64,219.8 531.07,219.11 531.5,218.45 531.94,217.82 532.37,217.21 532.8,216.63 533.23,216.07 533.66,215.55 534.09,215.06 534.52,214.6 534.95,214.17 535.38,213.77 535.81,213.41 536.24,213.08 536.67,212.79 537.11,212.53 537.54,212.31 537.97,212.13 538.4,211.98 538.83,211.87 539.26,211.79 539.69,211.75 540.12,211.75 540.55,211.79 540.98,211.87 541.41,211.98 541.85,212.13 542.28,212.31 542.71,212.53 543.14,212.79 543.57,213.08 544,213.41 544.43,213.77 544.86,214.17 545.29,214.6 545.72,215.06 546.15,215.55 546.58,216.07 547.01,216.63 547.45,217.21 547.88,217.82 548.31,218.45 548.74,219.11 549.17,219.8 549.6,220.51 550.03,221.24 550.46,221.99 550.89,222.76 551.32,223.55 551.75,224.36 552.18,225.18 552.62,226.01 553.05,226.86 553.48,227.72 553.91,228.58 554.34,229.46 554.77,230.34 555.2,231.22 555.63,232.11 556.06,233 556.49,233.89 556.92,234.78 557.36,235.66 557.79,236.54 558.22,237.42 558.65,238.28 559.08,239.14 559.51,239.99 559.94,240.82 560.37,241.64 560.8,242.45 561.23,243.24 561.66,244.01 562.09,244.76 562.52,245.49 562.96,246.2 563.39,246.89 563.82,247.55 564.25,248.18 564.68,248.79 565.11,249.37 565.54,249.93 565.97,250.45 566.4,250.94 566.83,251.4 567.26,251.83 567.69,252.23 568.13,252.59 568.56,252.92 568.99,253.21 569.42,253.47 569.85,253.69 570.28,253.87 570.71,254.02 571.14,254.13 571.57,254.21 572,254.25 572.43,254.25 572.87,254.21 573.3,254.13 573.73,254.02 574.16,253.87 574.59,253.69 575.02,253.47 575.45,253.21 575.88,252.92 576.31,252.59 576.74,252.23 577.17,251.83 577.6,251.4 578.03,250.94 578.47,250.45 578.9,249.93 579.33,249.37 579.76,248.79 580.19,248.18 580.62,247.55 581.05,246.89 581.48,246.2 581.91,245.49 582.34,244.76 582.77,244.01 583.2,243.24 583.64,242.45 584.07,241.64 584.5,240.82 584.93,239.99 585.36,239.14 585.79,238.28 586.22,237.42 586.65,236.54 587.08,235.66 587.51,234.78 587.94,233.89 588.38,233 588.81,232.11 589.24,231.22 589.67,230.34 590.1,229.46 590.53,228.58 590.96,227.72 591.39,226.86 591.82,226.01 592.25,225.18 592.68,224.36 593.11,223.55 593.55,222.76 593.98,221.99 594.41,221.24 594.84,220.51 595.27,219.8 595.7,219.11 596.13,218.45 596.56,217.82 596.99,217.21 597.42,216.63 597.85,216.07 598.28,215.55 598.72,215.06 599.15,214.6 599.58,214.17 600.01,213.77 600.44,213.41 600.87,213.08 601.3,212.79 601.73,212.53 602.16,212.31 602.59,212.13 603.02,211.98 603.45,211.87 603.88,211.79 604.32,211.75 604.75,211.75 605.18,211.79 605.61,211.87 606.04,211.98 606.47,212.13 606.9,212.31 607.33,212.53 607.76,212.79 608.19,213.08 608.62,213.41 609.06,213.77 609.49,214.17 609.92,214.6 610.35,215.06 610.78,215.55 611.21,216.07 611.64,216.63 612.07,217.21 612.5,217.82 612.93,218.45 613.36,219.11 613.79,219.8 614.23,220.51 614.66,221.24 615.09,221.99 615.52,222.76 615.95,223.55 616.38,224.36 616.81,225.18 617.24,226.01 617.67,226.86 618.1,227.72 618.53,228.58 618.96,229.46 619.39,230.34 619.83,231.22 620.26,232.11 620.69,233 621.12,233.89 621.55,234.78 621.98,235.66 622.41,236.54 622.84,237.42 623.27,238.28 623.7,239.14 624.13,239.99 624.57,240.82 625,241.64 625.43,242.45 625.86,243.24 626.29,244.01 626.72,244.76 627.15,245.49 627.58,246.2 628.01,246.89 628.44,247.55 628.87,248.18 629.3,248.79 629.74,249.37 630.17,249.93 630.6,250.45 631.03,250.94 631.46,251.4 631.89,251.83 632.32,252.23 632.75,252.59 633.18,252.92 633.61,253.21 634.04,253.47 634.47,253.69 634.9,253.87 635.34,254.02 635.77,254.13 636.2,254.21 636.63,254.25 637.06,254.25 637.49,254.21 637.92,254.13 638.35,254.02 638.78,253.87 639.21,253.69 639.64,253.47 640.08,253.21 640.51,252.92 640.94,252.59 641.37,252.23 641.8,251.83 642.23,251.4 642.66,250.94 643.09,250.45 643.52,249.93 643.95,249.37 644.38,248.79 644.81,248.18 645.25,247.55 645.68,246.89 646.11,246.2 646.54,245.49 646.97,244.76 647.4,244.01 647.83,243.24 648.26,242.45 648.69,241.64 649.12,240.82 649.55,239.99 649.98,239.14 650.41,238.28 650.85,237.42 651.28,236.54 651.71,235.66 652.14,234.78 652.57,233.89 653,233" fill="none" stroke="#b8b8b8" stroke-width="3.8" stroke-linejoin="round"/>
<path d="M394.5,233 394.93,232.11 395.36,231.22 395.79,230.34 396.22,229.46 396.65,228.58 397.08,227.72 397.52,226.86 397.95,226.01 398.38,225.18 398.81,224.36 399.24,223.55 399.67,222.76 400.1,221.99 400.53,221.24 400.96,220.51 401.39,219.8 401.82,219.11 402.25,218.45 402.69,217.82 403.12,217.21 403.55,216.63 403.98,216.07 404.41,215.55 404.84,215.06 405.27,214.6 405.7,214.17 406.13,213.77 406.56,213.41 406.99,213.08 407.43,212.79 407.86,212.53 408.29,212.31 408.72,212.13 409.15,211.98 409.58,211.87 410.01,211.79 410.44,211.75 410.87,211.75 411.3,211.79 411.73,211.87 412.16,211.98 412.6,212.13 413.03,212.31 413.46,212.53 413.89,212.79 414.32,213.08 414.75,213.41 415.18,213.77 415.61,214.17 416.04,214.6 416.47,215.06 416.9,215.55 417.33,216.07 417.76,216.63 418.2,217.21 418.63,217.82 419.06,218.45 419.49,219.11 419.92,219.8 420.35,220.51 420.78,221.24 421.21,221.99 421.64,222.76 422.07,223.55 422.5,224.36 422.94,225.18 423.37,226.01 423.8,226.86 424.23,227.72 424.66,228.58 425.09,229.46 425.52,230.34 425.95,231.22 426.38,232.11 426.81,233 427.24,233.89 427.67,234.78 428.11,235.66 428.54,236.54 428.97,237.42 429.4,238.28 429.83,239.14 430.26,239.99 430.69,240.82 431.12,241.64 431.55,242.45 431.98,243.24 432.41,244.01 432.84,244.76 433.27,245.49 433.71,246.2 434.14,246.89 434.57,247.55 435,248.18 435.43,248.79 435.86,249.37 436.29,249.93 436.72,250.45 437.15,250.94 437.58,251.4 438.01,251.83 438.44,252.23 438.88,252.59 439.31,252.92 439.74,253.21 440.17,253.47 440.6,253.69 441.03,253.87 441.46,254.02 441.89,254.13 442.32,254.21 442.75,254.25 443.18,254.25 443.62,254.21 444.05,254.13 444.48,254.02 444.91,253.87 445.34,253.69 445.77,253.47 446.2,253.21 446.63,252.92 447.06,252.59 447.49,252.23 447.92,251.83 448.35,251.4 448.79,250.94 449.22,250.45 449.65,249.93 450.08,249.37 450.51,248.79 450.94,248.18 451.37,247.55 451.8,246.89 452.23,246.2 452.66,245.49 453.09,244.76 453.52,244.01 453.95,243.24 454.39,242.45 454.82,241.64 455.25,240.82 455.68,239.99 456.11,239.14 456.54,238.28 456.97,237.42 457.4,236.54 457.83,235.66 458.26,234.78 458.69,233.89 459.12,233 459.56,232.11 459.99,231.22 460.42,230.34 460.85,229.46 461.28,228.58 461.71,227.72 462.14,226.86 462.57,226.01 463,225.18 463.43,224.36 463.86,223.55 464.3,222.76 464.73,221.99 465.16,221.24 465.59,220.51 466.02,219.8 466.45,219.11 466.88,218.45 467.31,217.82 467.74,217.21 468.17,216.63 468.6,216.07 469.03,215.55 469.47,215.06 469.9,214.6 470.33,214.17 470.76,213.77 471.19,213.41 471.62,213.08 472.05,212.79 472.48,212.53 472.91,212.31 473.34,212.13 473.77,211.98 474.2,211.87 474.63,211.79 475.07,211.75 475.5,211.75 475.93,211.79 476.36,211.87 476.79,211.98 477.22,212.13 477.65,212.31 478.08,212.53 478.51,212.79 478.94,213.08 479.37,213.41 479.81,213.77 480.24,214.17 480.67,214.6 481.1,215.06 481.53,215.55 481.96,216.07 482.39,216.63 482.82,217.21 483.25,217.82 483.68,218.45 484.11,219.11 484.54,219.8 484.98,220.51 485.41,221.24 485.84,221.99 486.27,222.76 486.7,223.55 487.13,224.36 487.56,225.18 487.99,226.01 488.42,226.86 488.85,227.72 489.28,228.58 489.71,229.46 490.14,230.34 490.58,231.22 491.01,232.11 491.44,233 491.87,233.89 492.3,234.78 492.73,235.66 493.16,236.54 493.59,237.42 494.02,238.28 494.45,239.14 494.88,239.99 495.31,240.82 495.75,241.64 496.18,242.45 496.61,243.24 497.04,244.01 497.47,244.76 497.9,245.49 498.33,246.2 498.76,246.89 499.19,247.55 499.62,248.18 500.05,248.79 500.49,249.37 500.92,249.93 501.35,250.45 501.78,250.94 502.21,251.4 502.64,251.83 503.07,252.23 503.5,252.59 503.93,252.92 504.36,253.21 504.79,253.47 505.22,253.69 505.65,253.87 506.09,254.02 506.52,254.13 506.95,254.21 507.38,254.25 507.81,254.25 508.24,254.21 508.67,254.13 509.1,254.02 509.53,253.87 509.96,253.69 510.39,253.47 510.82,253.21 511.26,252.92 511.69,252.59 512.12,252.23 512.55,251.83 512.98,251.4 513.41,250.94 513.84,250.45 514.27,249.93 514.7,249.37 515.13,248.79 515.56,248.18 516,247.55 516.43,246.89 516.86,246.2 517.29,245.49 517.72,244.76 518.15,244.01 518.58,243.24 519.01,242.45 519.44,241.64 519.87,240.82 520.3,239.99 520.73,239.14 521.16,238.28 521.6,237.42 522.03,236.54 522.46,235.66 522.89,234.78 523.32,233.89 523.75,233 524.18,232.11 524.61,231.22 525.04,230.34 525.47,229.46 525.9,228.58 526.34,227.72 526.77,226.86 527.2,226.01 527.63,225.18 528.06,224.36 528.49,223.55 528.92,222.76 529.35,221.99 529.78,221.24 530.21,220.51 530.64,219.8 531.07,219.11 531.5,218.45 531.94,217.82 532.37,217.21 532.8,216.63 533.23,216.07 533.66,215.55 534.09,215.06 534.52,214.6 534.95,214.17 535.38,213.77 535.81,213.41 536.24,213.08 536.67,212.79 537.11,212.53 537.54,212.31 537.97,212.13 538.4,211.98 538.83,211.87 539.26,211.79 539.69,211.75 540.12,211.75 540.55,211.79 540.98,211.87 541.41,211.98 541.85,212.13 542.28,212.31 542.71,212.53 543.14,212.79 543.57,213.08 544,213.41 544.43,213.77 544.86,214.17 545.29,214.6 545.72,215.06 546.15,215.55 546.58,216.07 547.01,216.63 547.45,217.21 547.88,217.82 548.31,218.45 548.74,219.11 549.17,219.8 549.6,220.51 550.03,221.24 550.46,221.99 550.89,222.76 551.32,223.55 551.75,224.36 552.18,225.18 552.62,226.01 553.05,226.86 553.48,227.72 553.91,228.58 554.34,229.46 554.77,230.34 555.2,231.22 555.63,232.11 556.06,233 556.49,233.89 556.92,234.78 557.36,235.66 557.79,236.54 558.22,237.42 558.65,238.28 559.08,239.14 559.51,239.99 559.94,240.82 560.37,241.64 560.8,242.45 561.23,243.24 561.66,244.01 562.09,244.76 562.52,245.49 562.96,246.2 563.39,246.89 563.82,247.55 564.25,248.18 564.68,248.79 565.11,249.37 565.54,249.93 565.97,250.45 566.4,250.94 566.83,251.4 567.26,251.83 567.69,252.23 568.13,252.59 568.56,252.92 568.99,253.21 569.42,253.47 569.85,253.69 570.28,253.87 570.71,254.02 571.14,254.13 571.57,254.21 572,254.25 572.43,254.25 572.87,254.21 573.3,254.13 573.73,254.02 574.16,253.87 574.59,253.69 575.02,253.47 575.45,253.21 575.88,252.92 576.31,252.59 576.74,252.23 577.17,251.83 577.6,251.4 578.03,250.94 578.47,250.45 578.9,249.93 579.33,249.37 579.76,248.79 580.19,248.18 580.62,247.55 581.05,246.89 581.48,246.2 581.91,245.49 582.34,244.76 582.77,244.01 583.2,243.24 583.64,242.45 584.07,241.64 584.5,240.82 584.93,239.99 585.36,239.14 585.79,238.28 586.22,237.42 586.65,236.54 587.08,235.66 587.51,234.78 587.94,233.89 588.38,233 588.81,232.11 589.24,231.22 589.67,230.34 590.1,229.46 590.53,228.58 590.96,227.72 591.39,226.86 591.82,226.01 592.25,225.18 592.68,224.36 593.11,223.55 593.55,222.76 593.98,221.99 594.41,221.24 594.84,220.51 595.27,219.8 595.7,219.11 596.13,218.45 596.56,217.82 596.99,217.21 597.42,216.63 597.85,216.07 598.28,215.55 598.72,215.06 599.15,214.6 599.58,214.17 600.01,213.77 600.44,213.41 600.87,213.08 601.3,212.79 601.73,212.53 602.16,212.31 602.59,212.13 603.02,211.98 603.45,211.87 603.88,211.79 604.32,211.75 604.75,211.75 605.18,211.79 605.61,211.87 606.04,211.98 606.47,212.13 606.9,212.31 607.33,212.53 607.76,212.79 608.19,213.08 608.62,213.41 609.06,213.77 609.49,214.17 609.92,214.6 610.35,215.06 610.78,215.55 611.21,216.07 611.64,216.63 612.07,217.21 612.5,217.82 612.93,218.45 613.36,219.11 613.79,219.8 614.23,220.51 614.66,221.24 615.09,221.99 615.52,222.76 615.95,223.55 616.38,224.36 616.81,225.18 617.24,226.01 617.67,226.86 618.1,227.72 618.53,228.58 618.96,229.46 619.39,230.34 619.83,231.22 620.26,232.11 620.69,233 621.12,233.89 621.55,234.78 621.98,235.66 622.41,236.54 622.84,237.42 623.27,238.28 623.7,239.14 624.13,239.99 624.57,240.82 625,241.64 625.43,242.45 625.86,243.24 626.29,244.01 626.72,244.76 627.15,245.49 627.58,246.2 628.01,246.89 628.44,247.55 628.87,248.18 629.3,248.79 629.74,249.37 630.17,249.93 630.6,250.45 631.03,250.94 631.46,251.4 631.89,251.83 632.32,252.23 632.75,252.59 633.18,252.92 633.61,253.21 634.04,253.47 634.47,253.69 634.9,253.87 635.34,254.02 635.77,254.13 636.2,254.21 636.63,254.25 637.06,254.25 637.49,254.21 637.92,254.13 638.35,254.02 638.78,253.87 639.21,253.69 639.64,253.47 640.08,253.21 640.51,252.92 640.94,252.59 641.37,252.23 641.8,251.83 642.23,251.4 642.66,250.94 643.09,250.45 643.52,249.93 643.95,249.37 644.38,248.79 644.81,248.18 645.25,247.55 645.68,246.89 646.11,246.2 646.54,245.49 646.97,244.76 647.4,244.01 647.83,243.24 648.26,242.45 648.69,241.64 649.12,240.82 649.55,239.99 649.98,239.14 650.41,238.28 650.85,237.42 651.28,236.54 651.71,235.66 652.14,234.78 652.57,233.89 653,233" fill="none" stroke="#2a2a2a" stroke-width="1.3" stroke-linejoin="round"/>
</g>
<g clip-path="url(#pc2)">
<path d="M394.5,284.95 394.93,284.48 395.36,284.06 395.79,283.7 396.22,283.41 396.65,283.17 397.08,283.01 397.52,282.91 397.95,282.88 398.38,282.93 398.81,283.04 399.24,283.23 399.67,283.48 400.1,283.8 400.53,284.19 400.96,284.64 401.39,285.16 401.82,285.73 402.25,286.36 402.69,287.03 403.12,287.76 403.55,288.53 403.98,289.33 404.41,290.16 404.84,291.02 405.27,291.91 405.7,292.8 406.13,293.7 406.56,294.61 406.99,295.51 407.43,296.41 407.86,297.28 408.29,298.14 408.72,298.96 409.15,299.76 409.58,300.51 410.01,301.22 410.44,301.88 410.87,302.49 411.3,303.04 411.73,303.52 412.16,303.94 412.6,304.3 413.03,304.58 413.46,304.79 413.89,304.92 414.32,304.98 414.75,304.96 415.18,304.87 415.61,304.7 416.04,304.46 416.47,304.14 416.9,303.75 417.33,303.29 417.76,302.76 418.2,302.17 418.63,301.52 419.06,300.82 419.49,300.07 419.92,299.27 420.35,298.42 420.78,297.55 421.21,296.64 421.64,295.72 422.07,294.77 422.5,293.81 422.94,292.85 423.37,291.89 423.8,290.93 424.23,289.99 424.66,289.07 425.09,288.17 425.52,287.31 425.95,286.48 426.38,285.69 426.81,284.95 427.24,284.26 427.67,283.63 428.11,283.05 428.54,282.54 428.97,282.1 429.4,281.72 429.83,281.41 430.26,281.18 430.69,281.02 431.12,280.93 431.55,280.92 431.98,280.98 432.41,281.12 432.84,281.32 433.27,281.59 433.71,281.94 434.14,282.34 434.57,282.81 435,283.33 435.43,283.91 435.86,284.53 436.29,285.2 436.72,285.91 437.15,286.65 437.58,287.42 438.01,288.21 438.44,289.01 438.88,289.83 439.31,290.65 439.74,291.47 440.17,292.29 440.6,293.09 441.03,293.87 441.46,294.63 441.89,295.35 442.32,296.05 442.75,296.7 443.18,297.3 443.62,297.86 444.05,298.37 444.48,298.82 444.91,299.2 445.34,299.53 445.77,299.8 446.2,299.99 446.63,300.12 447.06,300.19 447.49,300.18 447.92,300.11 448.35,299.97 448.79,299.76 449.22,299.49 449.65,299.16 450.08,298.77 450.51,298.32 450.94,297.82 451.37,297.27 451.8,296.68 452.23,296.05 452.66,295.38 453.09,294.68 453.52,293.96 453.95,293.22 454.39,292.46 454.82,291.7 455.25,290.94 455.68,290.18 456.11,289.43 456.54,288.7 456.97,287.99 457.4,287.31 457.83,286.66 458.26,286.04 458.69,285.47 459.12,284.95 459.56,284.48 459.99,284.06 460.42,283.7 460.85,283.41 461.28,283.17 461.71,283.01 462.14,282.91 462.57,282.88 463,282.93 463.43,283.04 463.86,283.23 464.3,283.48 464.73,283.8 465.16,284.19 465.59,284.64 466.02,285.16 466.45,285.73 466.88,286.36 467.31,287.03 467.74,287.76 468.17,288.53 468.6,289.33 469.03,290.16 469.47,291.02 469.9,291.91 470.33,292.8 470.76,293.7 471.19,294.61 471.62,295.51 472.05,296.41 472.48,297.28 472.91,298.14 473.34,298.96 473.77,299.76 474.2,300.51 474.63,301.22 475.07,301.88 475.5,302.49 475.93,303.04 476.36,303.52 476.79,303.94 477.22,304.3 477.65,304.58 478.08,304.79 478.51,304.92 478.94,304.98 479.37,304.96 479.81,304.87 480.24,304.7 480.67,304.46 481.1,304.14 481.53,303.75 481.96,303.29 482.39,302.76 482.82,302.17 483.25,301.52 483.68,300.82 484.11,300.07 484.54,299.27 484.98,298.42 485.41,297.55 485.84,296.64 486.27,295.72 486.7,294.77 487.13,293.81 487.56,292.85 487.99,291.89 488.42,290.93 488.85,289.99 489.28,289.07 489.71,288.17 490.14,287.31 490.58,286.48 491.01,285.69 491.44,284.95 491.87,284.26 492.3,283.63 492.73,283.05 493.16,282.54 493.59,282.1 494.02,281.72 494.45,281.41 494.88,281.18 495.31,281.02 495.75,280.93 496.18,280.92 496.61,280.98 497.04,281.12 497.47,281.32 497.9,281.59 498.33,281.94 498.76,282.34 499.19,282.81 499.62,283.33 500.05,283.91 500.49,284.53 500.92,285.2 501.35,285.91 501.78,286.65 502.21,287.42 502.64,288.21 503.07,289.01 503.5,289.83 503.93,290.65 504.36,291.47 504.79,292.29 505.22,293.09 505.65,293.87 506.09,294.63 506.52,295.35 506.95,296.05 507.38,296.7 507.81,297.3 508.24,297.86 508.67,298.37 509.1,298.82 509.53,299.2 509.96,299.53 510.39,299.8 510.82,299.99 511.26,300.12 511.69,300.19 512.12,300.18 512.55,300.11 512.98,299.97 513.41,299.76 513.84,299.49 514.27,299.16 514.7,298.77 515.13,298.32 515.56,297.82 516,297.27 516.43,296.68 516.86,296.05 517.29,295.38 517.72,294.68 518.15,293.96 518.58,293.22 519.01,292.46 519.44,291.7 519.87,290.94 520.3,290.18 520.73,289.43 521.16,288.7 521.6,287.99 522.03,287.31 522.46,286.66 522.89,286.04 523.32,285.47 523.75,284.95 524.18,284.48 524.61,284.06 525.04,283.7 525.47,283.41 525.9,283.17 526.34,283.01 526.77,282.91 527.2,282.88 527.63,282.93 528.06,283.04 528.49,283.23 528.92,283.48 529.35,283.8 529.78,284.19 530.21,284.64 530.64,285.16 531.07,285.73 531.5,286.36 531.94,287.03 532.37,287.76 532.8,288.53 533.23,289.33 533.66,290.16 534.09,291.02 534.52,291.91 534.95,292.8 535.38,293.7 535.81,294.61 536.24,295.51 536.67,296.41 537.11,297.28 537.54,298.14 537.97,298.96 538.4,299.76 538.83,300.51 539.26,301.22 539.69,301.88 540.12,302.49 540.55,303.04 540.98,303.52 541.41,303.94 541.85,304.3 542.28,304.58 542.71,304.79 543.14,304.92 543.57,304.98 544,304.96 544.43,304.87 544.86,304.7 545.29,304.46 545.72,304.14 546.15,303.75 546.58,303.29 547.01,302.76 547.45,302.17 547.88,301.52 548.31,300.82 548.74,300.07 549.17,299.27 549.6,298.42 550.03,297.55 550.46,296.64 550.89,295.72 551.32,294.77 551.75,293.81 552.18,292.85 552.62,291.89 553.05,290.93 553.48,289.99 553.91,289.07 554.34,288.17 554.77,287.31 555.2,286.48 555.63,285.69 556.06,284.95 556.49,284.26 556.92,283.63 557.36,283.05 557.79,282.54 558.22,282.1 558.65,281.72 559.08,281.41 559.51,281.18 559.94,281.02 560.37,280.93 560.8,280.92 561.23,280.98 561.66,281.12 562.09,281.32 562.52,281.59 562.96,281.94 563.39,282.34 563.82,282.81 564.25,283.33 564.68,283.91 565.11,284.53 565.54,285.2 565.97,285.91 566.4,286.65 566.83,287.42 567.26,288.21 567.69,289.01 568.13,289.83 568.56,290.65 568.99,291.47 569.42,292.29 569.85,293.09 570.28,293.87 570.71,294.63 571.14,295.35 571.57,296.05 572,296.7 572.43,297.3 572.87,297.86 573.3,298.37 573.73,298.82 574.16,299.2 574.59,299.53 575.02,299.8 575.45,299.99 575.88,300.12 576.31,300.19 576.74,300.18 577.17,300.11 577.6,299.97 578.03,299.76 578.47,299.49 578.9,299.16 579.33,298.77 579.76,298.32 580.19,297.82 580.62,297.27 581.05,296.68 581.48,296.05 581.91,295.38 582.34,294.68 582.77,293.96 583.2,293.22 583.64,292.46 584.07,291.7 584.5,290.94 584.93,290.18 585.36,289.43 585.79,288.7 586.22,287.99 586.65,287.31 587.08,286.66 587.51,286.04 587.94,285.47 588.38,284.95 588.81,284.48 589.24,284.06 589.67,283.7 590.1,283.41 590.53,283.17 590.96,283.01 591.39,282.91 591.82,282.88 592.25,282.93 592.68,283.04 593.11,283.23 593.55,283.48 593.98,283.8 594.41,284.19 594.84,284.64 595.27,285.16 595.7,285.73 596.13,286.36 596.56,287.03 596.99,287.76 597.42,288.53 597.85,289.33 598.28,290.16 598.72,291.02 599.15,291.91 599.58,292.8 600.01,293.7 600.44,294.61 600.87,295.51 601.3,296.41 601.73,297.28 602.16,298.14 602.59,298.96 603.02,299.76 603.45,300.51 603.88,301.22 604.32,301.88 604.75,302.49 605.18,303.04 605.61,303.52 606.04,303.94 606.47,304.3 606.9,304.58 607.33,304.79 607.76,304.92 608.19,304.98 608.62,304.96 609.06,304.87 609.49,304.7 609.92,304.46 610.35,304.14 610.78,303.75 611.21,303.29 611.64,302.76 612.07,302.17 612.5,301.52 612.93,300.82 613.36,300.07 613.79,299.27 614.23,298.42 614.66,297.55 615.09,296.64 615.52,295.72 615.95,294.77 616.38,293.81 616.81,292.85 617.24,291.89 617.67,290.93 618.1,289.99 618.53,289.07 618.96,288.17 619.39,287.31 619.83,286.48 620.26,285.69 620.69,284.95 621.12,284.26 621.55,283.63 621.98,283.05 622.41,282.54 622.84,282.1 623.27,281.72 623.7,281.41 624.13,281.18 624.57,281.02 625,280.93 625.43,280.92 625.86,280.98 626.29,281.12 626.72,281.32 627.15,281.59 627.58,281.94 628.01,282.34 628.44,282.81 628.87,283.33 629.3,283.91 629.74,284.53 630.17,285.2 630.6,285.91 631.03,286.65 631.46,287.42 631.89,288.21 632.32,289.01 632.75,289.83 633.18,290.65 633.61,291.47 634.04,292.29 634.47,293.09 634.9,293.87 635.34,294.63 635.77,295.35 636.2,296.05 636.63,296.7 637.06,297.3 637.49,297.86 637.92,298.37 638.35,298.82 638.78,299.2 639.21,299.53 639.64,299.8 640.08,299.99 640.51,300.12 640.94,300.19 641.37,300.18 641.8,300.11 642.23,299.97 642.66,299.76 643.09,299.49 643.52,299.16 643.95,298.77 644.38,298.32 644.81,297.82 645.25,297.27 645.68,296.68 646.11,296.05 646.54,295.38 646.97,294.68 647.4,293.96 647.83,293.22 648.26,292.46 648.69,291.7 649.12,290.94 649.55,290.18 649.98,289.43 650.41,288.7 650.85,287.99 651.28,287.31 651.71,286.66 652.14,286.04 652.57,285.47 653,284.95" fill="none" stroke="#7a3fa4" stroke-width="4.8" stroke-linejoin="round"/>
<path d="M394.5,284.95 394.93,284.48 395.36,284.06 395.79,283.7 396.22,283.41 396.65,283.17 397.08,283.01 397.52,282.91 397.95,282.88 398.38,282.93 398.81,283.04 399.24,283.23 399.67,283.48 400.1,283.8 400.53,284.19 400.96,284.64 401.39,285.16 401.82,285.73 402.25,286.36 402.69,287.03 403.12,287.76 403.55,288.53 403.98,289.33 404.41,290.16 404.84,291.02 405.27,291.91 405.7,292.8 406.13,293.7 406.56,294.61 406.99,295.51 407.43,296.41 407.86,297.28 408.29,298.14 408.72,298.96 409.15,299.76 409.58,300.51 410.01,301.22 410.44,301.88 410.87,302.49 411.3,303.04 411.73,303.52 412.16,303.94 412.6,304.3 413.03,304.58 413.46,304.79 413.89,304.92 414.32,304.98 414.75,304.96 415.18,304.87 415.61,304.7 416.04,304.46 416.47,304.14 416.9,303.75 417.33,303.29 417.76,302.76 418.2,302.17 418.63,301.52 419.06,300.82 419.49,300.07 419.92,299.27 420.35,298.42 420.78,297.55 421.21,296.64 421.64,295.72 422.07,294.77 422.5,293.81 422.94,292.85 423.37,291.89 423.8,290.93 424.23,289.99 424.66,289.07 425.09,288.17 425.52,287.31 425.95,286.48 426.38,285.69 426.81,284.95 427.24,284.26 427.67,283.63 428.11,283.05 428.54,282.54 428.97,282.1 429.4,281.72 429.83,281.41 430.26,281.18 430.69,281.02 431.12,280.93 431.55,280.92 431.98,280.98 432.41,281.12 432.84,281.32 433.27,281.59 433.71,281.94 434.14,282.34 434.57,282.81 435,283.33 435.43,283.91 435.86,284.53 436.29,285.2 436.72,285.91 437.15,286.65 437.58,287.42 438.01,288.21 438.44,289.01 438.88,289.83 439.31,290.65 439.74,291.47 440.17,292.29 440.6,293.09 441.03,293.87 441.46,294.63 441.89,295.35 442.32,296.05 442.75,296.7 443.18,297.3 443.62,297.86 444.05,298.37 444.48,298.82 444.91,299.2 445.34,299.53 445.77,299.8 446.2,299.99 446.63,300.12 447.06,300.19 447.49,300.18 447.92,300.11 448.35,299.97 448.79,299.76 449.22,299.49 449.65,299.16 450.08,298.77 450.51,298.32 450.94,297.82 451.37,297.27 451.8,296.68 452.23,296.05 452.66,295.38 453.09,294.68 453.52,293.96 453.95,293.22 454.39,292.46 454.82,291.7 455.25,290.94 455.68,290.18 456.11,289.43 456.54,288.7 456.97,287.99 457.4,287.31 457.83,286.66 458.26,286.04 458.69,285.47 459.12,284.95 459.56,284.48 459.99,284.06 460.42,283.7 460.85,283.41 461.28,283.17 461.71,283.01 462.14,282.91 462.57,282.88 463,282.93 463.43,283.04 463.86,283.23 464.3,283.48 464.73,283.8 465.16,284.19 465.59,284.64 466.02,285.16 466.45,285.73 466.88,286.36 467.31,287.03 467.74,287.76 468.17,288.53 468.6,289.33 469.03,290.16 469.47,291.02 469.9,291.91 470.33,292.8 470.76,293.7 471.19,294.61 471.62,295.51 472.05,296.41 472.48,297.28 472.91,298.14 473.34,298.96 473.77,299.76 474.2,300.51 474.63,301.22 475.07,301.88 475.5,302.49 475.93,303.04 476.36,303.52 476.79,303.94 477.22,304.3 477.65,304.58 478.08,304.79 478.51,304.92 478.94,304.98 479.37,304.96 479.81,304.87 480.24,304.7 480.67,304.46 481.1,304.14 481.53,303.75 481.96,303.29 482.39,302.76 482.82,302.17 483.25,301.52 483.68,300.82 484.11,300.07 484.54,299.27 484.98,298.42 485.41,297.55 485.84,296.64 486.27,295.72 486.7,294.77 487.13,293.81 487.56,292.85 487.99,291.89 488.42,290.93 488.85,289.99 489.28,289.07 489.71,288.17 490.14,287.31 490.58,286.48 491.01,285.69 491.44,284.95 491.87,284.26 492.3,283.63 492.73,283.05 493.16,282.54 493.59,282.1 494.02,281.72 494.45,281.41 494.88,281.18 495.31,281.02 495.75,280.93 496.18,280.92 496.61,280.98 497.04,281.12 497.47,281.32 497.9,281.59 498.33,281.94 498.76,282.34 499.19,282.81 499.62,283.33 500.05,283.91 500.49,284.53 500.92,285.2 501.35,285.91 501.78,286.65 502.21,287.42 502.64,288.21 503.07,289.01 503.5,289.83 503.93,290.65 504.36,291.47 504.79,292.29 505.22,293.09 505.65,293.87 506.09,294.63 506.52,295.35 506.95,296.05 507.38,296.7 507.81,297.3 508.24,297.86 508.67,298.37 509.1,298.82 509.53,299.2 509.96,299.53 510.39,299.8 510.82,299.99 511.26,300.12 511.69,300.19 512.12,300.18 512.55,300.11 512.98,299.97 513.41,299.76 513.84,299.49 514.27,299.16 514.7,298.77 515.13,298.32 515.56,297.82 516,297.27 516.43,296.68 516.86,296.05 517.29,295.38 517.72,294.68 518.15,293.96 518.58,293.22 519.01,292.46 519.44,291.7 519.87,290.94 520.3,290.18 520.73,289.43 521.16,288.7 521.6,287.99 522.03,287.31 522.46,286.66 522.89,286.04 523.32,285.47 523.75,284.95 524.18,284.48 524.61,284.06 525.04,283.7 525.47,283.41 525.9,283.17 526.34,283.01 526.77,282.91 527.2,282.88 527.63,282.93 528.06,283.04 528.49,283.23 528.92,283.48 529.35,283.8 529.78,284.19 530.21,284.64 530.64,285.16 531.07,285.73 531.5,286.36 531.94,287.03 532.37,287.76 532.8,288.53 533.23,289.33 533.66,290.16 534.09,291.02 534.52,291.91 534.95,292.8 535.38,293.7 535.81,294.61 536.24,295.51 536.67,296.41 537.11,297.28 537.54,298.14 537.97,298.96 538.4,299.76 538.83,300.51 539.26,301.22 539.69,301.88 540.12,302.49 540.55,303.04 540.98,303.52 541.41,303.94 541.85,304.3 542.28,304.58 542.71,304.79 543.14,304.92 543.57,304.98 544,304.96 544.43,304.87 544.86,304.7 545.29,304.46 545.72,304.14 546.15,303.75 546.58,303.29 547.01,302.76 547.45,302.17 547.88,301.52 548.31,300.82 548.74,300.07 549.17,299.27 549.6,298.42 550.03,297.55 550.46,296.64 550.89,295.72 551.32,294.77 551.75,293.81 552.18,292.85 552.62,291.89 553.05,290.93 553.48,289.99 553.91,289.07 554.34,288.17 554.77,287.31 555.2,286.48 555.63,285.69 556.06,284.95 556.49,284.26 556.92,283.63 557.36,283.05 557.79,282.54 558.22,282.1 558.65,281.72 559.08,281.41 559.51,281.18 559.94,281.02 560.37,280.93 560.8,280.92 561.23,280.98 561.66,281.12 562.09,281.32 562.52,281.59 562.96,281.94 563.39,282.34 563.82,282.81 564.25,283.33 564.68,283.91 565.11,284.53 565.54,285.2 565.97,285.91 566.4,286.65 566.83,287.42 567.26,288.21 567.69,289.01 568.13,289.83 568.56,290.65 568.99,291.47 569.42,292.29 569.85,293.09 570.28,293.87 570.71,294.63 571.14,295.35 571.57,296.05 572,296.7 572.43,297.3 572.87,297.86 573.3,298.37 573.73,298.82 574.16,299.2 574.59,299.53 575.02,299.8 575.45,299.99 575.88,300.12 576.31,300.19 576.74,300.18 577.17,300.11 577.6,299.97 578.03,299.76 578.47,299.49 578.9,299.16 579.33,298.77 579.76,298.32 580.19,297.82 580.62,297.27 581.05,296.68 581.48,296.05 581.91,295.38 582.34,294.68 582.77,293.96 583.2,293.22 583.64,292.46 584.07,291.7 584.5,290.94 584.93,290.18 585.36,289.43 585.79,288.7 586.22,287.99 586.65,287.31 587.08,286.66 587.51,286.04 587.94,285.47 588.38,284.95 588.81,284.48 589.24,284.06 589.67,283.7 590.1,283.41 590.53,283.17 590.96,283.01 591.39,282.91 591.82,282.88 592.25,282.93 592.68,283.04 593.11,283.23 593.55,283.48 593.98,283.8 594.41,284.19 594.84,284.64 595.27,285.16 595.7,285.73 596.13,286.36 596.56,287.03 596.99,287.76 597.42,288.53 597.85,289.33 598.28,290.16 598.72,291.02 599.15,291.91 599.58,292.8 600.01,293.7 600.44,294.61 600.87,295.51 601.3,296.41 601.73,297.28 602.16,298.14 602.59,298.96 603.02,299.76 603.45,300.51 603.88,301.22 604.32,301.88 604.75,302.49 605.18,303.04 605.61,303.52 606.04,303.94 606.47,304.3 606.9,304.58 607.33,304.79 607.76,304.92 608.19,304.98 608.62,304.96 609.06,304.87 609.49,304.7 609.92,304.46 610.35,304.14 610.78,303.75 611.21,303.29 611.64,302.76 612.07,302.17 612.5,301.52 612.93,300.82 613.36,300.07 613.79,299.27 614.23,298.42 614.66,297.55 615.09,296.64 615.52,295.72 615.95,294.77 616.38,293.81 616.81,292.85 617.24,291.89 617.67,290.93 618.1,289.99 618.53,289.07 618.96,288.17 619.39,287.31 619.83,286.48 620.26,285.69 620.69,284.95 621.12,284.26 621.55,283.63 621.98,283.05 622.41,282.54 622.84,282.1 623.27,281.72 623.7,281.41 624.13,281.18 624.57,281.02 625,280.93 625.43,280.92 625.86,280.98 626.29,281.12 626.72,281.32 627.15,281.59 627.58,281.94 628.01,282.34 628.44,282.81 628.87,283.33 629.3,283.91 629.74,284.53 630.17,285.2 630.6,285.91 631.03,286.65 631.46,287.42 631.89,288.21 632.32,289.01 632.75,289.83 633.18,290.65 633.61,291.47 634.04,292.29 634.47,293.09 634.9,293.87 635.34,294.63 635.77,295.35 636.2,296.05 636.63,296.7 637.06,297.3 637.49,297.86 637.92,298.37 638.35,298.82 638.78,299.2 639.21,299.53 639.64,299.8 640.08,299.99 640.51,300.12 640.94,300.19 641.37,300.18 641.8,300.11 642.23,299.97 642.66,299.76 643.09,299.49 643.52,299.16 643.95,298.77 644.38,298.32 644.81,297.82 645.25,297.27 645.68,296.68 646.11,296.05 646.54,295.38 646.97,294.68 647.4,293.96 647.83,293.22 648.26,292.46 648.69,291.7 649.12,290.94 649.55,290.18 649.98,289.43 650.41,288.7 650.85,287.99 651.28,287.31 651.71,286.66 652.14,286.04 652.57,285.47 653,284.95" fill="none" stroke="#8d5ab1" stroke-width="1.6" stroke-linejoin="round"/>
</g>
<rect x="394.5" y="206.5" width="258.5" height="103.8" fill="none" stroke="#262626" stroke-width="1"/>
<line x1="394.5" y1="258.5" x2="653" y2="258.5" stroke="#262626" stroke-width="1" />
<line x1="426.81" y1="258.5" x2="426.81" y2="255.9" stroke="#262626" stroke-width="0.8" />
<line x1="426.81" y1="310.3" x2="426.81" y2="307.7" stroke="#262626" stroke-width="0.8" />
<line x1="459.12" y1="258.5" x2="459.12" y2="255.9" stroke="#262626" stroke-width="0.8" />
<line x1="459.12" y1="310.3" x2="459.12" y2="307.7" stroke="#262626" stroke-width="0.8" />
<line x1="491.44" y1="258.5" x2="491.44" y2="255.9" stroke="#262626" stroke-width="0.8" />
<line x1="491.44" y1="310.3" x2="491.44" y2="307.7" stroke="#262626" stroke-width="0.8" />
<line x1="523.75" y1="258.5" x2="523.75" y2="255.9" stroke="#262626" stroke-width="0.8" />
<line x1="523.75" y1="310.3" x2="523.75" y2="307.7" stroke="#262626" stroke-width="0.8" />
<line x1="556.06" y1="258.5" x2="556.06" y2="255.9" stroke="#262626" stroke-width="0.8" />
<line x1="556.06" y1="310.3" x2="556.06" y2="307.7" stroke="#262626" stroke-width="0.8" />
<line x1="588.38" y1="258.5" x2="588.38" y2="255.9" stroke="#262626" stroke-width="0.8" />
<line x1="588.38" y1="310.3" x2="588.38" y2="307.7" stroke="#262626" stroke-width="0.8" />
<line x1="620.69" y1="258.5" x2="620.69" y2="255.9" stroke="#262626" stroke-width="0.8" />
<line x1="620.69" y1="310.3" x2="620.69" y2="307.7" stroke="#262626" stroke-width="0.8" />
<line x1="394.5" y1="254.25" x2="397.5" y2="254.25" stroke="#262626" stroke-width="0.8" />
<line x1="394.5" y1="233" x2="397.5" y2="233" stroke="#262626" stroke-width="0.8" />
<line x1="394.5" y1="211.75" x2="397.5" y2="211.75" stroke="#262626" stroke-width="0.8" />
<line x1="394.5" y1="300.6" x2="397.5" y2="300.6" stroke="#262626" stroke-width="0.8" />
<line x1="394.5" y1="284.4" x2="397.5" y2="284.4" stroke="#262626" stroke-width="0.8" />
<line x1="394.5" y1="268.2" x2="397.5" y2="268.2" stroke="#262626" stroke-width="0.8" />
<text transform="translate(390.2,213.8) scale(1,1.08)" font-size="9.5" text-anchor="end" fill="#262626" >5</text>
<text transform="translate(390.2,234.6) scale(1,1.08)" font-size="9.5" text-anchor="end" fill="#262626" >0</text>
<text transform="translate(390.2,255.1) scale(1,1.08)" font-size="9.5" text-anchor="end" fill="#262626" >-5</text>
<text transform="translate(390.2,270.6) scale(1,1.08)" font-size="9.5" text-anchor="end" fill="#262626" >0.5</text>
<text transform="translate(390.2,287) scale(1,1.08)" font-size="9.5" text-anchor="end" fill="#262626" >0</text>
<text transform="translate(390.2,303) scale(1,1.08)" font-size="9.5" text-anchor="end" fill="#262626" >-0.5</text>
<text transform="translate(394.5,322.3) scale(1,1.08)" font-size="9.5" text-anchor="middle" fill="#262626" >0</text>
<text transform="translate(459.12,322.3) scale(1,1.08)" font-size="9.5" text-anchor="middle" fill="#262626" >2.5</text>
<text transform="translate(523.75,322.3) scale(1,1.08)" font-size="9.5" text-anchor="middle" fill="#262626" >5</text>
<text transform="translate(588.38,322.3) scale(1,1.08)" font-size="9.5" text-anchor="middle" fill="#262626" >7.5</text>
<text transform="translate(653,322.3) scale(1,1.08)" font-size="9.5" text-anchor="middle" fill="#262626" >10</text>
<text x="529.4" y="334.2" font-size="9.5" text-anchor="middle" fill="#262626" >Time (s)</text>
<text transform="translate(371,234) rotate(-90) scale(1,1.0)" font-size="9.7" text-anchor="middle" fill="#262626" stroke="#262626">E (kV/mm)</text>
<text transform="translate(371.2,288.6) rotate(-90) scale(1,1.0)" font-size="9.7" text-anchor="middle" fill="#262626" stroke="#262626">x (×10<tspan dy="-3.4" font-size="6.5">-4</tspan><tspan dy="3.4">)</tspan></text>
<circle cx="599.6" cy="263.4" r="1.9" fill="none" stroke="#666" stroke-width="1.0"/>
<text x="604.9" y="265.9" font-size="7" text-anchor="start" fill="#262626" >Electric field</text>
<circle cx="599.6" cy="271.9" r="1.9" fill="none" stroke="#7a3fa4" stroke-width="1.1"/>
<text x="604.9" y="274.4" font-size="7" text-anchor="start" fill="#262626" >Strain at 0.4Hz</text>
<line x1="634.5" y1="165" x2="634.5" y2="193" stroke="#262626" stroke-width="0.9" stroke-dasharray="1.3 1.3"/>
<path d="M634.5,159.6 L636.9,167 L634.5,165.4 L632.1,167Z" fill="#262626"/>
<path d="M634.5,198.8 L636.9,191.4 L634.5,193 L632.1,191.4Z" fill="#262626"/>
<text x="408" y="196.3" font-size="8.8" text-anchor="start" fill="#262626" >φ</text>
<text x="414.6" y="198.9" font-size="5.6" text-anchor="start" fill="#262626" >ε</text>
<line x1="410" y1="202.7" x2="414.2" y2="202.7" stroke="#6a2fa0" stroke-width="1.0" />
<path d="M416.5,202.7 L413.7,201.1 L413.7,204.3Z" fill="#6a2fa0"/>
<text x="-0.2" y="191.5" font-size="10" text-anchor="start" fill="#262626" >b</text>
<text x="363.4" y="196" font-size="9.5" text-anchor="start" fill="#262626" >c</text>
</g>
</svg>
</div></body></html>
